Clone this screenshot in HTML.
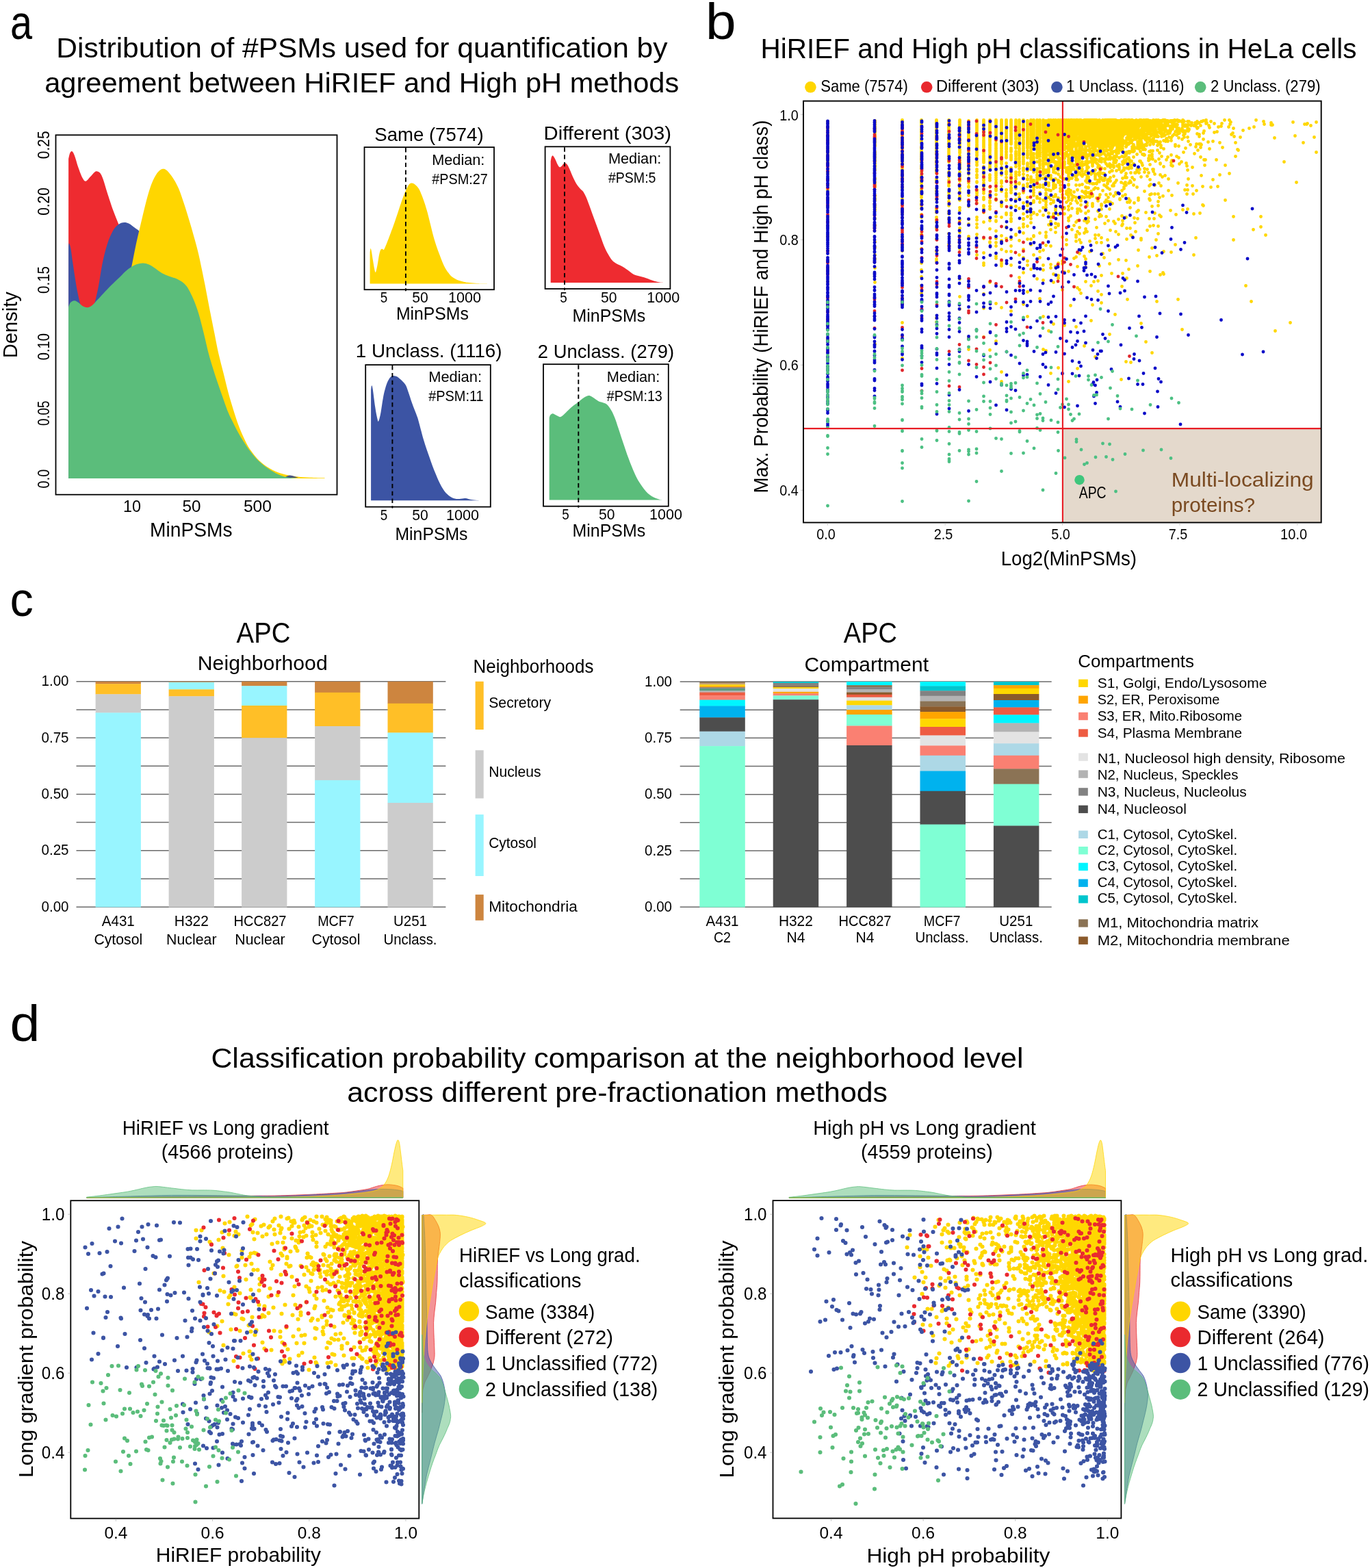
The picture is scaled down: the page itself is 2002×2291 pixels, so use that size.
<!DOCTYPE html>
<html lang="en"><head><meta charset="utf-8"><title>Figure</title>
<style>html,body{margin:0;padding:0;background:#fff}svg{display:block}text{font-family:"Liberation Sans",Arial,Helvetica,sans-serif}</style>
</head><body>
<svg width="2002" height="2291" viewBox="0 0 2002 2291">
<rect width="2002" height="2291" fill="#fff"/>
<g><text x="14.9" y="57.4" font-size="71" textLength="32.1" lengthAdjust="spacingAndGlyphs">a</text>
<text x="82.3" y="84.2" font-size="41" textLength="893.2" lengthAdjust="spacingAndGlyphs">Distribution of #PSMs used for quantification by</text>
<text x="65.2" y="135.2" font-size="41" textLength="927" lengthAdjust="spacingAndGlyphs">agreement between HiRIEF and High pH methods</text>
<path d="M100.1 232.2C100.5 230.8 101.3 225.9 102.1 224C103 222.2 103.9 220.6 105 221.1C106.2 221.6 107.2 222.9 108.8 226.9C110.4 230.9 112.7 239.7 114.6 245.2C116.6 250.7 118.6 256.5 120.4 259.7C122.2 263 123.4 264.9 125.4 264.7C127.3 264.4 130 260.4 132 258.3C134.1 256.1 136.1 253.2 137.8 251.9C139.5 250.6 140.7 250.2 142.2 250.4C143.6 250.6 145.1 251 146.5 253C148 255.1 149.2 257.9 150.9 262.6C152.6 267.4 154.3 274 156.7 281.5C159.1 289 162.5 299.6 165.4 307.6C168.3 315.6 170.7 321.1 174.1 329.4C177.5 337.6 180.9 346.1 185.7 356.9C190.6 367.8 195.4 381.6 203.1 394.7C210.9 407.7 227.3 428.5 232.2 435.3L232.2 698.9L100.1 698.9Z" fill="#ee2b30"/>
<path d="M100.1 359.8C100.3 359.1 100.5 355 101 355.5C101.5 356 102.4 358.1 103.3 362.7C104.2 367.3 105.1 375.8 106.2 383.1C107.3 390.3 108.4 398.5 109.7 406.3C110.9 414 112.2 422.2 113.8 429.5C115.3 436.7 117.1 444 119 449.8C120.8 455.6 123.3 461.3 124.8 464.3C126.2 467.3 126.6 467.8 127.7 467.8C128.7 467.8 129.7 467.3 131.2 464.3C132.6 461.3 134.3 457.2 136.4 449.8C138.5 442.4 141.5 430.5 143.6 419.9C145.8 409.3 147.3 396.4 149.4 386C151.6 375.5 154 365.2 156.7 356.9C159.4 348.7 162.5 341.6 165.4 336.6C168.3 331.7 171.5 329.3 174.1 327.3C176.8 325.4 179 325.1 181.4 325C183.8 324.9 186 325.4 188.6 326.8C191.3 328.1 194.7 331.1 197.3 333.1C200 335.2 200.7 335 204.6 338.9C208.5 342.9 213.5 345.7 220.5 356.9C227.6 368.2 242.3 398 246.7 406.3L246.7 698.9L100.1 698.9Z" fill="#3c54a4"/>
<path d="M179.9 435.3C181.1 431.4 185 420.3 187.2 412.1C189.3 403.8 191.1 394.7 193 386C194.8 377.2 196.5 367.8 198.2 359.8C199.9 351.9 201.3 345.8 203.1 338.1C204.9 330.3 207 321.4 208.9 313.4C210.9 305.4 212.8 297.2 214.7 290.2C216.7 283.2 218.6 276.6 220.5 271.3C222.5 266 224.4 261.8 226.3 258.3C228.3 254.7 230.2 252.1 232.2 250.1C234.1 248.2 236 246.9 238 246.7C239.9 246.5 241.3 246.8 243.8 249C246.2 251.2 249.6 255.3 252.5 259.7C255.4 264.2 258.5 269.6 261.2 275.7C263.8 281.7 266 288.7 268.4 296C270.8 303.3 273.3 311.2 275.7 319.2C278.1 327.2 280.5 335.2 282.9 343.9C285.4 352.6 287.5 359.9 290.2 371.4C292.9 383 296 398.5 298.9 412.9C301.8 427.4 305.2 445.7 307.6 458C310 470.4 311.5 477.4 313.4 487.1C315.3 496.7 317 506.4 319.2 516.1C321.4 525.7 324 535.4 326.5 545.1C328.9 554.8 331.3 565.2 333.7 574.1C336.1 583.1 338.6 591 341 598.8C343.4 606.5 345.8 614 348.2 620.5C350.6 627.1 353.1 632.6 355.5 638C357.9 643.3 360.1 648 362.7 652.5C365.4 656.9 368.5 661 371.4 664.7C374.3 668.3 376.8 671.2 380.2 674.2C383.5 677.3 387.4 680.3 391.8 682.9C396.1 685.6 401.4 688.3 406.3 690.2C411.1 692.1 415.9 693.2 420.8 694.3C425.6 695.3 430 696 435.3 696.6C440.6 697.2 446.2 697.4 452.7 697.7C459.2 698 470.8 698.2 474.5 698.3L474.5 698.9L179.9 698.9Z" fill="#ffd600"/>
<path d="M416 698 Q422 692 430 696 L436 698Z" fill="#4a5580"/>
<path d="M100.1 448.8C100.6 447.6 101.6 443.7 103 442.1C104.5 440.5 106.9 439.2 108.8 439.2C110.8 439.2 112.7 440.8 114.6 442.1C116.6 443.4 118.3 445.8 120.4 447C122.6 448.2 125.3 449.5 127.7 449.3C130.1 449.1 132.5 447.7 134.9 445.9C137.4 444 139.5 441.1 142.2 438.3C144.9 435.5 147.5 432.6 150.9 429C154.3 425.4 158.6 420.7 162.5 416.8C166.4 413 170.7 409.1 174.1 405.8C177.5 402.5 179.9 399.6 182.8 397C185.7 394.4 188.6 392.1 191.5 390.3C194.4 388.5 197.3 386.9 200.2 386C203.1 385 206 384.4 208.9 384.5C211.8 384.6 214.7 385.3 217.6 386.5C220.5 387.7 223.2 389.7 226.3 391.8C229.5 393.8 233.1 397.1 236.5 399C239.9 400.9 243.5 402.2 246.7 403.4C249.8 404.6 252.7 405.2 255.4 406.3C258 407.3 260.2 408.3 262.6 409.8C265 411.2 267.7 412.8 269.9 415C272.1 417.2 273.5 419.1 275.7 422.9C277.9 426.7 280.5 431.9 282.9 437.7C285.4 443.6 287.8 450.1 290.2 458C292.6 466 295 475.9 297.4 485.6C299.9 495.3 302.3 506.9 304.7 516.1C307.1 525.3 309.5 533 312 540.7C314.4 548.5 316.8 555.4 319.2 562.5C321.6 569.6 324 576.6 326.5 583.4C328.9 590.2 331.3 597.3 333.7 603.1C336.1 608.9 338.6 613.4 341 618.2C343.4 623.1 345.8 627.8 348.2 632.2C350.6 636.6 353.1 640.8 355.5 644.6C357.9 648.5 360.3 652 362.7 655.4C365.2 658.7 367.6 661.8 370 664.7C372.4 667.6 374.8 670.4 377.2 672.8C379.7 675.2 382.1 677.2 384.5 679.2C386.9 681.1 389.3 682.7 391.8 684.4C394.2 686 396.6 687.6 399 689C401.4 690.5 403.8 692 406.3 693.1C408.7 694.2 411.1 695 413.5 695.7C415.9 696.4 417.2 696.9 420.8 697.4C424.4 698 432.9 698.7 435.3 698.9L435.3 698.9L100.1 698.9Z" fill="#5bbd7b"/>
<rect x="81.5" y="197.3" width="411" height="525.4" fill="none" stroke="#000" stroke-width="1.8"/>
<text x="193" y="748.3" font-size="24.2" text-anchor="middle" textLength="26" lengthAdjust="spacingAndGlyphs">10</text>
<text x="280" y="748.3" font-size="24.2" text-anchor="middle" textLength="27" lengthAdjust="spacingAndGlyphs">50</text>
<text x="376.4" y="748.3" font-size="24.2" text-anchor="middle" textLength="41" lengthAdjust="spacingAndGlyphs">500</text>
<text x="219" y="783.6" font-size="29.9" textLength="120.5" lengthAdjust="spacingAndGlyphs">MinPSMs</text>
<text font-size="24.2" text-anchor="middle" textLength="27.6" lengthAdjust="spacingAndGlyphs" transform="translate(72 699.6) rotate(-90)">0.0</text>
<text font-size="24.2" text-anchor="middle" textLength="36.3" lengthAdjust="spacingAndGlyphs" transform="translate(72 603.9) rotate(-90)">0.05</text>
<text font-size="24.2" text-anchor="middle" textLength="39.2" lengthAdjust="spacingAndGlyphs" transform="translate(72 506.6) rotate(-90)">0.10</text>
<text font-size="24.2" text-anchor="middle" textLength="40" lengthAdjust="spacingAndGlyphs" transform="translate(72 409) rotate(-90)">0.15</text>
<text font-size="24.2" text-anchor="middle" textLength="40.7" lengthAdjust="spacingAndGlyphs" transform="translate(72 294.5) rotate(-90)">0.20</text>
<text font-size="24.2" text-anchor="middle" textLength="40.7" lengthAdjust="spacingAndGlyphs" transform="translate(72 211.8) rotate(-90)">0.25</text>
<text font-size="29.9" text-anchor="middle" textLength="97" lengthAdjust="spacingAndGlyphs" transform="translate(24.9 474.7) rotate(-90)">Density</text>
<path d="M540.6 368.9C540.8 368 541.1 363.4 541.5 363.1C541.9 362.9 542.4 364.6 542.9 367.5C543.5 370.4 544.3 376.4 545 380.5C545.7 384.7 546.4 389.3 547 392.2C547.6 395.1 548.2 398 548.8 398C549.3 398 549.9 394.6 550.5 392.2C551.1 389.7 551.6 386.9 552.2 383.4C552.9 380 553.5 374.4 554.3 371.3C555 368.1 555.8 365.8 556.6 364.6C557.4 363.3 558.2 363.7 558.9 363.7C559.6 363.8 560.1 365.7 560.9 364.9C561.8 364.1 562.9 361 563.8 358.8C564.8 356.6 565.5 354.7 566.7 351.5C568 348.4 569.6 343.8 571.1 339.9C572.5 336 573.8 333.1 575.4 328.3C577.1 323.5 579.3 316.7 581.3 310.9C583.2 305.1 585.4 298.3 587.1 293.5C588.8 288.7 590 285.4 591.4 281.9C592.9 278.4 594.6 274.8 595.8 272.6C597 270.4 597.7 269.4 598.7 268.5C599.6 267.7 600.5 267.4 601.6 267.4C602.6 267.4 603.8 267.8 605 268.5C606.3 269.3 607.6 270.4 608.8 271.7C610.1 273.1 611.4 274.5 612.6 276.7C613.8 278.8 614.8 281.5 616.1 284.8C617.4 288.1 619 292 620.4 296.4C621.9 300.7 623.3 305.6 624.8 310.9C626.2 316.2 627.7 322.5 629.1 328.3C630.6 334.1 632 340.5 633.5 345.7C634.9 350.9 636.4 355.3 637.8 359.7C639.3 364 640.7 368 642.2 371.8C643.6 375.7 645.1 379.5 646.5 382.9C648 386.3 649.4 389.5 650.9 392.2C652.4 394.8 653.8 396.6 655.3 398.5C656.7 400.5 657.9 402.3 659.6 403.8C661.3 405.3 663.5 406.5 665.4 407.5C667.3 408.6 669 409.4 671.2 410.1C673.4 410.9 676 411.4 678.5 411.9C680.9 412.4 682.6 412.7 685.7 413C688.9 413.4 693 413.7 697.3 413.9C701.7 414.1 709.4 414.2 711.8 414.2L711.8 414.5L540.6 414.5Z" fill="#ffd600"/>
<rect x="532.5" y="215.1" width="189.5" height="208.1" fill="none" stroke="#000" stroke-width="1.8"/>
<path d="M592.9 216.1V425.2" stroke="#000" stroke-width="1.9" stroke-dasharray="6.4 4.4" fill="none"/>
<text x="547.3" y="206.4" font-size="28.3" textLength="159.3" lengthAdjust="spacingAndGlyphs">Same (7574)</text>
<text x="631.2" y="241.3" font-size="21.6" textLength="77.2" lengthAdjust="spacingAndGlyphs">Median:</text>
<text x="631.2" y="268.8" font-size="21.6" textLength="81.5" lengthAdjust="spacingAndGlyphs">#PSM:27</text>
<text x="561" y="442" font-size="21.6" text-anchor="middle" textLength="10.5" lengthAdjust="spacingAndGlyphs">5</text>
<text x="614" y="442" font-size="21.6" text-anchor="middle" textLength="23.5" lengthAdjust="spacingAndGlyphs">50</text>
<text x="679" y="442" font-size="21.6" text-anchor="middle" textLength="48" lengthAdjust="spacingAndGlyphs">1000</text>
<text x="578.9" y="467" font-size="25.2" textLength="106" lengthAdjust="spacingAndGlyphs">MinPSMs</text>
<path d="M804.7 235.4C804.9 234.5 805.4 231 805.9 229.6C806.3 228.3 807 227.3 807.6 227.3C808.2 227.3 808.9 228.5 809.6 229.6C810.4 230.8 811.1 232.2 812 234C812.8 235.8 813.9 238.7 814.9 240.4C815.8 242.1 816.8 243.8 817.8 244.2C818.7 244.5 819.7 243.5 820.7 242.7C821.6 241.9 822.6 239.9 823.6 239.2C824.5 238.5 825.5 238 826.5 238.4C827.4 238.7 828.4 239.8 829.4 241.3C830.3 242.7 831.1 244.4 832.3 247.1C833.5 249.7 834.9 253.6 836.6 257.2C838.3 260.8 840.6 265.8 842.4 268.8C844.3 271.9 846 273.6 847.6 275.5C849.3 277.4 851.1 278.4 852.6 280.4C854 282.5 855.1 285 856.4 287.7C857.6 290.3 858.3 292.3 859.8 296.4C861.4 300.5 863.7 307 865.6 312.4C867.6 317.7 869.5 323 871.4 328.3C873.4 333.6 875.3 339 877.2 344.3C879.2 349.6 881.1 355.6 883.1 360.2C885 364.8 886.9 368.5 888.9 371.8C890.8 375.2 892.7 378.4 894.7 380.5C896.6 382.7 898.5 383.7 900.5 384.9C902.4 386.1 904.3 386.8 906.3 387.8C908.2 388.8 910.1 389.8 912.1 391C914 392.2 915.9 393.7 917.9 395.1C919.8 396.5 921.7 398.2 923.7 399.4C925.6 400.6 927.5 401.6 929.5 402.3C931.4 403 933.4 403.3 935.3 403.8C937.2 404.2 939.2 404.6 941.1 405.2C943 405.8 945 406.5 946.9 407.2C948.8 408 950.8 408.9 952.7 409.6C954.6 410.2 956.6 410.8 958.5 411.3C960.4 411.8 962.3 412.2 964.3 412.5C966.3 412.8 969.6 413 970.7 413L970.7 413L804.7 413Z" fill="#ee2b30"/>
<rect x="796.6" y="214.3" width="182.8" height="207.7" fill="none" stroke="#000" stroke-width="1.8"/>
<path d="M825 215.3V424" stroke="#000" stroke-width="1.9" stroke-dasharray="6.4 4.4" fill="none"/>
<text x="794.5" y="203.5" font-size="28.3" textLength="186.6" lengthAdjust="spacingAndGlyphs">Different (303)</text>
<text x="888.9" y="239.2" font-size="21.6" textLength="77.4" lengthAdjust="spacingAndGlyphs">Median:</text>
<text x="888.9" y="266.8" font-size="21.6" textLength="69.6" lengthAdjust="spacingAndGlyphs">#PSM:5</text>
<text x="823.6" y="441.5" font-size="21.6" text-anchor="middle" textLength="10.5" lengthAdjust="spacingAndGlyphs">5</text>
<text x="889.7" y="441.5" font-size="21.6" text-anchor="middle" textLength="23.5" lengthAdjust="spacingAndGlyphs">50</text>
<text x="969.2" y="441.5" font-size="21.6" text-anchor="middle" textLength="48" lengthAdjust="spacingAndGlyphs">1000</text>
<text x="836.6" y="470" font-size="25.2" textLength="106.5" lengthAdjust="spacingAndGlyphs">MinPSMs</text>
<path d="M542.1 570C542.2 569.1 542.4 565.8 542.7 564.7C542.9 563.7 543.2 562.9 543.5 563.6C543.9 564.2 544.2 565.5 544.7 568.5C545.2 571.5 545.9 577.2 546.4 581.6C547 585.9 547.6 590.8 548.2 594.6C548.8 598.5 549.3 601.7 549.9 604.8C550.5 607.8 551.2 611.1 551.7 612.9C552.1 614.7 552.3 616.1 552.8 615.8C553.3 615.5 553.9 613.5 554.6 611.2C555.2 608.8 555.9 605.6 556.6 601.9C557.3 598.2 557.9 593.2 558.6 588.8C559.3 584.5 560.1 579.8 560.9 575.8C561.8 571.7 562.9 567.9 563.8 564.7C564.8 561.6 565.7 559.1 566.7 556.9C567.8 554.7 569 552.7 570.2 551.4C571.4 550.1 572.7 549.4 574 549.1C575.3 548.8 576.6 549.3 577.8 549.6C579 550 579.7 550 581.3 551.1C582.8 552.2 585.1 554.1 587.1 556C589 558 591.2 559.7 592.9 562.7C594.6 565.8 595.8 570.2 597.2 574.3C598.7 578.4 600.1 583.3 601.6 587.4C603 591.5 604.5 595.1 605.9 599C607.4 602.8 608.8 606 610.3 610.6C611.7 615.2 613.2 621.2 614.6 626.5C616.1 631.9 617.5 637.6 619 642.5C620.4 647.4 621.9 651.8 623.3 656.1C624.8 660.5 626.2 664.5 627.7 668.6C629.1 672.7 630.6 676.9 632 680.8C633.5 684.7 634.9 688.3 636.4 691.8C637.8 695.4 639.3 698.9 640.7 702C642.2 705.1 643.6 708.1 645.1 710.7C646.5 713.3 648 715.4 649.4 717.4C650.9 719.3 652.4 720.9 653.8 722.3C655.3 723.7 656.7 724.8 658.2 725.8C659.6 726.8 661.1 727.6 662.5 728.1C664 728.6 665.4 728.8 666.9 729C668.3 729.1 669.8 729.1 671.2 729C672.7 728.9 674.1 728.5 675.6 728.4C677 728.3 678.5 728 679.9 728.1C681.4 728.2 682.8 728.6 684.3 729C685.7 729.3 686.4 729.8 688.6 730.1C690.8 730.5 693.9 730.8 697.3 731C700.7 731.2 707 731.3 708.9 731.3L708.9 731.3L542.1 731.3Z" fill="#3c54a4"/>
<rect x="534.2" y="533.1" width="182.6" height="207.5" fill="none" stroke="#000" stroke-width="1.8"/>
<path d="M573.4 534.1V742.6" stroke="#000" stroke-width="1.9" stroke-dasharray="6.4 4.4" fill="none"/>
<text x="519.7" y="522.1" font-size="28.3" textLength="213.9" lengthAdjust="spacingAndGlyphs">1 Unclass. (1116)</text>
<text x="626.2" y="558.4" font-size="21.6" textLength="77.8" lengthAdjust="spacingAndGlyphs">Median:</text>
<text x="626.2" y="585.9" font-size="21.6" textLength="80.4" lengthAdjust="spacingAndGlyphs">#PSM:11</text>
<text x="561" y="760" font-size="21.6" text-anchor="middle" textLength="10.5" lengthAdjust="spacingAndGlyphs">5</text>
<text x="614" y="760" font-size="21.6" text-anchor="middle" textLength="23.5" lengthAdjust="spacingAndGlyphs">50</text>
<text x="676" y="760" font-size="21.6" text-anchor="middle" textLength="48" lengthAdjust="spacingAndGlyphs">1000</text>
<text x="577.5" y="789" font-size="25.2" textLength="105.9" lengthAdjust="spacingAndGlyphs">MinPSMs</text>
<path d="M802.7 610.6C802.9 609.9 803.3 607.6 804.1 606.5C804.9 605.5 806.5 604.4 807.6 604.2C808.7 604 809.5 604.9 810.5 605.4C811.5 605.8 812.4 606.6 813.4 607.1C814.4 607.6 815.3 608.2 816.3 608.6C817.3 608.9 818 609.6 819.2 609.1C820.4 608.7 821.6 607.6 823.6 605.9C825.5 604.3 828.4 601.2 830.8 599C833.2 596.8 835.7 594.5 838.1 592.6C840.5 590.7 842.9 589.2 845.3 587.4C847.7 585.5 850.2 583.1 852.6 581.6C855 580 857.9 578.5 859.8 578.1C861.8 577.7 862.7 578.6 864.2 579.2C865.6 579.9 866.9 581 868.5 582.1C870.2 583.3 872.4 585 874.3 585.9C876.3 586.9 878.2 587.2 880.2 588C882.1 588.7 884.3 589.1 886 590.3C887.6 591.4 888.9 593 890.3 594.9C891.8 596.9 893.2 599 894.7 601.9C896.1 604.7 897.6 608.2 899 612C900.5 615.9 901.9 620.7 903.4 625.1C904.8 629.4 906.3 633.8 907.7 638.2C909.2 642.5 910.4 646.2 912.1 651.2C913.8 656.2 915.9 662.7 917.9 668C919.8 673.4 921.7 678.4 923.7 683.1C925.6 687.8 927.5 692.3 929.5 696.2C931.4 700.1 933.4 703.3 935.3 706.3C937.2 709.4 939.2 712.1 941.1 714.5C943 716.9 945 719.1 946.9 720.9C948.8 722.6 950.8 724 952.7 725.2C954.6 726.4 956.6 727.3 958.5 728.1C960.4 728.9 962.6 729.5 964.3 729.9C966 730.2 967.9 730.3 968.7 730.4L968.7 730.4L802.7 730.4Z" fill="#5bbd7b"/>
<rect x="794" y="532.2" width="182.8" height="207.5" fill="none" stroke="#000" stroke-width="1.8"/>
<path d="M845.3 533.2V741.7" stroke="#000" stroke-width="1.9" stroke-dasharray="6.4 4.4" fill="none"/>
<text x="785.8" y="523" font-size="28.3" textLength="199.4" lengthAdjust="spacingAndGlyphs">2 Unclass. (279)</text>
<text x="886.8" y="558.4" font-size="21.6" textLength="77.5" lengthAdjust="spacingAndGlyphs">Median:</text>
<text x="886.8" y="585.9" font-size="21.6" textLength="81" lengthAdjust="spacingAndGlyphs">#PSM:13</text>
<text x="826.5" y="759.2" font-size="21.6" text-anchor="middle" textLength="10.5" lengthAdjust="spacingAndGlyphs">5</text>
<text x="886.8" y="759.2" font-size="21.6" text-anchor="middle" textLength="23.5" lengthAdjust="spacingAndGlyphs">50</text>
<text x="973" y="759.2" font-size="21.6" text-anchor="middle" textLength="48" lengthAdjust="spacingAndGlyphs">1000</text>
<text x="836.6" y="784.1" font-size="25.2" textLength="106.5" lengthAdjust="spacingAndGlyphs">MinPSMs</text></g>
<g><text x="1031" y="56.9" font-size="74.7" textLength="44.6" lengthAdjust="spacingAndGlyphs">b</text>
<text x="1111.5" y="85" font-size="41" textLength="871" lengthAdjust="spacingAndGlyphs">HiRIEF and High pH classifications in HeLa cells</text>
<circle cx="1184.4" cy="127.3" r="8.3" fill="#ffd600"/>
<text x="1199.2" y="134.4" font-size="24.2" textLength="127.6" lengthAdjust="spacingAndGlyphs">Same (7574)</text>
<circle cx="1354.2" cy="127.3" r="8.3" fill="#e8282d"/>
<text x="1367.9" y="134.4" font-size="24.2" textLength="150.7" lengthAdjust="spacingAndGlyphs">Different (303)</text>
<circle cx="1544.4" cy="127.3" r="8.3" fill="#3c54a4"/>
<text x="1558" y="134.4" font-size="24.2" textLength="172.6" lengthAdjust="spacingAndGlyphs">1 Unclass. (1116)</text>
<circle cx="1754.2" cy="127.3" r="8.3" fill="#5bbd7b"/>
<text x="1769" y="134.4" font-size="24.2" textLength="160.5" lengthAdjust="spacingAndGlyphs">2 Unclass. (279)</text>
<rect x="1553" y="626" width="377.7" height="137" fill="#e4d9cc"/>
<path d="M1209.5 177.5h.01m0 1h-.01m0 2h.01m0 5h-.01m0 3h.01m0 8h-.01m0 1h.01m0 7h-.01m0 2h.01m0 8h-.01m0 1h.01m0 3h-.01m0 3h.01m0 1h-.01m0 3h.01m0 1h-.01m0 6h.01m0 1h-.01m0 3h.01m0 1h-.01m0 14h.01m0 2h-.01m0 9h.01m0 8h-.01m0 7h.01m0 5h-.01m0 7h.01m0 12h-.01m0 16h.01m0 12h-.01m0 15h.01m0 1h-.01m0 66h.01m0 31h-.01m0 33h.01m0 21h-.01m69 -320h.01m0 1h-.01m0 2h.01m0 2h-.01m0 3h.01m0 1h-.01m0 1h.01m0 3h-.01m0 1h.01m0 1h-.01m0 1h.01m0 1h-.01m0 1h.01m0 3h-.01m0 1h.01m0 1h-.01m0 1h.01m0 1h-.01m0 1h.01m0 1h-.01m0 1h.01m0 3h-.01m0 3h.01m0 2h-.01m0 1h.01m0 8h-.01m0 2h.01m0 2h-.01m0 1h.01m0 3h-.01m0 1h.01m0 3h-.01m0 1h.01m0 2h-.01m0 3h.01m0 1h-.01m0 1h.01m0 1h-.01m0 2h.01m0 4h-.01m0 12h.01m0 1h-.01m0 5h.01m0 1h-.01m0 3h.01m0 1h-.01m0 2h.01m0 12h-.01m0 2h.01m0 3h-.01m0 1h.01m0 1h-.01m0 8h.01m0 3h-.01m0 2h.01m0 2h-.01m0 12h.01m0 10h-.01m0 24h.01m0 8h-.01m0 11h.01m0 6h-.01m0 13h.01m0 21h-.01m0 90h.01m40 -327h-.01m0 1h.01m0 1h-.01m0 1h.01m0 2h-.01m0 1h.01m0 1h-.01m0 3h.01m0 1h-.01m0 1h.01m0 1h-.01m0 1h.01m0 1h-.01m0 1h.01m0 1h-.01m0 1h.01m0 1h-.01m0 2h.01m0 1h-.01m0 1h.01m0 1h-.01m0 2h.01m0 1h-.01m0 2h.01m0 1h-.01m0 1h.01m0 1h-.01m0 1h.01m0 2h-.01m0 1h.01m0 1h-.01m0 1h.01m0 2h-.01m0 1h.01m0 1h-.01m0 3h.01m0 3h-.01m0 3h.01m0 3h-.01m0 1h.01m0 1h-.01m0 1h.01m0 1h-.01m0 2h.01m0 2h-.01m0 1h.01m0 3h-.01m0 1h.01m0 1h-.01m0 1h.01m0 2h-.01m0 2h.01m0 1h-.01m0 2h.01m0 2h-.01m0 3h.01m0 2h-.01m0 2h.01m0 3h-.01m0 6h.01m0 6h-.01m0 15h.01m0 7h-.01m0 2h.01m0 7h-.01m0 6h.01m0 12h-.01m0 21h.01m0 13h-.01m0 8h.01m0 26h-.01m0 6h.01m0 73h-.01m0 52h.01m28 -348h-.01m0 1h.01m0 1h-.01m0 1h.01m0 1h-.01m0 1h.01m0 2h-.01m0 1h.01m0 5h-.01m0 1h.01m0 2h-.01m0 1h.01m0 1h-.01m0 3h.01m0 1h-.01m0 2h.01m0 1h-.01m0 1h.01m0 2h-.01m0 1h.01m0 1h-.01m0 1h.01m0 1h-.01m0 1h.01m0 6h-.01m0 1h.01m0 1h-.01m0 1h.01m0 1h-.01m0 2h.01m0 1h-.01m0 1h.01m0 3h-.01m0 2h.01m0 2h-.01m0 2h.01m0 1h-.01m0 1h.01m0 3h-.01m0 6h.01m0 1h-.01m0 2h.01m0 1h-.01m0 5h.01m0 5h-.01m0 2h.01m0 2h-.01m0 3h.01m0 1h-.01m0 1h.01m0 2h-.01m0 4h.01m0 5h-.01m0 1h.01m0 1h-.01m0 1h.01m0 3h-.01m0 3h.01m0 3h-.01m0 5h.01m0 4h-.01m0 1h.01m0 2h-.01m0 4h.01m0 9h-.01m0 4h.01m0 16h-.01m0 1h.01m0 8h-.01m0 21h.01m0 21h-.01m0 10h.01m0 10h-.01m0 13h.01m0 11h-.01m22 -253h.01m0 1h-.01m0 1h.01m0 1h-.01m0 1h.01m0 1h-.01m0 1h.01m0 1h-.01m0 2h.01m0 1h-.01m0 1h.01m0 1h-.01m0 2h.01m0 1h-.01m0 1h.01m0 1h-.01m0 1h.01m0 2h-.01m0 1h.01m0 1h-.01m0 1h.01m0 1h-.01m0 1h.01m0 2h-.01m0 1h.01m0 2h-.01m0 1h.01m0 1h-.01m0 2h.01m0 2h-.01m0 1h.01m0 2h-.01m0 1h.01m0 1h-.01m0 1h.01m0 1h-.01m0 1h.01m0 1h-.01m0 2h.01m0 1h-.01m0 1h.01m0 1h-.01m0 5h.01m0 1h-.01m0 3h.01m0 1h-.01m0 1h.01m0 1h-.01m0 1h.01m0 2h-.01m0 5h.01m0 2h-.01m0 1h.01m0 1h-.01m0 1h.01m0 2h-.01m0 9h.01m0 1h-.01m0 1h.01m0 2h-.01m0 1h.01m0 9h-.01m0 3h.01m0 1h-.01m0 3h.01m0 8h-.01m0 1h.01m0 13h-.01m0 2h.01m0 1h-.01m0 3h.01m0 7h-.01m0 3h.01m0 2h-.01m0 2h.01m0 9h-.01m0 16h.01m0 18h-.01m0 11h.01m0 3h-.01m0 83h.01m0 6h-.01m18 -295h.01m0 2h-.01m0 1h.01m0 2h-.01m0 1h.01m0 1h-.01m0 1h.01m0 1h-.01m0 1h.01m0 1h-.01m0 2h.01m0 1h-.01m0 1h.01m0 1h-.01m0 1h.01m0 1h-.01m0 1h.01m0 1h-.01m0 1h.01m0 1h-.01m0 1h.01m0 1h-.01m0 1h.01m0 1h-.01m0 1h.01m0 1h-.01m0 1h.01m0 1h-.01m0 1h.01m0 1h-.01m0 2h.01m0 1h-.01m0 1h.01m0 1h-.01m0 1h.01m0 4h-.01m0 3h.01m0 2h-.01m0 2h.01m0 2h-.01m0 1h.01m0 1h-.01m0 4h.01m0 2h-.01m0 1h.01m0 1h-.01m0 15h.01m0 1h-.01m0 6h.01m0 5h-.01m0 3h.01m0 2h-.01m0 3h.01m0 10h-.01m0 4h.01m0 4h-.01m0 5h.01m0 6h-.01m0 9h.01m0 3h-.01m0 7h.01m0 22h-.01m0 16h.01m16 -182h-.01m0 1h.01m0 1h-.01m0 1h.01m0 1h-.01m0 2h.01m0 1h-.01m0 1h.01m0 1h-.01m0 1h.01m0 1h-.01m0 1h.01m0 2h-.01m0 1h.01m0 1h-.01m0 2h.01m0 2h-.01m0 1h.01m0 1h-.01m0 1h.01m0 1h-.01m0 1h.01m0 1h-.01m0 2h.01m0 1h-.01m0 1h.01m0 2h-.01m0 1h.01m0 2h-.01m0 2h.01m0 1h-.01m0 1h.01m0 4h-.01m0 1h.01m0 2h-.01m0 1h.01m0 1h-.01m0 4h.01m0 2h-.01m0 1h.01m0 1h-.01m0 3h.01m0 2h-.01m0 1h.01m0 1h-.01m0 1h.01m0 1h-.01m0 1h.01m0 1h-.01m0 1h.01m0 2h-.01m0 1h.01m0 5h-.01m0 5h.01m0 1h-.01m0 2h.01m0 1h-.01m0 1h.01m0 1h-.01m0 1h.01m0 1h-.01m0 6h.01m0 4h-.01m0 1h.01m0 5h-.01m0 6h.01m0 2h-.01m0 1h.01m0 3h-.01m0 11h.01m0 4h-.01m0 14h.01m0 12h-.01m0 6h.01m0 24h-.01m0 44h.01m0 26h-.01m0 18h.01m13 -275h-.01m0 1h.01m0 1h-.01m0 1h.01m0 1h-.01m0 1h.01m0 1h-.01m0 1h.01m0 1h-.01m0 1h.01m0 1h-.01m0 1h.01m0 1h-.01m0 1h.01m0 1h-.01m0 1h.01m0 1h-.01m0 1h.01m0 1h-.01m0 1h.01m0 1h-.01m0 1h.01m0 1h-.01m0 1h.01m0 1h-.01m0 1h.01m0 1h-.01m0 1h.01m0 1h-.01m0 2h.01m0 1h-.01m0 2h.01m0 1h-.01m0 1h.01m0 1h-.01m0 3h.01m0 1h-.01m0 1h.01m0 2h-.01m0 1h.01m0 1h-.01m0 1h.01m0 2h-.01m0 2h.01m0 1h-.01m0 1h.01m0 1h-.01m0 4h.01m0 1h-.01m0 1h.01m0 2h-.01m0 1h.01m0 1h-.01m0 3h.01m0 2h-.01m0 1h.01m0 2h-.01m0 2h.01m0 5h-.01m0 6h.01m0 1h-.01m0 1h.01m0 2h-.01m0 3h.01m0 5h-.01m0 1h.01m0 6h-.01m0 6h.01m0 8h-.01m0 8h.01m0 19h-.01m0 7h.01m0 18h-.01m0 2h.01m0 146h-.01m0 17h.01m12 -335h-.01m0 1h.01m0 1h-.01m0 1h.01m0 1h-.01m0 1h.01m0 1h-.01m0 1h.01m0 1h-.01m0 1h.01m0 1h-.01m0 1h.01m0 1h-.01m0 1h.01m0 1h-.01m0 1h.01m0 1h-.01m0 2h.01m0 1h-.01m0 2h.01m0 1h-.01m0 1h.01m0 1h-.01m0 1h.01m0 1h-.01m0 1h.01m0 1h-.01m0 1h.01m0 1h-.01m0 1h.01m0 1h-.01m0 1h.01m0 2h-.01m0 1h.01m0 1h-.01m0 1h.01m0 1h-.01m0 1h.01m0 1h-.01m0 3h.01m0 2h-.01m0 1h.01m0 1h-.01m0 2h.01m0 1h-.01m0 1h.01m0 4h-.01m0 4h.01m0 1h-.01m0 1h.01m0 3h-.01m0 1h.01m0 6h-.01m0 3h.01m0 5h-.01m0 1h.01m0 3h-.01m0 6h.01m0 1h-.01m0 11h.01m0 1h-.01m0 1h.01m0 1h-.01m0 1h.01m0 1h-.01m0 3h.01m0 11h-.01m0 21h.01m0 4h-.01m0 6h.01m0 5h-.01m0 10h.01m0 5h-.01m0 25h.01m10 -197h-.01m0 1h.01m0 1h-.01m0 1h.01m0 1h-.01m0 1h.01m0 2h-.01m0 1h.01m0 1h-.01m0 1h.01m0 1h-.01m0 1h.01m0 1h-.01m0 1h.01m0 1h-.01m0 1h.01m0 2h-.01m0 1h.01m0 1h-.01m0 1h.01m0 1h-.01m0 1h.01m0 1h-.01m0 2h.01m0 3h-.01m0 1h.01m0 1h-.01m0 1h.01m0 1h-.01m0 1h.01m0 1h-.01m0 1h.01m0 1h-.01m0 1h.01m0 1h-.01m0 1h.01m0 3h-.01m0 2h.01m0 1h-.01m0 1h.01m0 1h-.01m0 1h.01m0 3h-.01m0 2h.01m0 2h-.01m0 1h.01m0 1h-.01m0 1h.01m0 1h-.01m0 1h.01m0 1h-.01m0 6h.01m0 1h-.01m0 3h.01m0 3h-.01m0 1h.01m0 2h-.01m0 1h.01m0 1h-.01m0 4h.01m0 1h-.01m0 2h.01m0 1h-.01m0 4h.01m0 2h-.01m0 1h.01m0 2h-.01m0 7h.01m0 3h-.01m0 6h.01m0 2h-.01m0 1h.01m0 9h-.01m0 1h.01m0 4h-.01m0 2h.01m0 3h-.01m0 14h.01m0 24h-.01m0 21h.01m0 15h-.01m0 3h.01m0 42h-.01m0 21h.01m0 42h-.01m9 -317h.01m0 1h-.01m0 1h.01m0 1h-.01m0 1h.01m0 1h-.01m0 1h.01m0 1h-.01m0 1h.01m0 1h-.01m0 1h.01m0 1h-.01m0 1h.01m0 1h-.01m0 1h.01m0 1h-.01m0 1h.01m0 1h-.01m0 1h.01m0 1h-.01m0 1h.01m0 1h-.01m0 1h.01m0 1h-.01m0 1h.01m0 1h-.01m0 1h.01m0 1h-.01m0 1h.01m0 1h-.01m0 1h.01m0 1h-.01m0 2h.01m0 2h-.01m0 1h.01m0 1h-.01m0 1h.01m0 2h-.01m0 1h.01m0 2h-.01m0 1h.01m0 1h-.01m0 2h.01m0 3h-.01m0 1h.01m0 1h-.01m0 1h.01m0 1h-.01m0 1h.01m0 1h-.01m0 4h.01m0 1h-.01m0 2h.01m0 1h-.01m0 1h.01m0 1h-.01m0 2h.01m0 2h-.01m0 1h.01m0 1h-.01m0 8h.01m0 1h-.01m0 3h.01m0 1h-.01m0 3h.01m0 10h-.01m0 10h.01m0 1h-.01m0 2h.01m0 2h-.01m0 5h.01m0 2h-.01m0 1h.01m0 5h-.01m0 4h.01m0 13h-.01m0 4h.01m0 12h-.01m0 19h.01m0 1h-.01m0 58h.01m0 99h-.01m9 -336h.01m0 1h-.01m0 1h.01m0 1h-.01m0 1h.01m0 1h-.01m0 1h.01m0 1h-.01m0 1h.01m0 1h-.01m0 1h.01m0 1h-.01m0 1h.01m0 1h-.01m0 1h.01m0 1h-.01m0 1h.01m0 1h-.01m0 1h.01m0 1h-.01m0 1h.01m0 1h-.01m0 1h.01m0 1h-.01m0 1h.01m0 1h-.01m0 1h.01m0 1h-.01m0 1h.01m0 2h-.01m0 4h.01m0 1h-.01m0 1h.01m0 1h-.01m0 2h.01m0 2h-.01m0 1h.01m0 2h-.01m0 1h.01m0 1h-.01m0 1h.01m0 1h-.01m0 1h.01m0 1h-.01m0 1h.01m0 1h-.01m0 1h.01m0 1h-.01m0 1h.01m0 1h-.01m0 1h.01m0 2h-.01m0 2h.01m0 3h-.01m0 3h.01m0 1h-.01m0 3h.01m0 1h-.01m0 2h.01m0 3h-.01m0 1h.01m0 2h-.01m0 1h.01m0 3h-.01m0 3h.01m0 4h-.01m0 2h.01m0 7h-.01m0 1h.01m0 2h-.01m0 6h.01m0 6h-.01m0 2h.01m0 24h-.01m0 6h.01m0 1h-.01m0 14h.01m0 11h-.01m0 6h.01m0 5h-.01m0 15h.01m0 3h-.01m0 66h.01m0 55h-.01m8 -323h.01m0 1h-.01m0 1h.01m0 1h-.01m0 1h.01m0 1h-.01m0 1h.01m0 1h-.01m0 1h.01m0 1h-.01m0 1h.01m0 1h-.01m0 1h.01m0 1h-.01m0 1h.01m0 1h-.01m0 1h.01m0 1h-.01m0 1h.01m0 1h-.01m0 1h.01m0 1h-.01m0 1h.01m0 2h-.01m0 1h.01m0 2h-.01m0 1h.01m0 1h-.01m0 1h.01m0 1h-.01m0 1h.01m0 2h-.01m0 2h.01m0 1h-.01m0 1h.01m0 2h-.01m0 1h.01m0 1h-.01m0 2h.01m0 1h-.01m0 1h.01m0 2h-.01m0 2h.01m0 1h-.01m0 1h.01m0 2h-.01m0 1h.01m0 3h-.01m0 2h.01m0 1h-.01m0 2h.01m0 1h-.01m0 5h.01m0 4h-.01m0 4h.01m0 3h-.01m0 9h.01m0 1h-.01m0 2h.01m0 5h-.01m0 5h.01m0 2h-.01m0 15h.01m0 4h-.01m0 1h.01m0 2h-.01m0 16h.01m0 27h-.01m0 7h.01m0 2h-.01m0 11h.01m0 18h-.01m0 3h.01m0 3h-.01m0 61h.01m0 94h-.01m0 14h.01m7 -382h-.01m0 1h.01m0 1h-.01m0 1h.01m0 1h-.01m0 1h.01m0 1h-.01m0 1h.01m0 1h-.01m0 1h.01m0 1h-.01m0 1h.01m0 1h-.01m0 2h.01m0 1h-.01m0 1h.01m0 1h-.01m0 1h.01m0 1h-.01m0 1h.01m0 2h-.01m0 1h.01m0 1h-.01m0 1h.01m0 1h-.01m0 1h.01m0 2h-.01m0 1h.01m0 1h-.01m0 1h.01m0 1h-.01m0 2h.01m0 1h-.01m0 2h.01m0 1h-.01m0 1h.01m0 1h-.01m0 1h.01m0 1h-.01m0 3h.01m0 1h-.01m0 3h.01m0 2h-.01m0 2h.01m0 1h-.01m0 8h.01m0 7h-.01m0 5h.01m0 1h-.01m0 1h.01m0 2h-.01m0 5h.01m0 5h-.01m0 13h.01m0 5h-.01m0 3h.01m0 2h-.01m0 5h.01m0 19h-.01m0 2h.01m0 18h-.01m0 1h.01m0 16h-.01m0 19h.01m7 -192h-.01m0 1h.01m0 1h-.01m0 1h.01m0 1h-.01m0 1h.01m0 1h-.01m0 1h.01m0 1h-.01m0 1h.01m0 1h-.01m0 1h.01m0 1h-.01m0 1h.01m0 1h-.01m0 1h.01m0 1h-.01m0 1h.01m0 2h-.01m0 1h.01m0 1h-.01m0 1h.01m0 1h-.01m0 1h.01m0 1h-.01m0 1h.01m0 1h-.01m0 1h.01m0 1h-.01m0 1h.01m0 1h-.01m0 1h.01m0 1h-.01m0 1h.01m0 1h-.01m0 6h.01m0 2h-.01m0 1h.01m0 2h-.01m0 5h.01m0 1h-.01m0 1h.01m0 1h-.01m0 1h.01m0 1h-.01m0 1h.01m0 1h-.01m0 12h.01m0 3h-.01m0 3h.01m0 4h-.01m0 2h.01m0 2h-.01m0 2h.01m0 3h-.01m0 6h.01m0 4h-.01m0 1h.01m0 2h-.01m0 1h.01m0 3h-.01m0 20h.01m0 10h-.01m0 3h.01m0 5h-.01m0 1h.01m0 3h-.01m0 26h.01m0 10h-.01m0 8h.01m0 20h-.01m0 67h.01m7 -279h-.01m0 1h.01m0 1h-.01m0 1h.01m0 1h-.01m0 1h.01m0 1h-.01m0 1h.01m0 1h-.01m0 1h.01m0 1h-.01m0 1h.01m0 1h-.01m0 1h.01m0 1h-.01m0 1h.01m0 1h-.01m0 1h.01m0 1h-.01m0 1h.01m0 1h-.01m0 1h.01m0 1h-.01m0 1h.01m0 1h-.01m0 2h.01m0 1h-.01m0 1h.01m0 4h-.01m0 1h.01m0 2h-.01m0 2h.01m0 2h-.01m0 1h.01m0 1h-.01m0 5h.01m0 2h-.01m0 1h.01m0 1h-.01m0 1h.01m0 2h-.01m0 3h.01m0 2h-.01m0 2h.01m0 4h-.01m0 4h.01m0 8h-.01m0 3h.01m0 3h-.01m0 4h.01m0 7h-.01m0 4h.01m0 3h-.01m0 8h.01m0 1h-.01m0 7h.01m0 10h-.01m0 41h.01m0 1h-.01m5 -168h.01m0 1h-.01m0 1h.01m0 1h-.01m0 1h.01m0 1h-.01m0 1h.01m0 1h-.01m0 1h.01m0 1h-.01m0 1h.01m0 1h-.01m0 1h.01m0 1h-.01m0 1h.01m0 1h-.01m0 1h.01m0 1h-.01m0 1h.01m0 1h-.01m0 1h.01m0 1h-.01m0 1h.01m0 1h-.01m0 1h.01m0 1h-.01m0 1h.01m0 1h-.01m0 1h.01m0 2h-.01m0 2h.01m0 1h-.01m0 1h.01m0 1h-.01m0 1h.01m0 1h-.01m0 4h.01m0 1h-.01m0 1h.01m0 1h-.01m0 2h.01m0 1h-.01m0 2h.01m0 2h-.01m0 1h.01m0 3h-.01m0 2h.01m0 3h-.01m0 1h.01m0 1h-.01m0 2h.01m0 2h-.01m0 1h.01m0 4h-.01m0 5h.01m0 4h-.01m0 12h.01m0 1h-.01m0 15h.01m0 5h-.01m0 16h.01m0 29h-.01m0 18h.01m0 21h-.01m0 33h.01m0 8h-.01m6 -238h.01m0 1h-.01m0 1h.01m0 1h-.01m0 1h.01m0 1h-.01m0 1h.01m0 1h-.01m0 1h.01m0 1h-.01m0 1h.01m0 1h-.01m0 1h.01m0 1h-.01m0 2h.01m0 1h-.01m0 1h.01m0 1h-.01m0 1h.01m0 1h-.01m0 1h.01m0 1h-.01m0 1h.01m0 1h-.01m0 1h.01m0 1h-.01m0 3h.01m0 1h-.01m0 1h.01m0 1h-.01m0 1h.01m0 1h-.01m0 1h.01m0 1h-.01m0 3h.01m0 2h-.01m0 1h.01m0 2h-.01m0 1h.01m0 2h-.01m0 2h.01m0 1h-.01m0 3h.01m0 2h-.01m0 3h.01m0 2h-.01m0 1h.01m0 2h-.01m0 1h.01m0 6h-.01m0 2h.01m0 2h-.01m0 5h.01m0 5h-.01m0 2h.01m0 9h-.01m0 2h.01m0 6h-.01m0 3h.01m0 15h-.01m0 7h.01m0 9h-.01m0 7h.01m0 1h-.01m0 7h.01m0 4h-.01m0 9h.01m0 24h-.01m0 12h.01m0 22h-.01m0 46h.01m6 -268h-.01m0 1h.01m0 1h-.01m0 1h.01m0 1h-.01m0 1h.01m0 1h-.01m0 1h.01m0 1h-.01m0 1h.01m0 2h-.01m0 1h.01m0 1h-.01m0 1h.01m0 1h-.01m0 1h.01m0 1h-.01m0 1h.01m0 1h-.01m0 1h.01m0 1h-.01m0 1h.01m0 1h-.01m0 1h.01m0 1h-.01m0 1h.01m0 1h-.01m0 1h.01m0 1h-.01m0 1h.01m0 1h-.01m0 1h.01m0 1h-.01m0 1h.01m0 1h-.01m0 1h.01m0 1h-.01m0 1h.01m0 1h-.01m0 1h.01m0 4h-.01m0 3h.01m0 2h-.01m0 1h.01m0 1h-.01m0 3h.01m0 8h-.01m0 1h.01m0 1h-.01m0 2h.01m0 2h-.01m0 5h.01m0 7h-.01m0 5h.01m0 1h-.01m0 6h.01m0 4h-.01m0 16h.01m0 9h-.01m0 3h.01m0 7h-.01m0 1h.01m0 8h-.01m0 14h.01m0 19h-.01m0 32h.01m0 6h-.01m0 39h.01m0 36h-.01m5 -287h.01m0 1h-.01m0 1h.01m0 1h-.01m0 1h.01m0 1h-.01m0 1h.01m0 1h-.01m0 1h.01m0 1h-.01m0 1h.01m0 1h-.01m0 1h.01m0 1h-.01m0 1h.01m0 1h-.01m0 1h.01m0 1h-.01m0 1h.01m0 2h-.01m0 1h.01m0 1h-.01m0 1h.01m0 2h-.01m0 1h.01m0 1h-.01m0 1h.01m0 1h-.01m0 1h.01m0 1h-.01m0 1h.01m0 1h-.01m0 1h.01m0 1h-.01m0 1h.01m0 2h-.01m0 1h.01m0 1h-.01m0 1h.01m0 1h-.01m0 2h.01m0 2h-.01m0 2h.01m0 1h-.01m0 1h.01m0 1h-.01m0 4h.01m0 1h-.01m0 1h.01m0 4h-.01m0 3h.01m0 4h-.01m0 2h.01m0 2h-.01m0 11h.01m0 2h-.01m0 3h.01m0 3h-.01m0 6h.01m0 25h-.01m0 8h.01m0 9h-.01m0 5h.01m0 6h-.01m0 24h.01m0 8h-.01m0 36h.01m4 -218h-.01m0 1h.01m0 1h-.01m0 1h.01m0 1h-.01m0 1h.01m0 1h-.01m0 1h.01m0 1h-.01m0 1h.01m0 1h-.01m0 1h.01m0 1h-.01m0 1h.01m0 1h-.01m0 1h.01m0 1h-.01m0 1h.01m0 1h-.01m0 1h.01m0 1h-.01m0 1h.01m0 1h-.01m0 1h.01m0 1h-.01m0 1h.01m0 1h-.01m0 1h.01m0 1h-.01m0 1h.01m0 1h-.01m0 1h.01m0 1h-.01m0 1h.01m0 2h-.01m0 1h.01m0 1h-.01m0 2h.01m0 1h-.01m0 1h.01m0 1h-.01m0 7h.01m0 1h-.01m0 4h.01m0 2h-.01m0 3h.01m0 1h-.01m0 1h.01m0 2h-.01m0 2h.01m0 3h-.01m0 2h.01m0 2h-.01m0 2h.01m0 2h-.01m0 12h.01m0 2h-.01m0 6h.01m0 1h-.01m0 1h.01m0 4h-.01m0 4h.01m0 4h-.01m0 8h.01m0 2h-.01m0 15h.01m0 1h-.01m0 33h.01m0 1h-.01m0 27h.01m0 17h-.01m5 -214h.01m0 1h-.01m0 1h.01m0 1h-.01m0 1h.01m0 1h-.01m0 1h.01m0 1h-.01m0 1h.01m0 1h-.01m0 1h.01m0 1h-.01m0 2h.01m0 1h-.01m0 1h.01m0 1h-.01m0 1h.01m0 1h-.01m0 1h.01m0 1h-.01m0 1h.01m0 1h-.01m0 1h.01m0 1h-.01m0 1h.01m0 1h-.01m0 1h.01m0 1h-.01m0 1h.01m0 1h-.01m0 1h.01m0 1h-.01m0 2h.01m0 1h-.01m0 1h.01m0 1h-.01m0 2h.01m0 1h-.01m0 1h.01m0 1h-.01m0 1h.01m0 1h-.01m0 4h.01m0 1h-.01m0 1h.01m0 2h-.01m0 3h.01m0 6h-.01m0 10h.01m0 1h-.01m0 4h.01m0 4h-.01m0 1h.01m0 3h-.01m0 3h.01m0 2h-.01m0 2h.01m0 1h-.01m0 6h.01m0 14h-.01m0 2h.01m0 24h-.01m0 94h.01m4 -232h-.01m0 1h.01m0 1h-.01m0 1h.01m0 1h-.01m0 1h.01m0 1h-.01m0 1h.01m0 1h-.01m0 1h.01m0 1h-.01m0 1h.01m0 1h-.01m0 1h.01m0 1h-.01m0 1h.01m0 1h-.01m0 1h.01m0 1h-.01m0 2h.01m0 1h-.01m0 1h.01m0 1h-.01m0 2h.01m0 1h-.01m0 1h.01m0 2h-.01m0 1h.01m0 1h-.01m0 1h.01m0 1h-.01m0 4h.01m0 1h-.01m0 2h.01m0 1h-.01m0 3h.01m0 3h-.01m0 1h.01m0 2h-.01m0 3h.01m0 5h-.01m0 1h.01m0 2h-.01m0 3h.01m0 2h-.01m0 4h.01m0 5h-.01m0 8h.01m0 2h-.01m0 1h.01m0 9h-.01m0 3h.01m0 8h-.01m0 9h.01m0 5h-.01m0 13h.01m0 32h-.01m0 27h.01m0 9h-.01m0 60h.01m5 -261h-.01m0 1h.01m0 1h-.01m0 1h.01m0 1h-.01m0 1h.01m0 1h-.01m0 1h.01m0 1h-.01m0 1h.01m0 1h-.01m0 1h.01m0 1h-.01m0 1h.01m0 1h-.01m0 1h.01m0 1h-.01m0 2h.01m0 1h-.01m0 1h.01m0 1h-.01m0 1h.01m0 1h-.01m0 1h.01m0 1h-.01m0 1h.01m0 1h-.01m0 3h.01m0 1h-.01m0 1h.01m0 2h-.01m0 2h.01m0 2h-.01m0 2h.01m0 1h-.01m0 1h.01m0 1h-.01m0 2h.01m0 1h-.01m0 1h.01m0 1h-.01m0 3h.01m0 3h-.01m0 1h.01m0 1h-.01m0 3h.01m0 1h-.01m0 1h.01m0 2h-.01m0 1h.01m0 1h-.01m0 2h.01m0 1h-.01m0 3h.01m0 2h-.01m0 1h.01m0 1h-.01m0 3h.01m0 1h-.01m0 6h.01m0 10h-.01m0 3h.01m0 19h-.01m0 11h.01m0 11h-.01m0 51h.01m0 22h-.01m0 7h.01m0 15h-.01m0 53h.01m0 48h-.01m4 -334h.01m0 1h-.01m0 1h.01m0 1h-.01m0 1h.01m0 1h-.01m0 1h.01m0 1h-.01m0 1h.01m0 1h-.01m0 1h.01m0 1h-.01m0 1h.01m0 2h-.01m0 1h.01m0 1h-.01m0 1h.01m0 1h-.01m0 1h.01m0 1h-.01m0 1h.01m0 1h-.01m0 2h.01m0 1h-.01m0 1h.01m0 1h-.01m0 1h.01m0 1h-.01m0 2h.01m0 1h-.01m0 1h.01m0 2h-.01m0 1h.01m0 2h-.01m0 1h.01m0 1h-.01m0 1h.01m0 3h-.01m0 1h.01m0 1h-.01m0 1h.01m0 1h-.01m0 2h.01m0 1h-.01m0 1h.01m0 2h-.01m0 2h.01m0 1h-.01m0 5h.01m0 1h-.01m0 9h.01m0 2h-.01m0 2h.01m0 6h-.01m0 3h.01m0 5h-.01m0 10h.01m0 1h-.01m0 5h.01m0 3h-.01m0 6h.01m0 2h-.01m0 2h.01m0 4h-.01m0 4h.01m0 4h-.01m0 32h.01m0 5h-.01m0 2h.01m0 12h-.01m0 154h.01m4 -337h-.01m0 1h.01m0 1h-.01m0 1h.01m0 1h-.01m0 1h.01m0 1h-.01m0 1h.01m0 1h-.01m0 1h.01m0 1h-.01m0 1h.01m0 1h-.01m0 1h.01m0 1h-.01m0 1h.01m0 1h-.01m0 1h.01m0 1h-.01m0 1h.01m0 1h-.01m0 3h.01m0 1h-.01m0 2h.01m0 1h-.01m0 2h.01m0 1h-.01m0 2h.01m0 2h-.01m0 1h.01m0 1h-.01m0 1h.01m0 1h-.01m0 1h.01m0 1h-.01m0 1h.01m0 1h-.01m0 1h.01m0 3h-.01m0 5h.01m0 6h-.01m0 7h.01m0 1h-.01m0 1h.01m0 2h-.01m0 3h.01m0 1h-.01m0 2h.01m0 2h-.01m0 7h.01m0 9h-.01m0 3h.01m0 1h-.01m0 6h.01m0 11h-.01m0 23h.01m0 17h-.01m0 155h.01m3 -308h-.01m0 1h.01m0 1h-.01m0 1h.01m0 1h-.01m0 2h.01m0 1h-.01m0 1h.01m0 1h-.01m0 1h.01m0 1h-.01m0 1h.01m0 1h-.01m0 1h.01m0 1h-.01m0 1h.01m0 1h-.01m0 1h.01m0 1h-.01m0 2h.01m0 1h-.01m0 2h.01m0 1h-.01m0 1h.01m0 1h-.01m0 4h.01m0 1h-.01m0 2h.01m0 1h-.01m0 1h.01m0 1h-.01m0 4h.01m0 1h-.01m0 1h.01m0 2h-.01m0 1h.01m0 1h-.01m0 1h.01m0 4h-.01m0 1h.01m0 1h-.01m0 4h.01m0 2h-.01m0 1h.01m0 7h-.01m0 13h.01m0 3h-.01m0 2h.01m0 17h-.01m0 7h.01m0 6h-.01m0 6h.01m0 20h-.01m0 6h.01m0 2h-.01m0 3h.01m0 7h-.01m0 24h.01m0 27h-.01m0 5h.01m0 154h-.01m4 -370h.01m0 1h-.01m0 1h.01m0 1h-.01m0 1h.01m0 1h-.01m0 1h.01m0 1h-.01m0 1h.01m0 1h-.01m0 1h.01m0 1h-.01m0 1h.01m0 1h-.01m0 1h.01m0 1h-.01m0 1h.01m0 1h-.01m0 1h.01m0 2h-.01m0 1h.01m0 1h-.01m0 1h.01m0 3h-.01m0 1h.01m0 2h-.01m0 2h.01m0 1h-.01m0 1h.01m0 2h-.01m0 1h.01m0 1h-.01m0 1h.01m0 1h-.01m0 1h.01m0 1h-.01m0 1h.01m0 1h-.01m0 1h.01m0 3h-.01m0 1h.01m0 2h-.01m0 1h.01m0 2h-.01m0 1h.01m0 2h-.01m0 1h.01m0 2h-.01m0 2h.01m0 9h-.01m0 1h.01m0 1h-.01m0 1h.01m0 3h-.01m0 11h.01m0 3h-.01m0 1h.01m0 4h-.01m0 3h.01m0 2h-.01m0 12h.01m0 6h-.01m0 2h.01m0 17h-.01m0 1h.01m0 2h-.01m0 85h.01m0 12h-.01m0 61h.01m3 -298h-.01m0 1h.01m0 1h-.01m0 1h.01m0 1h-.01m0 1h.01m0 1h-.01m0 1h.01m0 1h-.01m0 1h.01m0 1h-.01m0 1h.01m0 1h-.01m0 1h.01m0 1h-.01m0 1h.01m0 1h-.01m0 1h.01m0 2h-.01m0 1h.01m0 1h-.01m0 1h.01m0 1h-.01m0 1h.01m0 1h-.01m0 2h.01m0 4h-.01m0 1h.01m0 1h-.01m0 3h.01m0 2h-.01m0 1h.01m0 2h-.01m0 3h.01m0 1h-.01m0 1h.01m0 2h-.01m0 2h.01m0 1h-.01m0 2h.01m0 1h-.01m0 7h.01m0 1h-.01m0 1h.01m0 4h-.01m0 2h.01m0 2h-.01m0 6h.01m0 9h-.01m0 9h.01m0 3h-.01m0 11h.01m0 2h-.01m0 18h.01m0 3h-.01m0 19h.01m0 6h-.01m0 7h.01m0 50h-.01m4 -214h.01m0 1h-.01m0 2h.01m0 1h-.01m0 1h.01m0 1h-.01m0 1h.01m0 1h-.01m0 1h.01m0 1h-.01m0 1h.01m0 1h-.01m0 2h.01m0 1h-.01m0 2h.01m0 1h-.01m0 1h.01m0 1h-.01m0 2h.01m0 1h-.01m0 1h.01m0 2h-.01m0 1h.01m0 1h-.01m0 1h.01m0 2h-.01m0 1h.01m0 1h-.01m0 1h.01m0 1h-.01m0 1h.01m0 1h-.01m0 1h.01m0 3h-.01m0 1h.01m0 1h-.01m0 1h.01m0 3h-.01m0 1h.01m0 5h-.01m0 1h.01m0 1h-.01m0 1h.01m0 5h-.01m0 2h.01m0 1h-.01m0 2h.01m0 4h-.01m0 3h.01m0 6h-.01m0 9h.01m0 1h-.01m0 2h.01m0 23h-.01m0 3h.01m0 21h-.01m0 14h.01m0 2h-.01m0 55h.01m0 18h-.01m0 4h.01m0 131h-.01m3 -362h.01m0 1h-.01m0 1h.01m0 1h-.01m0 1h.01m0 1h-.01m0 2h.01m0 1h-.01m0 1h.01m0 1h-.01m0 1h.01m0 1h-.01m0 1h.01m0 1h-.01m0 1h.01m0 1h-.01m0 1h.01m0 1h-.01m0 1h.01m0 1h-.01m0 2h.01m0 1h-.01m0 1h.01m0 4h-.01m0 2h.01m0 1h-.01m0 3h.01m0 1h-.01m0 2h.01m0 2h-.01m0 5h.01m0 2h-.01m0 2h.01m0 1h-.01m0 7h.01m0 1h-.01m0 1h.01m0 2h-.01m0 2h.01m0 4h-.01m0 2h.01m0 1h-.01m0 14h.01m0 7h-.01m0 5h.01m0 5h-.01m0 4h.01m0 23h-.01m3 -127h.01m0 1h-.01m0 1h.01m0 1h-.01m0 1h.01m0 1h-.01m0 1h.01m0 1h-.01m0 1h.01m0 1h-.01m0 1h.01m0 1h-.01m0 1h.01m0 2h-.01m0 1h.01m0 1h-.01m0 1h.01m0 1h-.01m0 1h.01m0 2h-.01m0 1h.01m0 2h-.01m0 2h.01m0 1h-.01m0 3h.01m0 2h-.01m0 1h.01m0 1h-.01m0 1h.01m0 1h-.01m0 1h.01m0 2h-.01m0 3h.01m0 2h-.01m0 1h.01m0 4h-.01m0 1h.01m0 2h-.01m0 4h.01m0 8h-.01m0 2h.01m0 1h-.01m0 2h.01m0 1h-.01m0 4h.01m0 2h-.01m0 3h.01m0 6h-.01m0 18h.01m0 6h-.01m0 4h.01m0 16h-.01m0 1h.01m0 41h-.01m0 35h.01m0 4h-.01m0 38h.01m3 -248h-.01m0 1h.01m0 1h-.01m0 1h.01m0 1h-.01m0 1h.01m0 2h-.01m0 1h.01m0 1h-.01m0 1h.01m0 1h-.01m0 2h.01m0 1h-.01m0 1h.01m0 1h-.01m0 2h.01m0 1h-.01m0 1h.01m0 1h-.01m0 1h.01m0 1h-.01m0 1h.01m0 2h-.01m0 2h.01m0 1h-.01m0 1h.01m0 1h-.01m0 1h.01m0 2h-.01m0 2h.01m0 1h-.01m0 2h.01m0 1h-.01m0 2h.01m0 1h-.01m0 6h.01m0 1h-.01m0 5h.01m0 1h-.01m0 5h.01m0 2h-.01m0 2h.01m0 4h-.01m0 17h.01m0 28h-.01m0 14h.01m0 1h-.01m0 8h.01m0 85h-.01m0 78h.01m3 -300h-.01m0 1h.01m0 1h-.01m0 1h.01m0 1h-.01m0 1h.01m0 1h-.01m0 1h.01m0 1h-.01m0 2h.01m0 1h-.01m0 1h.01m0 1h-.01m0 1h.01m0 1h-.01m0 2h.01m0 1h-.01m0 1h.01m0 1h-.01m0 1h.01m0 2h-.01m0 1h.01m0 1h-.01m0 1h.01m0 1h-.01m0 3h.01m0 1h-.01m0 1h.01m0 1h-.01m0 6h.01m0 2h-.01m0 6h.01m0 1h-.01m0 1h.01m0 1h-.01m0 2h.01m0 18h-.01m0 1h.01m0 2h-.01m0 2h.01m0 1h-.01m0 28h.01m0 3h-.01m0 1h.01m0 12h-.01m0 55h.01m0 7h-.01m3 -182h.01m0 1h-.01m0 1h.01m0 1h-.01m0 1h.01m0 1h-.01m0 1h.01m0 1h-.01m0 1h.01m0 1h-.01m0 1h.01m0 1h-.01m0 1h.01m0 1h-.01m0 1h.01m0 1h-.01m0 1h.01m0 1h-.01m0 2h.01m0 1h-.01m0 1h.01m0 1h-.01m0 1h.01m0 1h-.01m0 1h.01m0 3h-.01m0 2h.01m0 5h-.01m0 1h.01m0 1h-.01m0 1h.01m0 2h-.01m0 1h.01m0 1h-.01m0 1h.01m0 1h-.01m0 7h.01m0 1h-.01m0 3h.01m0 3h-.01m0 2h.01m0 3h-.01m0 6h.01m0 2h-.01m0 2h.01m0 5h-.01m0 1h.01m0 3h-.01m0 4h.01m0 2h-.01m0 6h.01m0 1h-.01m0 6h.01m0 5h-.01m0 5h.01m0 2h-.01m0 4h.01m0 9h-.01m0 5h.01m0 12h-.01m0 4h.01m0 74h-.01m0 161h.01m3 -382h-.01m0 1h.01m0 1h-.01m0 1h.01m0 1h-.01m0 1h.01m0 1h-.01m0 1h.01m0 1h-.01m0 1h.01m0 1h-.01m0 1h.01m0 1h-.01m0 2h.01m0 1h-.01m0 2h.01m0 1h-.01m0 2h.01m0 2h-.01m0 1h.01m0 1h-.01m0 3h.01m0 1h-.01m0 1h.01m0 1h-.01m0 2h.01m0 1h-.01m0 1h.01m0 3h-.01m0 2h.01m0 2h-.01m0 3h.01m0 2h-.01m0 2h.01m0 10h-.01m0 2h.01m0 3h-.01m0 2h.01m0 2h-.01m0 2h.01m0 3h-.01m0 1h.01m0 2h-.01m0 2h.01m0 8h-.01m0 18h.01m0 4h-.01m0 15h.01m0 18h-.01m0 131h.01m2 -271h-.01m0 1h.01m0 1h-.01m0 1h.01m0 1h-.01m0 1h.01m0 1h-.01m0 1h.01m0 1h-.01m0 1h.01m0 1h-.01m0 1h.01m0 1h-.01m0 1h.01m0 1h-.01m0 1h.01m0 1h-.01m0 1h.01m0 1h-.01m0 1h.01m0 1h-.01m0 1h.01m0 1h-.01m0 1h.01m0 1h-.01m0 4h.01m0 1h-.01m0 2h.01m0 1h-.01m0 2h.01m0 3h-.01m0 1h.01m0 2h-.01m0 1h.01m0 3h-.01m0 3h.01m0 1h-.01m0 1h.01m0 1h-.01m0 1h.01m0 3h-.01m0 3h.01m0 1h-.01m0 2h.01m0 3h-.01m0 6h.01m0 3h-.01m0 13h.01m0 25h-.01m0 5h.01m0 2h-.01m0 12h.01m0 31h-.01m3 -160h.01m0 1h-.01m0 1h.01m0 1h-.01m0 1h.01m0 1h-.01m0 2h.01m0 2h-.01m0 1h.01m0 1h-.01m0 1h.01m0 1h-.01m0 1h.01m0 1h-.01m0 2h.01m0 1h-.01m0 1h.01m0 1h-.01m0 3h.01m0 1h-.01m0 1h.01m0 1h-.01m0 1h.01m0 4h-.01m0 1h.01m0 1h-.01m0 2h.01m0 1h-.01m0 2h.01m0 9h-.01m0 4h.01m0 2h-.01m0 13h.01m0 1h-.01m0 5h.01m0 9h-.01m0 24h.01m0 7h-.01m0 42h.01m0 48h-.01m3 -202h.01m0 1h-.01m0 1h.01m0 1h-.01m0 1h.01m0 1h-.01m0 2h.01m0 1h-.01m0 1h.01m0 1h-.01m0 2h.01m0 1h-.01m0 1h.01m0 1h-.01m0 2h.01m0 1h-.01m0 1h.01m0 1h-.01m0 2h.01m0 2h-.01m0 1h.01m0 2h-.01m0 1h.01m0 7h-.01m0 1h.01m0 3h-.01m0 1h.01m0 2h-.01m0 1h.01m0 3h-.01m0 1h.01m0 4h-.01m0 4h.01m0 2h-.01m0 2h.01m0 1h-.01m0 4h.01m0 1h-.01m0 2h.01m0 9h-.01m0 6h.01m0 1h-.01m0 1h.01m0 3h-.01m0 8h.01m0 18h-.01m0 5h.01m0 31h-.01m0 19h.01m0 3h-.01m0 6h.01m0 23h-.01m0 102h.01m2 -302h-.01m0 1h.01m0 1h-.01m0 1h.01m0 1h-.01m0 1h.01m0 2h-.01m0 1h.01m0 1h-.01m0 1h.01m0 1h-.01m0 1h.01m0 1h-.01m0 1h.01m0 1h-.01m0 1h.01m0 1h-.01m0 1h.01m0 1h-.01m0 1h.01m0 1h-.01m0 5h.01m0 1h-.01m0 1h.01m0 1h-.01m0 4h.01m0 1h-.01m0 3h.01m0 9h-.01m0 3h.01m0 5h-.01m0 1h.01m0 5h-.01m0 5h.01m0 4h-.01m0 4h.01m0 5h-.01m0 2h.01m0 7h-.01m0 15h.01m0 19h-.01m0 9h.01m0 4h-.01m0 2h.01m0 11h-.01m0 16h.01m0 51h-.01m0 31h.01m0 118h-.01m3 -363h.01m0 1h-.01m0 1h.01m0 1h-.01m0 1h.01m0 1h-.01m0 1h.01m0 1h-.01m0 1h.01m0 1h-.01m0 1h.01m0 1h-.01m0 1h.01m0 1h-.01m0 2h.01m0 1h-.01m0 1h.01m0 1h-.01m0 1h.01m0 2h-.01m0 4h.01m0 1h-.01m0 1h.01m0 3h-.01m0 2h.01m0 1h-.01m0 2h.01m0 1h-.01m0 1h.01m0 4h-.01m0 2h.01m0 1h-.01m0 1h.01m0 1h-.01m0 3h.01m0 1h-.01m0 1h.01m0 1h-.01m0 3h.01m0 2h-.01m0 1h.01m0 5h-.01m0 1h.01m0 1h-.01m0 2h.01m0 10h-.01m0 18h.01m0 20h-.01m0 15h.01m0 27h-.01m0 9h.01m0 9h-.01m0 20h.01m0 53h-.01m2 -248h.01m0 1h-.01m0 1h.01m0 1h-.01m0 1h.01m0 2h-.01m0 1h.01m0 1h-.01m0 1h.01m0 1h-.01m0 2h.01m0 2h-.01m0 1h.01m0 3h-.01m0 1h.01m0 1h-.01m0 1h.01m0 2h-.01m0 2h.01m0 2h-.01m0 1h.01m0 1h-.01m0 1h.01m0 1h-.01m0 1h.01m0 2h-.01m0 1h.01m0 1h-.01m0 1h.01m0 1h-.01m0 4h.01m0 2h-.01m0 3h.01m0 1h-.01m0 1h.01m0 1h-.01m0 1h.01m0 1h-.01m0 1h.01m0 10h-.01m0 9h.01m0 8h-.01m0 32h.01m0 3h-.01m0 3h.01m0 6h-.01m0 9h.01m0 46h-.01m0 74h.01m2 -252h-.01m0 1h.01m0 1h-.01m0 1h.01m0 1h-.01m0 1h.01m0 1h-.01m0 2h.01m0 1h-.01m0 1h.01m0 2h-.01m0 1h.01m0 1h-.01m0 1h.01m0 1h-.01m0 1h.01m0 1h-.01m0 1h.01m0 1h-.01m0 2h.01m0 3h-.01m0 1h.01m0 3h-.01m0 1h.01m0 1h-.01m0 1h.01m0 1h-.01m0 1h.01m0 2h-.01m0 4h.01m0 2h-.01m0 5h.01m0 3h-.01m0 4h.01m0 6h-.01m0 3h.01m0 1h-.01m0 2h.01m0 5h-.01m0 3h.01m0 5h-.01m0 2h.01m0 12h-.01m0 10h.01m0 8h-.01m3 -112h.01m0 1h-.01m0 1h.01m0 1h-.01m0 1h.01m0 1h-.01m0 1h.01m0 1h-.01m0 1h.01m0 1h-.01m0 1h.01m0 3h-.01m0 1h.01m0 1h-.01m0 3h.01m0 1h-.01m0 2h.01m0 1h-.01m0 3h.01m0 1h-.01m0 1h.01m0 1h-.01m0 4h.01m0 4h-.01m0 8h.01m0 5h-.01m0 1h.01m0 2h-.01m0 13h.01m0 14h-.01m0 27h.01m0 7h-.01m0 34h.01m0 18h-.01m0 34h.01m0 131h-.01m2 -330h.01m0 1h-.01m0 1h.01m0 1h-.01m0 1h.01m0 1h-.01m0 1h.01m0 1h-.01m0 1h.01m0 1h-.01m0 1h.01m0 1h-.01m0 1h.01m0 1h-.01m0 1h.01m0 1h-.01m0 1h.01m0 2h-.01m0 1h.01m0 2h-.01m0 1h.01m0 4h-.01m0 1h.01m0 1h-.01m0 3h.01m0 1h-.01m0 7h.01m0 1h-.01m0 1h.01m0 3h-.01m0 3h.01m0 3h-.01m0 2h.01m0 2h-.01m0 7h.01m0 3h-.01m0 11h.01m0 14h-.01m0 9h.01m0 6h-.01m0 4h.01m0 28h-.01m0 23h.01m0 4h-.01m0 40h.01m0 12h-.01m0 21h.01m2 -236h-.01m0 1h.01m0 1h-.01m0 2h.01m0 1h-.01m0 2h.01m0 1h-.01m0 1h.01m0 1h-.01m0 1h.01m0 1h-.01m0 1h.01m0 1h-.01m0 1h.01m0 1h-.01m0 1h.01m0 1h-.01m0 1h.01m0 1h-.01m0 1h.01m0 5h-.01m0 5h.01m0 20h-.01m0 5h.01m0 4h-.01m0 2h.01m0 4h-.01m0 3h.01m0 2h-.01m0 4h.01m0 6h-.01m0 4h.01m0 1h-.01m0 5h.01m0 8h-.01m0 13h.01m0 9h-.01m0 4h.01m0 23h-.01m0 2h.01m0 13h-.01m2 -163h.01m0 1h-.01m0 1h.01m0 1h-.01m0 2h.01m0 1h-.01m0 1h.01m0 1h-.01m0 1h.01m0 2h-.01m0 1h.01m0 1h-.01m0 1h.01m0 2h-.01m0 1h.01m0 1h-.01m0 1h.01m0 5h-.01m0 1h.01m0 1h-.01m0 2h.01m0 5h-.01m0 2h.01m0 3h-.01m0 6h.01m0 7h-.01m0 1h.01m0 10h-.01m0 7h.01m0 14h-.01m0 2h.01m0 14h-.01m0 7h.01m0 27h-.01m0 10h.01m0 5h-.01m2 -148h.01m0 1h-.01m0 2h.01m0 1h-.01m0 1h.01m0 1h-.01m0 2h.01m0 2h-.01m0 2h.01m0 2h-.01m0 1h.01m0 4h-.01m0 3h.01m0 1h-.01m0 1h.01m0 1h-.01m0 1h.01m0 2h-.01m0 3h.01m0 1h-.01m0 5h.01m0 5h-.01m0 4h.01m0 4h-.01m0 11h.01m0 31h-.01m0 15h.01m0 4h-.01m0 2h.01m0 64h-.01m0 15h.01m2 101h-.01m0 -293h.01m0 1h-.01m0 1h.01m0 1h-.01m0 1h.01m0 1h-.01m0 1h.01m0 1h-.01m0 1h.01m0 1h-.01m0 1h.01m0 1h-.01m0 2h.01m0 1h-.01m0 1h.01m0 1h-.01m0 3h.01m0 2h-.01m0 2h.01m0 1h-.01m0 2h.01m0 1h-.01m0 2h.01m0 1h-.01m0 2h.01m0 4h-.01m0 10h.01m0 4h-.01m0 5h.01m0 1h-.01m0 5h.01m0 15h-.01m0 3h.01m0 25h-.01m0 5h.01m0 82h-.01m0 51h.01m2 -242h-.01m0 1h.01m0 1h-.01m0 1h.01m0 1h-.01m0 1h.01m0 1h-.01m0 1h.01m0 1h-.01m0 1h.01m0 1h-.01m0 1h.01m0 1h-.01m0 1h.01m0 1h-.01m0 3h.01m0 1h-.01m0 1h.01m0 3h-.01m0 4h.01m0 1h-.01m0 1h.01m0 3h-.01m0 3h.01m0 2h-.01m0 4h.01m0 1h-.01m0 5h.01m0 8h-.01m0 3h.01m0 1h-.01m0 1h.01m0 5h-.01m0 1h.01m0 2h-.01m0 26h.01m0 16h-.01m0 2h.01m0 11h-.01m0 2h.01m0 2h-.01m0 144h.01m2 -270h-.01m0 1h.01m0 1h-.01m0 1h.01m0 1h-.01m0 1h.01m0 1h-.01m0 1h.01m0 1h-.01m0 1h.01m0 2h-.01m0 1h.01m0 1h-.01m0 1h.01m0 2h-.01m0 1h.01m0 1h-.01m0 1h.01m0 2h-.01m0 2h.01m0 1h-.01m0 3h.01m0 1h-.01m0 2h.01m0 6h-.01m0 8h.01m0 5h-.01m0 4h.01m0 3h-.01m0 5h.01m0 16h-.01m0 16h.01m0 8h-.01m0 135h.01m2 -236h-.01m0 1h.01m0 1h-.01m0 3h.01m0 1h-.01m0 3h.01m0 1h-.01m0 2h.01m0 1h-.01m0 1h.01m0 2h-.01m0 2h.01m0 3h-.01m0 1h.01m0 2h-.01m0 1h.01m0 2h-.01m0 1h.01m0 3h-.01m0 3h.01m0 2h-.01m0 2h.01m0 4h-.01m0 3h.01m0 6h-.01m0 6h.01m0 3h-.01m0 1h.01m0 12h-.01m0 6h.01m0 2h-.01m0 2h.01m0 3h-.01m0 13h.01m0 46h-.01m0 23h.01m0 5h-.01m0 173h.01m2 -346h-.01m0 3h.01m0 1h-.01m0 1h.01m0 1h-.01m0 1h.01m0 1h-.01m0 1h.01m0 1h-.01m0 1h.01m0 1h-.01m0 1h.01m0 1h-.01m0 4h.01m0 1h-.01m0 2h.01m0 1h-.01m0 1h.01m0 2h-.01m0 1h.01m0 2h-.01m0 4h.01m0 2h-.01m0 1h.01m0 2h-.01m0 1h.01m0 13h-.01m0 7h.01m0 5h-.01m0 29h.01m0 1h-.01m0 21h.01m0 43h-.01m0 22h.01m2 -178h-.01m0 1h.01m0 1h-.01m0 3h.01m0 2h-.01m0 1h.01m0 1h-.01m0 1h.01m0 1h-.01m0 1h.01m0 1h-.01m0 1h.01m0 1h-.01m0 2h.01m0 3h-.01m0 1h.01m0 1h-.01m0 4h.01m0 2h-.01m0 1h.01m0 1h-.01m0 4h.01m0 1h-.01m0 9h.01m0 2h-.01m0 18h.01m0 4h-.01m0 9h.01m0 1h-.01m0 9h.01m0 12h-.01m0 18h.01m0 15h-.01m0 102h.01m0 15h-.01m1 -82h.01m1 -168h-.01m0 1h.01m0 1h-.01m0 1h.01m0 2h-.01m0 1h.01m0 3h-.01m0 2h.01m0 2h-.01m0 1h.01m0 1h-.01m0 2h.01m0 1h-.01m0 2h.01m0 1h-.01m0 1h.01m0 1h-.01m0 2h.01m0 1h-.01m0 1h.01m0 3h-.01m0 1h.01m0 3h-.01m0 1h.01m0 1h-.01m0 4h.01m0 6h-.01m0 2h.01m0 2h-.01m0 2h.01m0 8h-.01m0 7h.01m0 14h-.01m0 1h.01m0 8h-.01m0 23h.01m0 28h-.01m0 72h.01m1 -212h-.01m0 1h.01m0 1h-.01m0 1h.01m0 1h-.01m0 1h.01m0 1h-.01m0 2h.01m0 1h-.01m0 1h.01m0 1h-.01m0 3h.01m0 1h-.01m0 1h.01m0 3h-.01m0 2h.01m0 2h-.01m0 2h.01m0 5h-.01m0 1h.01m0 6h-.01m0 4h.01m0 2h-.01m0 4h.01m0 1h-.01m0 1h.01m0 7h-.01m0 15h.01m0 3h-.01m0 3h.01m0 8h-.01m0 23h.01m0 29h-.01m2 -136h.01m0 1h-.01m0 1h.01m0 1h-.01m0 2h.01m0 1h-.01m0 1h.01m0 1h-.01m0 2h.01m0 1h-.01m0 1h.01m0 1h-.01m0 3h.01m0 1h-.01m0 3h.01m0 1h-.01m0 5h.01m0 8h-.01m0 4h.01m0 2h-.01m0 8h.01m0 6h-.01m0 2h.01m0 3h-.01m0 9h.01m0 1h-.01m0 13h.01m0 39h-.01m0 2h.01m0 5h-.01m0 10h.01m0 32h-.01m0 7h.01m0 48h-.01m0 28h.01m0 12h-.01m2 -267h.01m0 1h-.01m0 2h.01m0 1h-.01m0 1h.01m0 1h-.01m0 1h.01m0 1h-.01m0 1h.01m0 1h-.01m0 2h.01m0 2h-.01m0 1h.01m0 1h-.01m0 1h.01m0 5h-.01m0 2h.01m0 1h-.01m0 3h.01m0 1h-.01m0 3h.01m0 10h-.01m0 6h.01m0 30h-.01m0 10h.01m0 15h-.01m0 92h.01m2 -194h-.01m0 1h.01m0 1h-.01m0 1h.01m0 1h-.01m0 1h.01m0 1h-.01m0 1h.01m0 1h-.01m0 3h.01m0 1h-.01m0 2h.01m0 2h-.01m0 3h.01m0 3h-.01m0 2h.01m0 5h-.01m0 6h.01m0 2h-.01m0 1h.01m0 5h-.01m0 13h.01m0 21h-.01m0 10h.01m0 7h-.01m0 106h.01m1 -130h-.01m0 -71h.01m0 2h-.01m0 1h.01m0 1h-.01m0 1h.01m0 1h-.01m0 1h.01m0 1h-.01m0 2h.01m0 1h-.01m0 1h.01m0 1h-.01m0 2h.01m0 1h-.01m0 1h.01m0 1h-.01m0 1h.01m0 1h-.01m0 1h.01m0 3h-.01m0 1h.01m0 1h-.01m0 3h.01m0 2h-.01m0 1h.01m0 13h-.01m0 5h.01m0 8h-.01m0 3h.01m0 23h-.01m0 1h.01m0 35h-.01m0 31h.01m2 -151h-.01m0 1h.01m0 1h-.01m0 2h.01m0 1h-.01m0 1h.01m0 1h-.01m0 1h.01m0 1h-.01m0 3h.01m0 2h-.01m0 1h.01m0 1h-.01m0 1h.01m0 2h-.01m0 3h.01m0 2h-.01m0 1h.01m0 1h-.01m0 1h.01m0 1h-.01m0 1h.01m0 2h-.01m0 2h.01m0 1h-.01m0 3h.01m0 3h-.01m0 5h.01m0 8h-.01m0 4h.01m0 7h-.01m0 33h.01m0 12h-.01m0 8h.01m0 2h-.01m0 22h.01m2 -141h-.01m0 1h.01m0 1h-.01m0 1h.01m0 1h-.01m0 1h.01m0 1h-.01m0 2h.01m0 1h-.01m0 1h.01m0 1h-.01m0 1h.01m0 1h-.01m0 4h.01m0 2h-.01m0 3h.01m0 2h-.01m0 4h.01m0 3h-.01m0 3h.01m0 2h-.01m0 8h.01m0 23h-.01m0 21h.01m0 4h-.01m0 1h.01m0 6h-.01m0 76h.01m1 -118h-.01m0 -57h.01m0 1h-.01m0 1h.01m0 1h-.01m0 2h.01m0 1h-.01m0 1h.01m0 1h-.01m0 2h.01m0 1h-.01m0 1h.01m0 2h-.01m0 3h.01m0 1h-.01m0 2h.01m0 1h-.01m0 3h.01m0 8h-.01m0 2h.01m0 3h-.01m0 1h.01m0 11h-.01m0 1h.01m0 37h-.01m0 26h.01m0 6h-.01m0 28h.01m2 -147h-.01m0 2h.01m0 1h-.01m0 1h.01m0 1h-.01m0 1h.01m0 1h-.01m0 1h.01m0 3h-.01m0 2h.01m0 1h-.01m0 1h.01m0 4h-.01m0 3h.01m0 1h-.01m0 1h.01m0 1h-.01m0 2h.01m0 5h-.01m0 3h.01m0 19h-.01m0 10h.01m0 12h-.01m0 25h.01m0 29h-.01m0 60h.01m0 20h-.01m0 103h.01m1 -313h-.01m0 1h.01m0 1h-.01m0 1h.01m0 1h-.01m0 1h.01m0 1h-.01m0 1h.01m0 1h-.01m0 3h.01m0 2h-.01m0 2h.01m0 1h-.01m0 1h.01m0 3h-.01m0 5h.01m0 1h-.01m0 1h.01m0 4h-.01m0 9h.01m0 2h-.01m0 2h.01m0 5h-.01m0 1h.01m0 7h-.01m0 10h.01m0 2h-.01m0 15h.01m0 5h-.01m0 19h.01m0 12h-.01m0 41h.01m2 -161h-.01m0 1h.01m0 1h-.01m0 1h.01m0 4h-.01m0 1h.01m0 3h-.01m0 3h.01m0 1h-.01m0 2h.01m0 1h-.01m0 1h.01m0 2h-.01m0 4h.01m0 3h-.01m0 3h.01m0 1h-.01m0 6h.01m0 3h-.01m0 1h.01m0 5h-.01m0 8h.01m0 11h-.01m0 8h.01m0 150h-.01m1 -224h.01m0 2h-.01m0 1h.01m0 3h-.01m0 2h.01m0 1h-.01m0 4h.01m0 1h-.01m0 2h.01m0 1h-.01m0 5h.01m0 1h-.01m0 3h.01m0 2h-.01m0 1h.01m0 2h-.01m0 5h.01m0 3h-.01m0 1h.01m0 7h-.01m0 2h.01m0 25h-.01m0 22h.01m0 26h-.01m2 -122h.01m0 1h-.01m0 1h.01m0 1h-.01m0 2h.01m0 2h-.01m0 1h.01m0 5h-.01m0 1h.01m0 3h-.01m0 11h.01m0 9h-.01m0 9h.01m0 12h-.01m0 4h.01m0 7h-.01m0 13h.01m0 11h-.01m0 3h.01m0 15h-.01m0 37h.01m0 -81h-.01m1 -67h.01m0 1h-.01m0 1h.01m0 1h-.01m0 1h.01m0 1h-.01m0 2h.01m0 1h-.01m0 2h.01m0 1h-.01m0 2h.01m0 2h-.01m0 2h.01m0 2h-.01m0 3h.01m0 2h-.01m0 2h.01m0 4h-.01m0 3h.01m0 3h-.01m0 17h.01m0 1h-.01m0 4h.01m0 4h-.01m1 222h.01m0 -193h-.01m0 60h.01m1 -151h-.01m0 1h.01m0 3h-.01m0 4h.01m0 1h-.01m0 1h.01m0 1h-.01m0 2h.01m0 2h-.01m0 3h.01m0 3h-.01m0 1h.01m0 3h-.01m0 7h.01m0 13h-.01m0 9h.01m0 8h-.01m0 44h.01m0 1h-.01m0 56h.01m1 -161h-.01m0 1h.01m0 1h-.01m0 2h.01m0 1h-.01m0 1h.01m0 3h-.01m0 1h.01m0 4h-.01m0 1h.01m0 1h-.01m0 1h.01m0 1h-.01m0 1h.01m0 2h-.01m0 2h.01m0 2h-.01m0 6h.01m0 1h-.01m0 1h.01m0 1h-.01m0 8h.01m0 4h-.01m0 4h.01m0 1h-.01m0 6h.01m0 15h-.01m0 34h.01m0 -20h-.01m1 -87h.01m0 1h-.01m0 1h.01m0 1h-.01m0 1h.01m0 3h-.01m0 1h.01m0 1h-.01m0 1h.01m0 1h-.01m0 1h.01m0 4h-.01m0 1h.01m0 1h-.01m0 2h.01m0 1h-.01m0 4h.01m0 3h-.01m0 1h.01m0 3h-.01m0 2h.01m0 4h-.01m0 3h.01m0 3h-.01m0 22h.01m2 -66h-.01m0 1h.01m0 1h-.01m0 1h.01m0 2h-.01m0 1h.01m0 2h-.01m0 1h.01m0 1h-.01m0 4h.01m0 1h-.01m0 2h.01m0 2h-.01m0 2h.01m0 5h-.01m0 8h.01m0 2h-.01m0 2h.01m0 7h-.01m0 2h.01m0 97h-.01m0 22h.01m0 37h-.01m1 -202h.01m0 1h-.01m0 1h.01m0 1h-.01m0 2h.01m0 1h-.01m0 1h.01m0 5h-.01m0 2h.01m0 9h-.01m0 1h.01m0 3h-.01m0 4h.01m0 2h-.01m0 5h.01m0 15h-.01m0 10h.01m0 3h-.01m0 2h.01m0 2h-.01m1 -71h.01m0 1h-.01m0 1h.01m0 2h-.01m0 1h.01m0 2h-.01m0 3h.01m0 3h-.01m0 2h.01m0 2h-.01m0 5h.01m0 1h-.01m0 4h.01m0 9h-.01m0 5h.01m0 1h-.01m0 72h.01m0 1h-.01m2 -116h.01m0 2h-.01m0 1h.01m0 1h-.01m0 1h.01m0 2h-.01m0 2h.01m0 1h-.01m0 2h.01m0 1h-.01m0 1h.01m0 2h-.01m0 2h.01m0 1h-.01m0 4h.01m0 6h-.01m0 3h.01m0 1h-.01m0 3h.01m0 40h-.01m0 15h.01m0 288h-.01m1 -377h.01m0 1h-.01m0 1h.01m0 3h-.01m0 2h.01m0 1h-.01m0 1h.01m0 1h-.01m0 1h.01m0 1h-.01m0 2h.01m0 1h-.01m0 2h.01m0 1h-.01m0 1h.01m0 6h-.01m0 3h.01m0 1h-.01m0 3h.01m0 5h-.01m0 4h.01m0 2h-.01m0 8h.01m0 50h-.01m0 37h.01m0 14h-.01m0 89h.01m1 -242h-.01m0 2h.01m0 2h-.01m0 4h.01m0 1h-.01m0 1h.01m0 1h-.01m0 1h.01m0 2h-.01m0 4h.01m0 5h-.01m0 5h.01m0 1h-.01m0 8h.01m0 4h-.01m0 19h.01m0 4h-.01m0 9h.01m0 11h-.01m0 26h.01m0 36h-.01m0 5h.01m0 72h-.01m2 -224h.01m0 1h-.01m0 2h.01m0 1h-.01m0 1h.01m0 1h-.01m0 2h.01m0 1h-.01m0 1h.01m0 3h-.01m0 5h.01m0 3h-.01m0 10h.01m0 3h-.01m0 13h.01m0 7h-.01m0 5h.01m0 4h-.01m0 7h.01m0 3h-.01m0 20h.01m0 5h-.01m0 2h.01m1 -99h-.01m0 1h.01m0 1h-.01m0 3h.01m0 1h-.01m0 9h.01m0 1h-.01m0 2h.01m0 1h-.01m0 29h.01m0 13h-.01m1 29h.01m0 -91h-.01m0 1h.01m0 2h-.01m0 3h.01m0 1h-.01m0 1h.01m0 2h-.01m0 8h.01m0 2h-.01m0 13h.01m0 49h-.01m0 2h.01m0 25h-.01m1 -109h.01m0 1h-.01m0 1h.01m0 1h-.01m0 1h.01m0 1h-.01m0 2h.01m0 1h-.01m0 2h.01m0 1h-.01m0 3h.01m0 16h-.01m0 9h.01m0 13h-.01m0 9h.01m0 17h-.01m0 17h.01m0 47h-.01m0 63h.01m0 148h-.01m1 -269h.01m0 -82h-.01m0 2h.01m0 1h-.01m0 1h.01m0 2h-.01m0 1h.01m0 9h-.01m0 8h.01m0 7h-.01m0 1h.01m0 1h-.01m0 2h.01m0 10h-.01m0 2h.01m0 8h-.01m0 13h.01m0 88h-.01m0 16h.01m0 57h-.01m1 -111h.01m0 142h-.01m1 -262h.01m0 1h-.01m0 1h.01m0 1h-.01m0 2h.01m0 4h-.01m0 5h.01m0 1h-.01m0 3h.01m0 1h-.01m0 3h.01m0 1h-.01m0 3h.01m0 2h-.01m1 -26h.01m0 1h-.01m0 6h.01m0 1h-.01m0 5h.01m0 4h-.01m0 1h.01m0 8h-.01m0 7h.01m0 11h-.01m0 1h.01m0 8h-.01m0 16h.01m0 21h-.01m0 23h.01m0 103h-.01m1 -218h.01m0 2h-.01m0 1h.01m0 2h-.01m0 2h.01m0 1h-.01m0 1h.01m0 1h-.01m0 4h.01m0 9h-.01m0 5h.01m0 5h-.01m0 15h.01m0 10h-.01m0 4h.01m0 5h-.01m0 53h.01m1 -119h-.01m0 1h.01m0 3h-.01m0 1h.01m0 1h-.01m0 1h.01m0 1h-.01m0 2h.01m0 7h-.01m0 6h.01m0 7h-.01m0 15h.01m0 43h-.01m0 29h.01m0 10h-.01m0 30h.01m1 -154h-.01m0 1h.01m0 2h-.01m0 4h.01m0 3h-.01m0 3h.01m0 1h-.01m0 3h.01m0 5h-.01m0 3h.01m0 1h-.01m0 3h.01m0 34h-.01m0 10h.01m0 14h-.01m0 77h.01m0 186h-.01m1 -354h.01m0 1h-.01m0 2h.01m0 4h-.01m0 4h.01m0 1h-.01m0 8h.01m0 4h-.01m0 7h.01m0 2h-.01m0 27h.01m0 6h-.01m0 4h.01m1 -70h-.01m0 2h.01m0 3h-.01m0 1h.01m0 3h-.01m0 1h.01m0 1h-.01m0 2h.01m0 1h-.01m0 2h.01m0 6h-.01m0 8h.01m0 9h-.01m0 3h.01m0 4h-.01m0 38h.01m0 86h-.01m2 -168h.01m0 1h-.01m0 3h.01m0 1h-.01m0 1h.01m0 6h-.01m0 1h.01m0 6h-.01m0 2h.01m0 1h-.01m0 12h.01m0 10h-.01m0 8h.01m0 10h-.01m0 31h.01m1 -94h-.01m0 1h.01m0 1h-.01m0 3h.01m0 6h-.01m0 3h.01m0 3h-.01m0 5h.01m0 1h-.01m0 4h.01m0 11h-.01m0 6h.01m0 42h-.01m0 34h.01m0 22h-.01m1 -141h.01m0 1h-.01m0 1h.01m0 3h-.01m0 3h.01m0 2h-.01m0 1h.01m0 1h-.01m0 2h.01m0 25h-.01m0 36h.01m0 73h-.01m1 -146h.01m0 1h-.01m0 3h.01m0 11h-.01m0 7h.01m0 2h-.01m0 49h.01m0 86h-.01m1 -163h.01m0 2h-.01m0 1h.01m0 1h-.01m0 3h.01m0 2h-.01m0 4h.01m0 1h-.01m0 3h.01m0 2h-.01m0 4h.01m1 -22h-.01m0 1h.01m0 2h-.01m0 1h.01m0 2h-.01m0 7h.01m0 27h-.01m0 9h.01m0 23h-.01m0 2h.01m0 23h-.01m0 36h.01m1 -64h-.01m0 -69h.01m0 1h-.01m0 1h.01m0 1h-.01m0 4h.01m0 2h-.01m0 4h.01m0 2h-.01m0 5h.01m0 5h-.01m0 6h.01m0 3h-.01m0 3h.01m0 175h-.01m0 -69h.01m1 -143h-.01m0 2h.01m0 1h-.01m0 1h.01m0 1h-.01m0 1h.01m0 1h-.01m0 2h.01m0 1h-.01m0 3h.01m0 5h-.01m0 1h.01m0 3h-.01m0 2h.01m0 6h-.01m0 83h.01m0 3h-.01m0 15h.01m0 58h-.01m1 -189h.01m0 1h-.01m0 2h.01m0 2h-.01m0 1h.01m0 1h-.01m0 1h.01m0 6h-.01m0 3h.01m0 2h-.01m0 3h.01m0 3h-.01m0 9h.01m0 3h-.01m0 4h.01m0 35h-.01m1 -77h.01m0 3h-.01m0 1h.01m0 1h-.01m0 13h.01m0 2h-.01m0 8h.01m0 32h-.01m0 12h.01m1 -70h-.01m0 1h.01m0 2h-.01m0 2h.01m0 12h-.01m0 3h.01m0 16h-.01m0 8h.01m0 14h-.01m1 -60h.01m0 2h-.01m0 1h.01m0 1h-.01m0 2h.01m0 1h-.01m0 1h.01m0 19h-.01m0 3h.01m0 1h-.01m0 52h.01m0 90h-.01m0 2h.01m0 122h-.01m1 -294h.01m0 4h-.01m0 6h.01m0 4h-.01m0 1h.01m0 16h-.01m0 5h.01m0 2h-.01m0 22h.01m1 -54h-.01m0 1h.01m0 1h-.01m0 2h.01m0 5h-.01m0 3h.01m0 3h-.01m0 2h.01m0 11h-.01m0 13h.01m0 16h-.01m1 -64h.01m0 2h-.01m0 2h.01m0 3h-.01m0 4h.01m0 6h-.01m0 2h.01m0 1h-.01m0 15h.01m0 6h-.01m1 -43h.01m0 4h-.01m0 5h.01m0 2h-.01m0 5h.01m0 2h-.01m0 21h.01m0 11h-.01m0 1h.01m1 -50h-.01m0 5h.01m0 1h-.01m0 2h.01m0 1h-.01m0 15h.01m0 26h-.01m0 25h.01m0 28h-.01m0 -81h.01m0 3h-.01m0 11h.01m0 34h-.01m1 -70h.01m0 2h-.01m0 3h.01m0 3h-.01m0 1h.01m0 3h-.01m0 14h.01m0 1h-.01m0 8h.01m0 7h-.01m1 -43h.01m0 2h-.01m0 1h.01m0 18h-.01m0 8h.01m0 106h-.01m0 189h.01m1 -324h-.01m0 5h.01m0 4h-.01m0 1h.01m0 3h-.01m0 2h.01m0 1h-.01m0 8h.01m0 13h-.01m1 124h.01m0 -155h-.01m0 1h.01m0 10h-.01m0 16h.01m0 39h-.01m0 10h.01m1 -82h-.01m0 1h.01m0 2h-.01m0 2h.01m0 11h-.01m0 4h.01m0 6h-.01m0 1h.01m0 1h-.01m1 -27h.01m0 3h-.01m0 1h.01m0 2h-.01m0 1h.01m0 2h-.01m0 4h.01m0 2h-.01m0 4h.01m0 36h-.01m0 3h.01m0 18h-.01m1 -67h.01m0 2h-.01m0 8h.01m0 6h-.01m0 20h.01m0 6h-.01m0 44h.01m0 19h-.01m0 29h.01m0 56h-.01m1 -199h.01m0 1h-.01m0 1h.01m0 28h-.01m0 5h.01m0 10h-.01m0 41h.01m0 22h-.01m0 8h.01m0 38h-.01m0 -151h.01m0 1h-.01m0 4h.01m0 11h-.01m0 37h.01m0 8h-.01m0 156h.01m1 -220h-.01m0 5h.01m0 7h-.01m0 3h.01m0 13h-.01m0 16h.01m0 49h-.01m1 14h.01m0 -102h-.01m0 2h.01m0 1h-.01m0 1h.01m0 1h-.01m0 3h.01m0 9h-.01m1 -16h.01m0 5h-.01m0 20h.01m0 18h-.01m0 3h.01m0 73h-.01m0 61h.01m0 153h-.01m1 -339h.01m0 1h-.01m0 1h.01m0 1h-.01m0 4h.01m0 12h-.01m0 8h.01m0 17h-.01m0 12h.01m0 15h-.01m1 -70h.01m0 1h-.01m0 1h.01m0 1h-.01m0 6h.01m0 2h-.01m0 6h.01m0 8h-.01m0 -27h.01m0 6h-.01m0 3h.01m0 6h-.01m0 5h.01m0 9h-.01m0 4h.01m0 2h-.01m0 37h.01m0 3h-.01m0 79h.01m1 -10h-.01m0 -143h.01m0 6h-.01m0 8h.01m0 2h-.01m0 1h.01m0 4h-.01m1 73h.01m0 -92h-.01m0 9h.01m0 2h-.01m0 1h.01m0 6h-.01m0 3h.01m0 55h-.01m0 29h.01m0 28h-.01m1 -135h.01m0 6h-.01m0 4h.01m0 2h-.01m0 7h.01m0 11h-.01m0 29h.01m1 -60h-.01m0 16h.01m0 -9h-.01m0 10h.01m0 1h-.01m0 4h.01m0 153h-.01m1 -174h.01m0 23h-.01m0 7h.01m0 234h-.01m0 -67h.01m1 -196h-.01m0 1h.01m0 6h-.01m0 9h.01m0 5h-.01m0 1h.01m0 8h-.01m0 5h.01m0 7h-.01m1 -41h.01m0 6h-.01m0 146h.01m0 11h-.01m0 -166h.01m0 1h-.01m0 1h.01m0 3h-.01m0 19h.01m0 84h-.01m0 11h.01m0 6h-.01m1 -120h.01m0 1h-.01m0 7h.01m0 44h-.01m0 35h.01m1 -91h-.01m0 9h.01m0 3h-.01m0 4h.01m0 17h-.01m0 14h.01m0 65h-.01m0 26h.01m1 -138h-.01m0 6h.01m0 1h-.01m0 5h.01m0 50h-.01m0 17h.01m0 146h-.01m0 -224h.01m0 2h-.01m0 13h.01m0 2h-.01m0 13h.01m0 32h-.01m1 -63h.01m0 1h-.01m0 12h.01m0 2h-.01m0 21h.01m0 3h-.01m0 56h.01m0 45h-.01m1 -138h.01m0 11h-.01m0 3h.01m0 5h-.01m0 -16h.01m0 1h-.01m0 5h.01m0 7h-.01m0 1h.01m0 4h-.01m0 29h.01m1 -43h-.01m0 1h.01m0 11h-.01m0 61h.01m1 -83h-.01m0 1h.01m0 12h-.01m0 210h.01m0 -112h-.01m1 -111h.01m0 1h-.01m0 10h.01m0 3h-.01m0 16h.01m0 38h-.01m0 124h.01m0 -180h-.01m0 8h.01m0 3h-.01m0 19h.01m0 183h-.01m1 -217h.01m1 -8h-.01m0 4h.01m0 1h-.01m0 1h.01m0 2h-.01m0 3h.01m0 11h-.01m0 -6h.01m0 1h-.01m0 64h.01m1 -67h-.01m0 17h.01m1 27h-.01m0 -57h.01m0 2h-.01m0 1h.01m0 23h-.01m1 -19h.01m1 -3h-.01m0 15h.01m0 10h-.01m0 1h.01m0 -30h-.01m0 6h.01m0 11h-.01m0 36h.01m1 -38h-.01m0 70h.01m0 17h-.01m1 -84h.01m0 6h-.01m0 -23h.01m1 7h-.01m0 6h.01m0 4h-.01m1 -17h.01m0 9h-.01m0 5h.01m0 -15h-.01m0 8h.01m0 1h-.01m0 2h.01m0 120h-.01m1 -131h.01m0 2h-.01m0 23h.01m0 25h-.01m0 11h.01m0 4h-.01m0 -36h.01m0 163h-.01m1 -83h.01m0 -109h-.01m0 7h.01m0 51h-.01m1 -58h.01m0 1h-.01m0 1h.01m0 5h-.01m0 3h.01m0 2h-.01m0 10h.01m0 44h-.01m1 -66h.01m0 4h-.01m1 16h.01m1 -20h-.01m0 -1h.01m0 2h-.01m0 7h.01m1 -2h-.01m0 10h.01m0 19h-.01m0 -35h.01m0 37h-.01m0 144h.01m1 -44h-.01m1 -127h.01m0 6h-.01m0 -11h.01m0 2h-.01m0 7h.01m0 7h-.01m0 31h.01m1 -52h-.01m0 -1h.01m0 7h-.01m0 9h.01m1 1h-.01m0 75h.01m0 170h-.01m0 -242h.01m1 -18h-.01m0 53h.01m0 -43h-.01m0 14h.01m0 12h-.01m1 -37h.01m0 15h-.01m0 3h.01m0 45h-.01m1 -49h.01m2 46h-.01m0 -59h.01m0 13h-.01m1 -3h.01m0 16h-.01m0 278h.01m1 -306h-.01m0 6h.01m0 2h-.01m0 9h.01m0 114h-.01m0 -130h.01m0 14h-.01m1 -14h.01m0 21h-.01m0 25h.01m1 -22h-.01m0 -23h.01m0 15h-.01m1 -8h.01m0 7h-.01m0 4h.01m0 82h-.01m1 -94h.01m0 -1h-.01m0 34h.01m1 -25h-.01m0 47h.01m1 4h-.01m0 41h.01m0 -13h-.01m1 -87h.01m0 122h-.01m0 -57h.01m0 -71h-.01m0 5h.01m0 5h-.01m0 13h.01m0 77h-.01m1 -86h.01m0 15h-.01m0 55h.01m1 -73h-.01m0 -11h.01m0 5h-.01m0 7h.01m2 22h-.01m1 -28h.01m1 -4h-.01m1 92h.01m0 -27h-.01m1 39h.01m1 29h-.01m0 -129h.01m0 189h-.01m1 -189h.01m0 41h-.01m1 -45h.01m1 0h-.01m0 5h.01m0 30h-.01m0 133h.01m1 -137h-.01m0 68h.01m1 -101h-.01m0 10h.01m0 -7h-.01m0 15h.01m1 -9h-.01m0 33h.01m2 -20h-.01m0 -3h.01m0 -17h-.01m0 31h.01m1 101h-.01m1 -128h.01m0 27h-.01m0 5h.01m0 14h-.01m1 -52h.01m0 79h-.01m0 -45h.01m1 -34h-.01m1 95h.01m0 27h-.01m1 -123h.01m0 27h-.01m0 97h.01m0 -106h-.01m1 -3h.01m0 42h-.01m1 8h.01m0 -8h-.01m1 0h.01m1 -58h-.01m0 5h.01m0 -2h-.01m1 1h.01m2 28h-.01m1 -24h.01m1 3h-.01m0 31h.01m2 -40h-.01m0 96h.01m3 -67h-.01m0 56h.01m2 -82h-.01m0 13h.01m3 40h-.01m1 -41h.01m1 80h-.01m1 -87h.01m2 70h-.01m0 -47h.01m2 -24h-.01m1 -4h.01m1 35h-.01m3 -40h.01m1 117h-.01m0 -51h.01m5 -56h-.01m1 68h.01m0 -78h-.01m1 6h.01m1 -3h-.01m1 18h.01m2 -2h-.01m1 122h.01m0 -129h-.01m0 163h.01m1 -151h-.01m2 29h.01m0 -20h-.01m3 10h.01m1 1h-.01m3 -19h.01m4 -10h-.01m4 227h.01m5 -230h-.01m3 253h.01m3 -105h-.01m1 -150h.01m3 -10h-.01m7 156h.01m0 -15h-.01m4 -139h.01m1 4h-.01m2 162h.01m8 -164h-.01m0 3h.01m2 0h-.01m3 19h.01m1 282h-.01m13 -247h.01m9 235h-.01m4 -293h.01m3 20h-.01m2 68h.01m10 -58h-.01m2 -27h.01m3 0h-.01m1 -1h.01m5 3h-.01m5 17h.01m3 -22h-.01m0 44h.01" stroke="#ffd700" stroke-width="4.9" stroke-linecap="round" fill="none"/>
<path d="M1209.5 185.5h.01m0 1h-.01m0 6h.01m0 5.5h-.01m0 1.5h.01m0 6h-.01m0 2.5h.01m0 1h-.01m0 0.5h.01m0 12h-.01m0 7.5h.01m0 10.5h-.01m0 1h.01m0 3h-.01m0 6h.01m0 14h-.01m0 6h.01m0 5.5h-.01m0 9h.01m0 9h-.01m0 6h.01m0 14.5h-.01m0 10.5h.01m0 1h-.01m0 41.5h.01m0 1.5h-.01m0 13.5h.01m0 1.5h-.01m0 1h.01m0 7h-.01m0 4.5h.01m0 1.5h-.01m0 4h.01m0 34.5h-.01m0 6.5h.01m0 3h-.01m0 10h.01m0 1.5h-.01m0 10h.01m0 47.5h-.01m68.5 -326h.01m0 9h-.01m0 2.5h.01m0 0.5h-.01m0 1.5h.01m0 34.5h-.01m0 17h.01m0 12h-.01m0 4.5h.01m0 1.5h-.01m0 1.5h.01m0 0.5h-.01m0 4h.01m0 8.5h-.01m0 12.5h.01m0 17h-.01m0 13.5h.01m0 4h-.01m0 1.5h.01m0 3h-.01m0 40h.01m0 6h-.01m0 52.5h.01m0 2h-.01m0 17h.01m0 8h-.01m0 17h.01m40.5 -295.5h-.01m0 2h.01m0 2h-.01m0 4h.01m0 4.5h-.01m0 5h.01m0 5.5h-.01m0 4.5h.01m0 2.5h-.01m0 0.5h.01m0 6h-.01m0 5h.01m0 1.5h-.01m0 2.5h.01m0 1.5h-.01m0 9.5h.01m0 3h-.01m0 11h.01m0 1.5h-.01m0 4.5h.01m0 2.5h-.01m0 2h.01m0 8h-.01m0 27.5h.01m0 3.5h-.01m0 1h.01m0 4.5h-.01m0 8.5h.01m0 16.5h-.01m0 2.5h.01m0 2.5h-.01m0 10.5h.01m0 2.5h-.01m0 3.5h.01m0 0.5h-.01m0 57.5h.01m0 6h-.01m0 6.5h.01m0 9h-.01m0 4.5h.01m0 4.5h-.01m0 34h.01m0 12.5h-.01m0 50h.01m28.5 -355h-.01m0 9h.01m0 20h-.01m0 19.5h.01m0 12.5h-.01m0 0.5h.01m0 2h-.01m0 4.5h.01m0 5.5h-.01m0 2h.01m0 1.5h-.01m0 11.5h.01m0 24.5h-.01m0 15.5h.01m0 24h-.01m0 5.5h.01m0 1h-.01m0 8h.01m0 11h-.01m0 12.5h.01m0 5h-.01m0 38h.01m0 4h-.01m0 28h.01m0 1h-.01m0 11.5h.01m0 74.5h-.01m0 32.5h.01m22 -370h-.01m0 23.5h.01m0 4.5h-.01m0 8h.01m0 16.5h-.01m0 13.5h.01m0 19.5h-.01m0 1h.01m0 3h-.01m0 13h.01m0 18h-.01m0 10h.01m0 4.5h-.01m0 14.5h.01m0 11h-.01m0 4.5h.01m0 7.5h-.01m0 11h.01m0 27h-.01m0 4h.01m0 30h-.01m18 -264h.01m0 10.5h-.01m0 9h.01m0 1h-.01m0 33h.01m0 31h-.01m0 31.5h.01m0 24h-.01m0 5h.01m0 4h-.01m0 29h.01m0 2h-.01m0 152h.01m0 50.5h-.01m15 -367.5h.01m0 2.5h-.01m0 6.5h.01m0 28.5h-.01m0 4h.01m0 24h-.01m0 8h.01m0 12.5h-.01m0 43h.01m0 21h-.01m0 6.5h.01m0 1.5h-.01m0 14h.01m0 135h-.01m0 62h.01m13.5 -387.5h-.01m0 6h.01m0 20.5h-.01m0 15h.01m0 11h-.01m0 8.5h.01m0 25.5h-.01m0 28h.01m0 115h-.01m0 12.5h.01m0 34.5h-.01m0 2.5h.01m0 70h-.01m11.5 -350h.01m0 18.5h-.01m0 82h.01m0 11h-.01m0 4h.01m0 5h-.01m0 63h.01m0 0.5h-.01m0 6.5h.01m0 10h-.01m0 132.5h.01m0 22.5h-.01m10.5 -339.5h.01m0 4.5h-.01m0 22.5h.01m0 38.5h-.01m0 18h.01m0 33h-.01m0 37.5h.01m0 72.5h-.01m0 73.5h.01m0 43.5h-.01m0 10.5h.01m9.5 -370h-.01m0 17h.01m0 78.5h-.01m0 7.5h.01m0 8h-.01m0 59.5h.01m0 0.5h-.01m0 63h.01m0 119h-.01m8.5 -326h.01m0 32.5h-.01m0 35.5h.01m0 19.5h-.01m0 18h.01m0 105h-.01m0 60h.01m8 -267.5h-.01m0 23.5h.01m0 1.5h-.01m0 99h.01m0 49h-.01m0 39h.01m7.5 -154h-.01m0 37h.01m0 49.5h-.01m0 90.5h.01m6.5 -182h-.01m0 6.5h.01m0 25h-.01m0 111.5h.01m6.5 -217h-.01m0 4.5h.01m0 75h-.01m0 103.5h.01m0 68h-.01m6 -26h.01m0 7.5h-.01m5.5 -229h.01m0 89h-.01m0 75.5h.01m0 13h-.01m5.5 111h.01m5 -296.5h-.01m0 106.5h.01m9.5 -20h-.01m0 114.5h.01m4.5 -131h-.01m4 103.5h.01m0 116.5h-.01m4 -278.5h.01m11.5 124.5h-.01m6.5 -120.5h.01m0 189.5h-.01m0 24.5h.01m9.5 -34h-.01m0 6h.01m3 -50.5h-.01m3 -133h.01m3 187h-.01m5 32.5h.01m5 -178.5h-.01m0 128h.01m2.5 -46.5h-.01m5 -92h.01m2 -22.5h-.01m2.5 95h.01m8.5 -19.5h-.01m9.5 7h.01m3.5 -43h-.01m26 157h.01m16.5 116.5h-.01m64.5 -285.5h.01" stroke="#e0262c" stroke-width="4.9" stroke-linecap="round" fill="none"/>
<path d="M1209.5 177h.01m0 0.5h-.01m0 1.5h.01m0 1h-.01m0 1h.01m0 0.5h-.01m0 2.5h.01m0 1.5h-.01m0 1.5h.01m0 3.5h-.01m0 3h.01m0 1h-.01m0 3h.01m0 0.5h-.01m0 0.5h.01m0 1h-.01m0 1.5h.01m0 1h-.01m0 0.5h.01m0 1.5h-.01m0 1h.01m0 0.5h-.01m0 2h.01m0 0.5h-.01m0 0.5h.01m0 1h-.01m0 0.5h.01m0 1h-.01m0 1h.01m0 2h-.01m0 0.5h.01m0 1.5h-.01m0 0.5h.01m0 1h-.01m0 2h.01m0 0.5h-.01m0 0.5h.01m0 1h-.01m0 1h.01m0 0.5h-.01m0 3.5h.01m0 1.5h-.01m0 1.5h.01m0 0.5h-.01m0 1.5h.01m0 0.5h-.01m0 0.5h.01m0 0.5h-.01m0 1.5h.01m0 3.5h-.01m0 1.5h.01m0 2h-.01m0 0.5h.01m0 4.5h-.01m0 0.5h.01m0 4.5h-.01m0 3h.01m0 3h-.01m0 1.5h.01m0 1h-.01m0 1h.01m0 0.5h-.01m0 0.5h.01m0 2.5h-.01m0 3h.01m0 1h-.01m0 3h.01m0 1.5h-.01m0 7h.01m0 1.5h-.01m0 1.5h.01m0 1h-.01m0 0.5h.01m0 0.5h-.01m0 3h.01m0 0.5h-.01m0 1h.01m0 0.5h-.01m0 1h.01m0 1h-.01m0 2h.01m0 1.5h-.01m0 0.5h.01m0 1h-.01m0 3.5h.01m0 1.5h-.01m0 0.5h.01m0 1.5h-.01m0 3.5h.01m0 1.5h-.01m0 1h.01m0 6h-.01m0 1.5h.01m0 2.5h-.01m0 1h.01m0 2h-.01m0 0.5h.01m0 2h-.01m0 0.5h.01m0 2.5h-.01m0 0.5h.01m0 1h-.01m0 0.5h.01m0 1h-.01m0 1h.01m0 0.5h-.01m0 0.5h.01m0 1h-.01m0 2h.01m0 2.5h-.01m0 0.5h.01m0 1h-.01m0 0.5h.01m0 1h-.01m0 0.5h.01m0 1.5h-.01m0 1.5h.01m0 0.5h-.01m0 1h.01m0 1.5h-.01m0 1.5h.01m0 0.5h-.01m0 1h.01m0 2.5h-.01m0 1h.01m0 2h-.01m0 0.5h.01m0 2.5h-.01m0 3h.01m0 3.5h-.01m0 4h.01m0 6h-.01m0 2.5h.01m0 1.5h-.01m0 2h.01m0 5.5h-.01m0 1.5h.01m0 0.5h-.01m0 2h.01m0 1.5h-.01m0 1.5h.01m0 1h-.01m0 1h.01m0 2h-.01m0 0.5h.01m0 1h-.01m0 3.5h.01m0 2h-.01m0 0.5h.01m0 2h-.01m0 2.5h.01m0 0.5h-.01m0 2.5h.01m0 1.5h-.01m0 0.5h.01m0 3.5h-.01m0 0.5h.01m0 0.5h-.01m0 1h.01m0 2h-.01m0 3.5h.01m0 0.5h-.01m0 0.5h.01m0 0.5h-.01m0 3h.01m0 0.5h-.01m0 1h.01m0 0.5h-.01m0 0.5h.01m0 4.5h-.01m0 1h.01m0 1.5h-.01m0 1h.01m0 0.5h-.01m0 2h.01m0 1.5h-.01m0 0.5h.01m0 3.5h-.01m0 1h.01m0 2.5h-.01m0 1.5h.01m0 1h-.01m0 4h.01m0 2h-.01m0 0.5h.01m0 0.5h-.01m0 0.5h.01m0 1.5h-.01m0 2h.01m0 2h-.01m0 0.5h.01m0 0.5h-.01m0 1.5h.01m0 0.5h-.01m0 3h.01m0 1h-.01m0 1h.01m0 2.5h-.01m0 0.5h.01m0 1.5h-.01m0 7h.01m0 0.5h-.01m0 4h.01m0 1.5h-.01m0 3h.01m0 1h-.01m0 1.5h.01m0 3.5h-.01m0 5h.01m0 0.5h-.01m0 0.5h.01m0 2h-.01m0 3.5h.01m0 1h-.01m0 5.5h.01m0 3h-.01m0 2h.01m0 0.5h-.01m0 4h.01m0 4.5h-.01m0 0.5h.01m0 3h-.01m0 2h.01m0 0.5h-.01m0 5h.01m0 4.5h-.01m0 1h.01m0 5h-.01m0 4h.01m0 2h-.01m0 2.5h.01m0 3.5h-.01m0 1h.01m0 2h-.01m0 0.5h.01m0 5h-.01m0 3h.01m0 0.5h-.01m0 5.5h.01m0 2.5h-.01m0 1h.01m0 8h-.01m0 1h.01m0 1h-.01m0 3.5h.01m0 12h-.01m0 4h.01m0 2.5h-.01m68.5 -445.5h.01m0 2h-.01m0 1h.01m0 2.5h-.01m0 0.5h.01m0 2.5h-.01m0 2h.01m0 0.5h-.01m0 1.5h.01m0 1.5h-.01m0 1h.01m0 1h-.01m0 10.5h.01m0 1h-.01m0 1.5h.01m0 1h-.01m0 0.5h.01m0 1h-.01m0 1h.01m0 3h-.01m0 3h.01m0 2h-.01m0 0.5h.01m0 2h-.01m0 2.5h.01m0 1h-.01m0 1.5h.01m0 1h-.01m0 1h.01m0 1h-.01m0 1h.01m0 0.5h-.01m0 0.5h.01m0 0.5h-.01m0 1.5h.01m0 0.5h-.01m0 2h.01m0 1h-.01m0 3.5h.01m0 4h-.01m0 0.5h.01m0 3h-.01m0 1h.01m0 1.5h-.01m0 1.5h.01m0 2h-.01m0 1.5h.01m0 1.5h-.01m0 1.5h.01m0 2h-.01m0 2.5h.01m0 0.5h-.01m0 1h.01m0 1.5h-.01m0 3h.01m0 10h-.01m0 0.5h.01m0 2.5h-.01m0 3h.01m0 3h-.01m0 3.5h.01m0 0.5h-.01m0 2h.01m0 2h-.01m0 0.5h.01m0 3h-.01m0 0.5h.01m0 1h-.01m0 0.5h.01m0 1h-.01m0 0.5h.01m0 1.5h-.01m0 0.5h.01m0 3h-.01m0 3h.01m0 0.5h-.01m0 1.5h.01m0 1.5h-.01m0 0.5h.01m0 1h-.01m0 4.5h.01m0 0.5h-.01m0 1.5h.01m0 4.5h-.01m0 1h.01m0 2.5h-.01m0 1.5h.01m0 1h-.01m0 2.5h.01m0 4h-.01m0 8h.01m0 1h-.01m0 4h.01m0 4h-.01m0 4.5h.01m0 1h-.01m0 0.5h.01m0 0.5h-.01m0 2.5h.01m0 4h-.01m0 0.5h.01m0 0.5h-.01m0 5h.01m0 4h-.01m0 2h.01m0 0.5h-.01m0 0.5h.01m0 1.5h-.01m0 1h.01m0 0.5h-.01m0 6h.01m0 8.5h-.01m0 1.5h.01m0 0.5h-.01m0 0.5h.01m0 0.5h-.01m0 2.5h.01m0 0.5h-.01m0 4h.01m0 11.5h-.01m0 4.5h.01m0 0.5h-.01m0 5.5h.01m0 2.5h-.01m0 2.5h.01m0 0.5h-.01m0 5.5h.01m0 0.5h-.01m0 3h.01m0 0.5h-.01m0 0.5h.01m0 2h-.01m0 10h.01m0 4h-.01m0 1h.01m0 3.5h-.01m0 2h.01m0 12.5h-.01m0 10.5h.01m0 0.5h-.01m0 1.5h.01m0 6h-.01m0 4.5h.01m0 0.5h-.01m0 1h.01m0 2h-.01m0 6h.01m0 0.5h-.01m0 6h.01m0 6.5h-.01m0 2.5h.01m0 1.5h-.01m0 10.5h.01m0 13h-.01m0 1h.01m0 1.5h-.01m0 11.5h.01m0 3h-.01m0 8.5h.01m40.5 -400.5h-.01m0 3.5h.01m0 1h-.01m0 0.5h.01m0 2.5h-.01m0 1h.01m0 0.5h-.01m0 6.5h.01m0 0.5h-.01m0 0.5h.01m0 6.5h-.01m0 3h.01m0 3.5h-.01m0 0.5h.01m0 1.5h-.01m0 1.5h.01m0 4.5h-.01m0 5.5h.01m0 4.5h-.01m0 1h.01m0 1h-.01m0 2h.01m0 1h-.01m0 2.5h.01m0 2h-.01m0 4.5h.01m0 9.5h-.01m0 2h.01m0 3h-.01m0 2h.01m0 0.5h-.01m0 4.5h.01m0 3.5h-.01m0 0.5h.01m0 0.5h-.01m0 4h.01m0 3.5h-.01m0 3.5h.01m0 1.5h-.01m0 3.5h.01m0 2h-.01m0 1.5h.01m0 0.5h-.01m0 1h.01m0 6h-.01m0 2h.01m0 1h-.01m0 1.5h.01m0 8h-.01m0 1.5h.01m0 1h-.01m0 1h.01m0 2h-.01m0 2.5h.01m0 0.5h-.01m0 4h.01m0 0.5h-.01m0 4h.01m0 3h-.01m0 1h.01m0 0.5h-.01m0 1h.01m0 4.5h-.01m0 10.5h.01m0 3h-.01m0 0.5h.01m0 4h-.01m0 2.5h.01m0 5h-.01m0 2.5h.01m0 1h-.01m0 0.5h.01m0 2h-.01m0 2h.01m0 8.5h-.01m0 0.5h.01m0 0.5h-.01m0 6h.01m0 2h-.01m0 0.5h.01m0 1.5h-.01m0 1.5h.01m0 3h-.01m0 0.5h.01m0 4h-.01m0 1h.01m0 1h-.01m0 3h.01m0 2h-.01m0 4.5h.01m0 3.5h-.01m0 2h.01m0 2h-.01m0 0.5h.01m0 2.5h-.01m0 0.5h.01m0 8h-.01m0 1h.01m0 1h-.01m0 5h.01m0 4.5h-.01m0 0.5h.01m0 3h-.01m0 2h.01m0 0.5h-.01m0 2.5h.01m0 0.5h-.01m0 1.5h.01m0 2h-.01m0 32.5h.01m0 8h-.01m0 5h.01m0 1h-.01m0 0.5h.01m0 0.5h-.01m0 9.5h.01m0 11h-.01m0 1h.01m0 7.5h-.01m28.5 -348.5h.01m0 1.5h-.01m0 6h.01m0 1.5h-.01m0 3h.01m0 3h-.01m0 6.5h.01m0 4.5h-.01m0 6.5h.01m0 1h-.01m0 0.5h.01m0 1.5h-.01m0 2.5h.01m0 1.5h-.01m0 7h.01m0 0.5h-.01m0 1.5h.01m0 1.5h-.01m0 1h.01m0 1h-.01m0 1h.01m0 1.5h-.01m0 0.5h.01m0 1h-.01m0 4.5h.01m0 2.5h-.01m0 0.5h.01m0 0.5h-.01m0 1.5h.01m0 1.5h-.01m0 1.5h.01m0 13.5h-.01m0 0.5h.01m0 5h-.01m0 7.5h.01m0 8h-.01m0 1h.01m0 1h-.01m0 0.5h.01m0 0.5h-.01m0 10.5h.01m0 1h-.01m0 4h.01m0 6h-.01m0 1h.01m0 11h-.01m0 7h.01m0 0.5h-.01m0 6h.01m0 2h-.01m0 2h.01m0 1h-.01m0 11h.01m0 2h-.01m0 7.5h.01m0 9.5h-.01m0 4h.01m0 8.5h-.01m0 3.5h.01m0 1.5h-.01m0 14.5h.01m0 10h-.01m0 10h.01m0 8h-.01m0 6.5h.01m0 0.5h-.01m0 5.5h.01m0 0.5h-.01m0 1h.01m0 1h-.01m0 8h.01m0 5.5h-.01m0 8h.01m0 4.5h-.01m0 2.5h.01m0 12.5h-.01m0 4h.01m0 20.5h-.01m0 2.5h.01m0 1h-.01m0 11h.01m0 9.5h-.01m0 31.5h.01m0 2h-.01m22 -382.5h.01m0 0.5h-.01m0 1h.01m0 1.5h-.01m0 2h.01m0 5.5h-.01m0 2.5h.01m0 1h-.01m0 4.5h.01m0 3h-.01m0 1.5h.01m0 7h-.01m0 2h.01m0 0.5h-.01m0 3.5h.01m0 5h-.01m0 4h.01m0 1.5h-.01m0 4h.01m0 4.5h-.01m0 1.5h.01m0 4.5h-.01m0 2.5h.01m0 4.5h-.01m0 1h.01m0 9.5h-.01m0 6h.01m0 1h-.01m0 6h.01m0 1h-.01m0 2h.01m0 4.5h-.01m0 3h.01m0 1h-.01m0 1h.01m0 0.5h-.01m0 6h.01m0 4.5h-.01m0 6h.01m0 7.5h-.01m0 1h.01m0 15h-.01m0 4.5h.01m0 1h-.01m0 1h.01m0 12h-.01m0 1.5h.01m0 3.5h-.01m0 13h.01m0 4.5h-.01m0 5h.01m0 13h-.01m0 10.5h.01m0 11h-.01m0 8.5h.01m0 5.5h-.01m0 9h.01m0 2h-.01m0 3.5h.01m0 13.5h-.01m0 13.5h.01m0 4h-.01m0 9.5h.01m0 5.5h-.01m0 7.5h.01m0 22.5h-.01m0 6h.01m0 2.5h-.01m0 19.5h.01m0 22.5h-.01m0 44.5h.01m18 -428.5h-.01m0 6h.01m0 14.5h-.01m0 3.5h.01m0 1.5h-.01m0 8.5h.01m0 3.5h-.01m0 15h.01m0 3h-.01m0 10h.01m0 4.5h-.01m0 6h.01m0 0.5h-.01m0 1.5h.01m0 2h-.01m0 20.5h.01m0 1h-.01m0 1h.01m0 7.5h-.01m0 2.5h.01m0 9h-.01m0 10.5h.01m0 3h-.01m0 0.5h.01m0 6.5h-.01m0 2.5h.01m0 3.5h-.01m0 17h.01m0 4.5h-.01m0 3h.01m0 3.5h-.01m0 2.5h.01m0 4.5h-.01m0 4h.01m0 2.5h-.01m0 19h.01m0 0.5h-.01m0 0.5h.01m0 5.5h-.01m0 1.5h.01m0 15h-.01m0 9h.01m0 1.5h-.01m0 1h.01m0 10.5h-.01m0 1.5h.01m0 9h-.01m0 0.5h.01m0 3h-.01m0 1.5h.01m0 1h-.01m0 11h.01m0 5h-.01m0 4.5h.01m0 14.5h-.01m0 11h.01m0 25.5h-.01m0 14.5h.01m0 44.5h-.01m0 20h.01m15 -410h-.01m0 1h.01m0 2.5h-.01m0 0.5h.01m0 0.5h-.01m0 5.5h.01m0 6h-.01m0 0.5h.01m0 1h-.01m0 4.5h.01m0 6h-.01m0 15.5h.01m0 10h-.01m0 0.5h.01m0 3h-.01m0 1.5h.01m0 1h-.01m0 8h.01m0 1.5h-.01m0 1h.01m0 14.5h-.01m0 10.5h.01m0 8.5h-.01m0 21h.01m0 7.5h-.01m0 8h.01m0 10h-.01m0 8h.01m0 5.5h-.01m0 4h.01m0 5h-.01m0 2h.01m0 11.5h-.01m0 8h.01m0 3h-.01m0 20h.01m0 2.5h-.01m0 7.5h.01m0 31.5h-.01m0 6h.01m0 13.5h-.01m0 6.5h.01m0 13h-.01m0 26h.01m0 3h-.01m0 56h.01m13.5 -390.5h-.01m0 3h.01m0 5h-.01m0 2h.01m0 4h-.01m0 12.5h.01m0 11.5h-.01m0 8h.01m0 4.5h-.01m0 3.5h.01m0 1h-.01m0 2h.01m0 6.5h-.01m0 5h.01m0 5.5h-.01m0 8h.01m0 18h-.01m0 2.5h.01m0 13.5h-.01m0 4h.01m0 1.5h-.01m0 19.5h.01m0 9h-.01m0 20h.01m0 6h-.01m0 3.5h.01m0 5.5h-.01m0 5h.01m0 2h-.01m0 40h.01m0 5h-.01m0 2h.01m0 14h-.01m0 2h.01m0 4h-.01m0 0.5h.01m0 10h-.01m0 43h.01m0 4h-.01m0 37h.01m0 68h-.01m11.5 -402.5h.01m0 20h-.01m0 14.5h.01m0 40.5h-.01m0 16h.01m0 17h-.01m0 42h.01m0 5.5h-.01m0 5h.01m0 66h-.01m0 31.5h.01m0 26h-.01m0 68.5h.01m10.5 -367.5h-.01m0 5.5h.01m0 56.5h-.01m0 0.5h.01m0 7h-.01m0 18.5h.01m0 36.5h-.01m0 69h.01m0 42h-.01m0 0.5h.01m0 11.5h-.01m0 12.5h.01m0 5.5h-.01m0 71h.01m9.5 -342h-.01m0 21.5h.01m0 30.5h-.01m0 8.5h.01m0 10.5h-.01m0 37h.01m0 32.5h-.01m0 41.5h.01m0 1h-.01m0 12.5h.01m0 55h-.01m0 13.5h.01m0 2.5h-.01m0 6.5h.01m0 34.5h-.01m0 1h.01m0 72h-.01m8.5 -373h.01m0 16.5h-.01m0 0.5h.01m0 45.5h-.01m0 63.5h.01m0 34.5h-.01m0 24.5h.01m0 17.5h-.01m0 30.5h.01m0 84h-.01m0 90h.01m8 -397h-.01m0 11h.01m0 40h-.01m0 7h.01m0 24h-.01m0 18.5h.01m0 58h-.01m0 2h.01m0 207h-.01m7.5 -376h.01m0 19h-.01m0 38h.01m0 80.5h-.01m0 8.5h.01m0 48.5h-.01m0 4h.01m0 41.5h-.01m0 44h.01m0 9.5h-.01m0 4.5h.01m0 29.5h-.01m0 34h.01m0 51h-.01m6.5 -351h.01m0 2h-.01m0 42h.01m0 11.5h-.01m0 32h.01m0 11h-.01m0 31h.01m0 71h-.01m0 11.5h.01m0 17.5h-.01m0 41.5h.01m0 49.5h-.01m6.5 -331h.01m0 35.5h-.01m0 10.5h.01m0 10.5h-.01m0 13.5h.01m0 117h-.01m0 16.5h.01m0 40h-.01m0 89.5h.01m6 -373h-.01m0 12h.01m0 82h-.01m0 27.5h.01m0 19.5h-.01m0 0.5h.01m0 44.5h-.01m0 7h.01m0 23.5h-.01m0 10.5h.01m0 106.5h-.01m5.5 -353.5h.01m0 47.5h-.01m0 36h.01m0 14.5h-.01m0 26.5h.01m0 2.5h-.01m0 74h.01m0 14h-.01m0 25.5h.01m0 6.5h-.01m0 4h.01m0 13h-.01m0 25.5h.01m0 30.5h-.01m0 51h.01m5.5 -301.5h-.01m0 48h.01m0 14.5h-.01m0 137h.01m0 52.5h-.01m0 3.5h.01m0 2.5h-.01m0 42.5h.01m5 -275h-.01m0 6.5h.01m0 18.5h-.01m0 8h.01m0 1h-.01m0 3h.01m0 46.5h-.01m0 68h.01m0 16.5h-.01m0 38h.01m5 -269.5h-.01m0 3.5h.01m0 5.5h-.01m0 19.5h.01m0 10.5h-.01m0 22h.01m0 62.5h-.01m0 22h.01m0 32.5h-.01m0 2h.01m0 2.5h-.01m0 11.5h.01m0 110.5h-.01m4.5 -311.5h.01m0 5.5h-.01m0 155.5h.01m0 15.5h-.01m0 14h.01m0 76.5h-.01m4.5 -212.5h.01m0 27h-.01m0 74.5h.01m0 3.5h-.01m0 31.5h.01m0 32h-.01m0 15.5h.01m0 50.5h-.01m0 59.5h.01m4 -136.5h-.01m0 103.5h.01m0 15h-.01m4 -271h.01m0 6.5h-.01m0 1.5h.01m0 20h-.01m0 17.5h.01m0 208h-.01m0 21.5h.01m4 -353.5h-.01m0 22.5h.01m0 29h-.01m0 22h.01m0 60.5h-.01m0 36.5h.01m0 24.5h-.01m0 66.5h.01m0 19h-.01m0 99h.01m4 -320h-.01m0 42.5h.01m0 42.5h-.01m0 82.5h.01m0 31.5h-.01m0 29h.01m3.5 -245h-.01m0 38h.01m0 169.5h-.01m3.5 -131.5h.01m0 10h-.01m0 8h.01m0 72h-.01m0 10.5h.01m0 60.5h-.01m0 52h.01m0 60h-.01m3 -350h.01m0 22h-.01m0 46h.01m0 97.5h-.01m3.5 -95h.01m0 6.5h-.01m0 10.5h.01m0 61h-.01m0 121.5h.01m3 -191.5h-.01m0 61h.01m0 33.5h-.01m0 22h.01m0 126h-.01m0 0.5h.01m3 -349.5h-.01m0 75h.01m0 2h-.01m0 125.5h.01m0 68.5h-.01m0 4.5h.01m0 45h-.01m0 78h.01m3 -333.5h-.01m0 79.5h.01m0 37.5h-.01m0 120h.01m3 -167.5h-.01m0 81h.01m3 73h-.01m2.5 -254h.01m0 3.5h-.01m0 21h.01m0 252h-.01m0 20h.01m0 18.5h-.01m2.5 -144.5h.01m0 36h-.01m0 30.5h.01m2.5 -216.5h-.01m0 0.5h.01m0 252h-.01m2.5 -18h.01m0 12.5h-.01m0 94.5h.01m2.5 -347.5h-.01m0 43h.01m0 76.5h-.01m0 164.5h.01m0 19.5h-.01m2.5 -183.5h.01m0 106.5h-.01m0 63h.01m2.5 -304h-.01m0 130.5h.01m2 -152h-.01m0 182h.01m0 4h-.01m0 88.5h.01m2.5 -189h-.01m0 24.5h.01m0 64h-.01m0 2h.01m0 5.5h-.01m0 71h.01m0 39h-.01m2 -99h.01m0 33h-.01m2 -182h.01m2 11.5h-.01m1.5 94h.01m1 7.5h-.01m0 35h.01m0 36.5h-.01m1.5 124h.01m0.5 -335h-.01m0 23h.01m0 262h-.01m1 47h.01m0.5 20.5h-.01m2 -174.5h.01m0 158.5h-.01m0 26.5h.01m2 -66h-.01m0 50h.01m0.5 -18.5h-.01m1 -37.5h.01m0.5 -79h-.01m0.5 -52.5h.01m1 -79h-.01m2 -86h.01m0 292h-.01m1.5 -141.5h.01m0 141.5h-.01m2 -24.5h.01m3.5 -232.5h-.01m0 238.5h.01m1.5 -193.5h-.01m3 58h.01m0 59h-.01m0 36.5h.01m1.5 -25.5h-.01m1.5 -130.5h.01m1.5 241h-.01m6 -178.5h.01m3 -2.5h-.01m0 228.5h.01m1 -305h-.01m1.5 1h.01m1.5 311.5h-.01m0 -166.5h.01m1 76h-.01m3 -281.5h.01m0 184h-.01m2 -88h.01m0.5 90.5h-.01m0 16h.01m2 -135h-.01m2.5 -50h.01m1.5 313h-.01m1 -73.5h.01m1 -165h-.01m4 32.5h.01m1.5 177.5h-.01m0.5 -7h.01m0.5 -276h-.01m4.5 169.5h.01m0 150.5h-.01m1 -317.5h.01m1 218h-.01m0.5 65h.01m3.5 -48.5h-.01m1.5 83h.01m1 -16h-.01m1.5 58.5h.01m0 -170h-.01m11.5 -124h.01m2.5 -40h-.01m1.5 91.5h.01m0 176.5h-.01m1 -105h.01m1.5 59.5h-.01m1 79.5h.01m0.5 22.5h-.01m1 -41h.01m2 -95.5h-.01m1.5 100h.01m1.5 -188.5h-.01m13 -20h.01m1.5 -17h-.01m12.5 287.5h.01m0.5 -255.5h-.01m0 94.5h.01m3 -159h-.01m2.5 54.5h.01m3 -44h-.01m2.5 179h.01m48 -22h-.01m31 50.5h.01m7.5 -140h-.01m7 -73h.01m16 209h-.01" stroke="#0a0ac8" stroke-width="4.9" stroke-linecap="round" fill="none"/>
<path d="M1209.5 441.5h.01m0 0.5h-.01m0 6.5h.01m0 24.5h-.01m0 9.5h.01m0 5.5h-.01m0 0.5h.01m0 10h-.01m0 9h.01m0 0.5h-.01m0 11.5h.01m0 5h-.01m0 2.5h.01m0 0.5h-.01m0 7h.01m0 1.5h-.01m0 3.5h.01m0 2h-.01m0 3.5h.01m0 9.5h-.01m0 15.5h.01m0 2h-.01m0 1h.01m0 4.5h-.01m0 4.5h.01m0 2h-.01m0 1h.01m0 3h-.01m0 3h.01m0 6.5h-.01m0 15h.01m0 1h-.01m0 2.5h.01m0 9h-.01m0 11.5h.01m0 0.5h-.01m0 0.5h.01m0 17h-.01m0 9h.01m0 75.5h-.01m68.5 -249.5h.01m0 28h-.01m0 5h.01m0 0.5h-.01m0 19h.01m0 39h-.01m0 1.5h.01m0 5h-.01m0 1.5h.01m0 7.5h-.01m0 26h.01m40.5 -181h-.01m0 55.5h.01m0 12h-.01m0 4.5h.01m0 20.5h-.01m0 29h.01m0 4.5h-.01m0 3.5h.01m0 1.5h-.01m0 7h.01m0 1h-.01m0 3h.01m0 0.5h-.01m0 6h.01m0 23.5h-.01m0 0.5h.01m0 15.5h-.01m0 0.5h.01m0 28.5h-.01m0 0.5h.01m0 17.5h-.01m0 7.5h.01m0 48.5h-.01m28.5 -291h.01m0 13h-.01m0 58h.01m0 3.5h-.01m0 4h.01m0 3h-.01m0 10.5h.01m0 14h-.01m0 2h.01m0 22h-.01m0 3.5h.01m0 6.5h-.01m0 13h.01m0 1.5h-.01m0 45.5h.01m0 12h-.01m22 -212h.01m0 29h-.01m0 5.5h.01m0 17h-.01m0 16.5h.01m0 16h-.01m0 29h.01m0 18h-.01m0 19h.01m0 10h-.01m0 27.5h.01m0 0.5h-.01m0 14h.01m18 -202h-.01m0 34.5h.01m0 48.5h-.01m0 19h.01m0 13h-.01m0 18h.01m0 11h-.01m0 6h.01m0 10h-.01m0 23h.01m0 6h-.01m0 18h.01m0 15.5h-.01m0 6.5h.01m0 2h-.01m0 2h.01m15 -231h-.01m0 22.5h.01m0 13.5h-.01m0 0.5h.01m0 31h-.01m0 10h.01m0 8.5h-.01m0 1h.01m0 16.5h-.01m0 56.5h.01m0 9.5h-.01m0 18.5h.01m0 2h-.01m0 25h.01m13.5 -162.5h-.01m0 11h.01m0 79h-.01m0 26h.01m0 7.5h-.01m0 9h.01m0 28.5h-.01m0 2.5h.01m0 4.5h-.01m0 68h.01m11.5 -288h-.01m0 37.5h.01m0 2h-.01m0 9h.01m0 20.5h-.01m0 24h.01m0 61.5h-.01m0 32h.01m0 25.5h-.01m0 6h.01m0 41.5h-.01m10.5 -202h.01m0 16.5h-.01m0 8h.01m0 33h-.01m0 20h.01m0 7.5h-.01m9.5 -145h.01m0 31.5h-.01m0 48h.01m0 18h-.01m0 47.5h.01m0 9.5h-.01m0 9.5h.01m0 20.5h-.01m8.5 -135.5h.01m0 27h-.01m0 16.5h.01m0 19.5h-.01m0 87h.01m8 -80h-.01m0 2h.01m0 79h-.01m0 47h.01m7.5 -174.5h-.01m0 49h.01m0 15h-.01m0 7h.01m0 1.5h-.01m6.5 -116h.01m0 90h-.01m0 3.5h.01m0 2.5h-.01m0 15.5h.01m0 20h-.01m0 16h.01m0 44.5h-.01m6.5 -140.5h.01m0 37.5h-.01m0 56.5h.01m6 -126.5h-.01m0 15.5h.01m0 75.5h-.01m0 49h.01m0 1.5h-.01m5.5 -167h.01m0 23h-.01m0 58.5h.01m0 6.5h-.01m0 48h.01m0 62h-.01m5.5 -121h.01m0 10h-.01m0 38.5h.01m0 55h-.01m5 -61h.01m5 8.5h-.01m0 63h.01m4.5 -147.5h-.01m0 52.5h.01m0 46h-.01m0 5.5h.01m0 14h-.01m4.5 -161h.01m0 111h-.01m0 29h.01m0 24h-.01m4 -149h.01m0 131.5h-.01m0 3.5h.01m0 101.5h-.01m4 -128.5h.01m8 -102.5h-.01m0 52h.01m0 77h-.01m10 -107.5h.01m0 47.5h-.01m0 15h.01m0 48h-.01m0 14.5h.01m3.5 -36h-.01m3 -4.5h.01m6 -8h-.01m3 8h.01m0 7h-.01m3 7.5h.01m2.5 9h-.01m2.5 -2.5h.01m2.5 -62.5h-.01m5 55.5h.01m13.5 -55.5h-.01m0 5.5h.01m4.5 7.5h-.01m3.5 15h.01m2 -29.5h-.01m2 29h.01m2 -76.5h-.01m3.5 -49h.01m1.5 100h-.01m10 -52.5h.01m0 113h-.01m3 -45h.01m3 -92.5h-.01m0 68h.01m7.5 36h-.01m4 18.5h.01m17 1h-.01m6.5 -107h.01m2 65h-.01m18.5 35.5h.01m31 -9.5h-.01m10.5 6.5h.01" stroke="#4cc083" stroke-width="4.9" stroke-linecap="round" fill="none"/>
<path d="M1573 642h.01m0 3.5h-.01m7 11.5h.01m31.5 -9h-.01m10 1h.01m-20.5 19h-.01m15.5 -0.5h.01m9.5 4h-.01m18 -8h.01m26.5 -5.5h-.01m26.5 -1h.01m14 12.5h-.01m-126.5 9h.01m4 -2h-.01m42 41.5h.01m-74.5 -49h-.01m-9.5 -10.5h.01m-3.5 33h-.01" stroke="#4cc083" stroke-width="4.9" stroke-linecap="round" fill="none"/>
<circle cx="1577.5" cy="701.2" r="7.2" fill="#3fc67c"/>
<text x="1576.8" y="728.4" font-size="23.2" textLength="39.8" lengthAdjust="spacingAndGlyphs">APC</text>
<path d="M1174 626.1H1930.7M1552.9 147V763" stroke="#e81c24" stroke-width="2.1" fill="none"/>
<rect x="1174" y="147.6" width="756.7" height="615.9" fill="none" stroke="#000" stroke-width="1.9"/>
<path d="M1209.6 764.5v3M1381.1 764.5v3M1552.6 764.5v3M1724.1 764.5v3M1895.6 764.5v3M1173 716.2h-3M1173 533.2h-3M1173 350.2h-3M1173 167.2h-3" stroke="#c4c4c4" stroke-width="1" fill="none"/>
<text x="1207.1" y="787.6" font-size="21.6" text-anchor="middle" textLength="27.5" lengthAdjust="spacingAndGlyphs">0.0</text>
<text x="1378.6" y="787.6" font-size="21.6" text-anchor="middle" textLength="27.5" lengthAdjust="spacingAndGlyphs">2.5</text>
<text x="1550.1" y="787.6" font-size="21.6" text-anchor="middle" textLength="27.5" lengthAdjust="spacingAndGlyphs">5.0</text>
<text x="1721.6" y="787.6" font-size="21.6" text-anchor="middle" textLength="27.5" lengthAdjust="spacingAndGlyphs">7.5</text>
<text x="1890.6" y="787.6" font-size="21.6" text-anchor="middle" textLength="39" lengthAdjust="spacingAndGlyphs">10.0</text>
<text x="1166.8" y="176.3" font-size="21.6" text-anchor="end" textLength="27.5" lengthAdjust="spacingAndGlyphs">1.0</text>
<text x="1166.8" y="358.2" font-size="21.6" text-anchor="end" textLength="27.5" lengthAdjust="spacingAndGlyphs">0.8</text>
<text x="1166.8" y="540.7" font-size="21.6" text-anchor="end" textLength="27.5" lengthAdjust="spacingAndGlyphs">0.6</text>
<text x="1166.8" y="723.7" font-size="21.6" text-anchor="end" textLength="27.5" lengthAdjust="spacingAndGlyphs">0.4</text>
<text x="1462.7" y="826.3" font-size="29.4" textLength="198.4" lengthAdjust="spacingAndGlyphs">Log2(MinPSMs)</text>
<text font-size="29.4" text-anchor="middle" textLength="545" lengthAdjust="spacingAndGlyphs" transform="translate(1121.5 448) rotate(-90)">Max. Probability (HiRIEF and High pH class)</text>
<text x="1711.8" y="711.3" font-size="30.4" fill="#7a4a21" textLength="207.9" lengthAdjust="spacingAndGlyphs">Multi-localizing</text>
<text x="1711.8" y="747.6" font-size="30.4" fill="#7a4a21" textLength="122.3" lengthAdjust="spacingAndGlyphs">proteins?</text></g>
<g><text x="14.6" y="899.9" font-size="71" textLength="34.3" lengthAdjust="spacingAndGlyphs">c</text>
<text x="345.6" y="939" font-size="42.7" textLength="78.8" lengthAdjust="spacingAndGlyphs">APC</text>
<text x="288.8" y="979.1" font-size="29.9" textLength="189.9" lengthAdjust="spacingAndGlyphs">Neighborhood</text>
<path d="M111.5 995.7H651.4M111.5 1036.9H651.4M111.5 1078.1H651.4M111.5 1119.3H651.4M111.5 1160.5H651.4M111.5 1201.6H651.4M111.5 1242.8H651.4M111.5 1284H651.4M111.5 1325.2H651.4" stroke="#6b6b6b" stroke-width="1.5" fill="none"/>
<text x="100.5" y="1002.2" font-size="22.1" text-anchor="end" textLength="40" lengthAdjust="spacingAndGlyphs">1.00</text>
<text x="100.5" y="1084.6" font-size="22.1" text-anchor="end" textLength="40" lengthAdjust="spacingAndGlyphs">0.75</text>
<text x="100.5" y="1167" font-size="22.1" text-anchor="end" textLength="40" lengthAdjust="spacingAndGlyphs">0.50</text>
<text x="100.5" y="1249.3" font-size="22.1" text-anchor="end" textLength="40" lengthAdjust="spacingAndGlyphs">0.25</text>
<text x="100.5" y="1331.7" font-size="22.1" text-anchor="end" textLength="40" lengthAdjust="spacingAndGlyphs">0.00</text>
<rect x="139.6" y="995.7" width="66.3" height="3.8" fill="#cd853f"/>
<rect x="139.6" y="999.2" width="66.3" height="15.4" fill="#ffbf27"/>
<rect x="139.6" y="1014.3" width="66.3" height="27.4" fill="#cccccc"/>
<rect x="139.6" y="1041.4" width="66.3" height="284.1" fill="#98f5ff"/>
<rect x="246.6" y="995.7" width="66.3" height="1.3" fill="#cd853f"/>
<rect x="246.6" y="996.7" width="66.3" height="10.8" fill="#98f5ff"/>
<rect x="246.6" y="1007.3" width="66.3" height="10.3" fill="#ffbf27"/>
<rect x="246.6" y="1017.3" width="66.3" height="308.2" fill="#cccccc"/>
<rect x="353.1" y="995.7" width="66.3" height="6.8" fill="#cd853f"/>
<rect x="353.1" y="1002.2" width="66.3" height="28.9" fill="#98f5ff"/>
<rect x="353.1" y="1030.9" width="66.3" height="47.5" fill="#ffbf27"/>
<rect x="353.1" y="1078.1" width="66.3" height="247.4" fill="#cccccc"/>
<rect x="460.1" y="995.7" width="66.3" height="16.4" fill="#cd853f"/>
<rect x="460.1" y="1011.8" width="66.3" height="49.5" fill="#ffbf27"/>
<rect x="460.1" y="1061" width="66.3" height="79.2" fill="#cccccc"/>
<rect x="460.1" y="1139.9" width="66.3" height="185.6" fill="#98f5ff"/>
<rect x="566.5" y="995.7" width="66.3" height="32.4" fill="#cd853f"/>
<rect x="566.5" y="1027.8" width="66.3" height="43" fill="#ffbf27"/>
<rect x="566.5" y="1070.5" width="66.3" height="102.8" fill="#98f5ff"/>
<rect x="566.5" y="1173" width="66.3" height="152.5" fill="#cccccc"/>
<text x="172.8" y="1353.3" font-size="22.7" text-anchor="middle" textLength="48" lengthAdjust="spacingAndGlyphs">A431</text>
<text x="172.8" y="1380" font-size="22.7" text-anchor="middle" textLength="70.8" lengthAdjust="spacingAndGlyphs">Cytosol</text>
<text x="279.8" y="1353.3" font-size="22.7" text-anchor="middle" textLength="50" lengthAdjust="spacingAndGlyphs">H322</text>
<text x="279.8" y="1380" font-size="22.7" text-anchor="middle" textLength="73.4" lengthAdjust="spacingAndGlyphs">Nuclear</text>
<text x="380" y="1353.3" font-size="22.7" text-anchor="middle" textLength="77" lengthAdjust="spacingAndGlyphs">HCC827</text>
<text x="380" y="1380" font-size="22.7" text-anchor="middle" textLength="73.4" lengthAdjust="spacingAndGlyphs">Nuclear</text>
<text x="491" y="1353.3" font-size="22.7" text-anchor="middle" textLength="53.7" lengthAdjust="spacingAndGlyphs">MCF7</text>
<text x="491" y="1380" font-size="22.7" text-anchor="middle" textLength="70.8" lengthAdjust="spacingAndGlyphs">Cytosol</text>
<text x="599.5" y="1353.3" font-size="22.7" text-anchor="middle" textLength="49" lengthAdjust="spacingAndGlyphs">U251</text>
<text x="599.5" y="1380" font-size="22.7" text-anchor="middle" textLength="78" lengthAdjust="spacingAndGlyphs">Unclass.</text>
<text x="691.6" y="983.1" font-size="27.8" textLength="175.8" lengthAdjust="spacingAndGlyphs">Neighborhoods</text>
<rect x="694.6" y="995.7" width="12.1" height="70.3" fill="#ffbf27"/>
<text x="714.2" y="1034.4" font-size="22.7" textLength="90.9" lengthAdjust="spacingAndGlyphs">Secretory</text>
<rect x="694.6" y="1096.2" width="12.1" height="70.3" fill="#cccccc"/>
<text x="714.2" y="1134.8" font-size="22.7" textLength="76.4" lengthAdjust="spacingAndGlyphs">Nucleus</text>
<rect x="694.6" y="1190.1" width="12.1" height="89.9" fill="#98f5ff"/>
<text x="714.2" y="1239.3" font-size="22.7" textLength="69.8" lengthAdjust="spacingAndGlyphs">Cytosol</text>
<rect x="694.6" y="1307.1" width="12.1" height="37.7" fill="#cd853f"/>
<text x="714.2" y="1332.2" font-size="22.7" textLength="129.6" lengthAdjust="spacingAndGlyphs">Mitochondria</text>
<text x="1232.8" y="939.4" font-size="42.7" textLength="78.1" lengthAdjust="spacingAndGlyphs">APC</text>
<text x="1175.4" y="980.8" font-size="29.9" textLength="181.6" lengthAdjust="spacingAndGlyphs">Compartment</text>
<path d="M993.7 996H1536.7M993.7 1037.2H1536.7M993.7 1078.3H1536.7M993.7 1119.5H1536.7M993.7 1160.7H1536.7M993.7 1201.8H1536.7M993.7 1243H1536.7M993.7 1284.1H1536.7M993.7 1325.3H1536.7" stroke="#6b6b6b" stroke-width="1.5" fill="none"/>
<text x="982" y="1002.5" font-size="22.1" text-anchor="end" textLength="40" lengthAdjust="spacingAndGlyphs">1.00</text>
<text x="982" y="1084.8" font-size="22.1" text-anchor="end" textLength="40" lengthAdjust="spacingAndGlyphs">0.75</text>
<text x="982" y="1167.2" font-size="22.1" text-anchor="end" textLength="40" lengthAdjust="spacingAndGlyphs">0.50</text>
<text x="982" y="1249.5" font-size="22.1" text-anchor="end" textLength="40" lengthAdjust="spacingAndGlyphs">0.25</text>
<text x="982" y="1331.8" font-size="22.1" text-anchor="end" textLength="40" lengthAdjust="spacingAndGlyphs">0.00</text>
<rect x="1022.3" y="996" width="66.5" height="2.6" fill="#8b7355"/>
<rect x="1022.3" y="998.3" width="66.5" height="2.3" fill="#c9a06c"/>
<rect x="1022.3" y="1000.3" width="66.5" height="2.3" fill="#ffd700"/>
<rect x="1022.3" y="1002.3" width="66.5" height="2.3" fill="#ffa500"/>
<rect x="1022.3" y="1004.2" width="66.5" height="2.6" fill="#828282"/>
<rect x="1022.3" y="1006.5" width="66.5" height="2.6" fill="#4f9a7a"/>
<rect x="1022.3" y="1008.9" width="66.5" height="3" fill="#b3b3b3"/>
<rect x="1022.3" y="1011.6" width="66.5" height="5" fill="#ee5c42"/>
<rect x="1022.3" y="1016.3" width="66.5" height="6.6" fill="#fa8072"/>
<rect x="1022.3" y="1022.6" width="66.5" height="9.3" fill="#00f5ff"/>
<rect x="1022.3" y="1031.5" width="66.5" height="17.1" fill="#00b2ee"/>
<rect x="1022.3" y="1048.3" width="66.5" height="20.6" fill="#4d4d4d"/>
<rect x="1022.3" y="1068.7" width="66.5" height="21.8" fill="#add8e6"/>
<rect x="1022.3" y="1090.1" width="66.5" height="235.5" fill="#7fffd4"/>
<rect x="1129.7" y="996" width="66.5" height="2.3" fill="#00c5cd"/>
<rect x="1129.7" y="998" width="66.5" height="3.8" fill="#828282"/>
<rect x="1129.7" y="1001.5" width="66.5" height="3" fill="#8b7355"/>
<rect x="1129.7" y="1004.2" width="66.5" height="2.3" fill="#ffd700"/>
<rect x="1129.7" y="1006.2" width="66.5" height="5" fill="#e3e3e3"/>
<rect x="1129.7" y="1010.8" width="66.5" height="2.6" fill="#ffa500"/>
<rect x="1129.7" y="1013.2" width="66.5" height="3.4" fill="#fa8072"/>
<rect x="1129.7" y="1016.3" width="66.5" height="6.2" fill="#7fffd4"/>
<rect x="1129.7" y="1022.2" width="66.5" height="303.4" fill="#4d4d4d"/>
<rect x="1237.1" y="996" width="66.5" height="5.4" fill="#00f5ff"/>
<rect x="1237.1" y="1001.1" width="66.5" height="3.4" fill="#8b7355"/>
<rect x="1237.1" y="1004.2" width="66.5" height="3.4" fill="#828282"/>
<rect x="1237.1" y="1007.3" width="66.5" height="4.6" fill="#b3b3b3"/>
<rect x="1237.1" y="1011.6" width="66.5" height="3.4" fill="#8b5a2b"/>
<rect x="1237.1" y="1014.8" width="66.5" height="4.2" fill="#ee5c42"/>
<rect x="1237.1" y="1018.7" width="66.5" height="5.4" fill="#e3e3e3"/>
<rect x="1237.1" y="1023.7" width="66.5" height="6.9" fill="#ffd700"/>
<rect x="1237.1" y="1030.4" width="66.5" height="6.9" fill="#add8e6"/>
<rect x="1237.1" y="1037" width="66.5" height="7.3" fill="#ffa500"/>
<rect x="1237.1" y="1044" width="66.5" height="16.7" fill="#7fffd4"/>
<rect x="1237.1" y="1060.5" width="66.5" height="28.8" fill="#fa8072"/>
<rect x="1237.1" y="1089" width="66.5" height="236.6" fill="#4d4d4d"/>
<rect x="1344.5" y="996" width="66.5" height="6.6" fill="#00f5ff"/>
<rect x="1344.5" y="1002.3" width="66.5" height="7.3" fill="#00c5cd"/>
<rect x="1344.5" y="1009.3" width="66.5" height="7.7" fill="#828282"/>
<rect x="1344.5" y="1016.7" width="66.5" height="8.1" fill="#b3b3b3"/>
<rect x="1344.5" y="1024.5" width="66.5" height="8.1" fill="#8b7355"/>
<rect x="1344.5" y="1032.3" width="66.5" height="8.1" fill="#8b5a2b"/>
<rect x="1344.5" y="1040.1" width="66.5" height="10.5" fill="#ffa500"/>
<rect x="1344.5" y="1050.3" width="66.5" height="12" fill="#ffd700"/>
<rect x="1344.5" y="1062" width="66.5" height="12.8" fill="#ee5c42"/>
<rect x="1344.5" y="1074.5" width="66.5" height="15.1" fill="#e3e3e3"/>
<rect x="1344.5" y="1089.4" width="66.5" height="14.8" fill="#fa8072"/>
<rect x="1344.5" y="1103.8" width="66.5" height="23" fill="#add8e6"/>
<rect x="1344.5" y="1126.5" width="66.5" height="29.6" fill="#00b2ee"/>
<rect x="1344.5" y="1155.8" width="66.5" height="49.1" fill="#4d4d4d"/>
<rect x="1344.5" y="1204.6" width="66.5" height="121" fill="#7fffd4"/>
<rect x="1451.9" y="996" width="66.5" height="5.4" fill="#00c5cd"/>
<rect x="1451.9" y="1001.1" width="66.5" height="5" fill="#ffa500"/>
<rect x="1451.9" y="1005.8" width="66.5" height="8.5" fill="#ffd700"/>
<rect x="1451.9" y="1014" width="66.5" height="9.3" fill="#8b5a2b"/>
<rect x="1451.9" y="1023" width="66.5" height="10.8" fill="#00b2ee"/>
<rect x="1451.9" y="1033.5" width="66.5" height="11.2" fill="#ee5c42"/>
<rect x="1451.9" y="1044.4" width="66.5" height="12.4" fill="#00f5ff"/>
<rect x="1451.9" y="1056.5" width="66.5" height="13.2" fill="#b3b3b3"/>
<rect x="1451.9" y="1069.4" width="66.5" height="17.1" fill="#e3e3e3"/>
<rect x="1451.9" y="1086.2" width="66.5" height="17.9" fill="#add8e6"/>
<rect x="1451.9" y="1103.8" width="66.5" height="19.8" fill="#fa8072"/>
<rect x="1451.9" y="1123.3" width="66.5" height="22.6" fill="#8b7355"/>
<rect x="1451.9" y="1145.6" width="66.5" height="61.2" fill="#7fffd4"/>
<rect x="1451.9" y="1206.5" width="66.5" height="119.1" fill="#4d4d4d"/>
<text x="1055.5" y="1352.7" font-size="22.7" text-anchor="middle" textLength="48" lengthAdjust="spacingAndGlyphs">A431</text>
<text x="1055.5" y="1376.9" font-size="22.7" text-anchor="middle" textLength="25" lengthAdjust="spacingAndGlyphs">C2</text>
<text x="1162.9" y="1352.7" font-size="22.7" text-anchor="middle" textLength="50" lengthAdjust="spacingAndGlyphs">H322</text>
<text x="1162.9" y="1376.9" font-size="22.7" text-anchor="middle" textLength="27" lengthAdjust="spacingAndGlyphs">N4</text>
<text x="1264" y="1352.7" font-size="22.7" text-anchor="middle" textLength="77" lengthAdjust="spacingAndGlyphs">HCC827</text>
<text x="1264" y="1376.9" font-size="22.7" text-anchor="middle" textLength="27" lengthAdjust="spacingAndGlyphs">N4</text>
<text x="1376.6" y="1352.7" font-size="22.7" text-anchor="middle" textLength="53.7" lengthAdjust="spacingAndGlyphs">MCF7</text>
<text x="1376.6" y="1376.9" font-size="22.7" text-anchor="middle" textLength="78" lengthAdjust="spacingAndGlyphs">Unclass.</text>
<text x="1484.8" y="1352.7" font-size="22.7" text-anchor="middle" textLength="49" lengthAdjust="spacingAndGlyphs">U251</text>
<text x="1484.8" y="1376.9" font-size="22.7" text-anchor="middle" textLength="78" lengthAdjust="spacingAndGlyphs">Unclass.</text>
<text x="1575.3" y="975.1" font-size="25.4" textLength="169.7" lengthAdjust="spacingAndGlyphs">Compartments</text>
<rect x="1576.1" y="992.6" width="13.7" height="11.4" fill="#ffd700"/>
<text x="1603.7" y="1004.8" font-size="21.1" textLength="247.7" lengthAdjust="spacingAndGlyphs">S1, Golgi, Endo/Lysosome</text>
<rect x="1576.1" y="1016.6" width="13.7" height="11.4" fill="#ffa500"/>
<text x="1603.7" y="1028.5" font-size="21.1" textLength="178.6" lengthAdjust="spacingAndGlyphs">S2, ER, Peroxisome</text>
<rect x="1576.1" y="1040.8" width="13.7" height="11.4" fill="#fa8072"/>
<text x="1603.7" y="1053" font-size="21.1" textLength="211.4" lengthAdjust="spacingAndGlyphs">S3, ER, Mito.Ribosome</text>
<rect x="1576.1" y="1065.3" width="13.7" height="11.4" fill="#ee5c42"/>
<text x="1603.7" y="1077.5" font-size="21.1" textLength="211.4" lengthAdjust="spacingAndGlyphs">S4, Plasma Membrane</text>
<rect x="1576.1" y="1100.4" width="13.7" height="11.4" fill="#e3e3e3"/>
<text x="1603.7" y="1115.1" font-size="21.1" textLength="362.2" lengthAdjust="spacingAndGlyphs">N1, Nucleosol high density, Ribosome</text>
<rect x="1576.1" y="1125.4" width="13.7" height="11.4" fill="#b3b3b3"/>
<text x="1603.7" y="1139.3" font-size="21.1" textLength="205.7" lengthAdjust="spacingAndGlyphs">N2, Nucleus, Speckles</text>
<rect x="1576.1" y="1151.2" width="13.7" height="11.4" fill="#828282"/>
<text x="1603.7" y="1163.8" font-size="21.1" textLength="218.1" lengthAdjust="spacingAndGlyphs">N3, Nucleus, Nucleolus</text>
<rect x="1576.1" y="1176.7" width="13.7" height="11.4" fill="#4d4d4d"/>
<text x="1603.7" y="1188.6" font-size="21.1" textLength="130.2" lengthAdjust="spacingAndGlyphs">N4, Nucleosol</text>
<rect x="1576.1" y="1213.6" width="13.7" height="11.4" fill="#add8e6"/>
<text x="1603.7" y="1225.7" font-size="21.1" textLength="204.4" lengthAdjust="spacingAndGlyphs">C1, Cytosol, CytoSkel.</text>
<rect x="1576.1" y="1237" width="13.7" height="11.4" fill="#7fffd4"/>
<text x="1603.7" y="1248.9" font-size="21.1" textLength="204.4" lengthAdjust="spacingAndGlyphs">C2, Cytosol, CytoSkel.</text>
<rect x="1576.1" y="1260.7" width="13.7" height="11.4" fill="#00f5ff"/>
<text x="1603.7" y="1272.4" font-size="21.1" textLength="204.4" lengthAdjust="spacingAndGlyphs">C3, Cytosol, CytoSkel.</text>
<rect x="1576.1" y="1284.5" width="13.7" height="11.4" fill="#00b2ee"/>
<text x="1603.7" y="1296.1" font-size="21.1" textLength="204.4" lengthAdjust="spacingAndGlyphs">C4, Cytosol, CytoSkel.</text>
<rect x="1576.1" y="1308.2" width="13.7" height="11.4" fill="#00c5cd"/>
<text x="1603.7" y="1319.3" font-size="21.1" textLength="204.4" lengthAdjust="spacingAndGlyphs">C5, Cytosol, CytoSkel.</text>
<rect x="1576.1" y="1343.2" width="13.7" height="11.4" fill="#8b7355"/>
<text x="1603.7" y="1354.6" font-size="21.1" textLength="235.3" lengthAdjust="spacingAndGlyphs">M1, Mitochondria matrix</text>
<rect x="1576.1" y="1368.5" width="13.7" height="11.4" fill="#8b5a2b"/>
<text x="1603.7" y="1381.2" font-size="21.1" textLength="281" lengthAdjust="spacingAndGlyphs">M2, Mitochondria membrane</text></g>
<g><text x="14.5" y="1520.7" font-size="74.7" textLength="43.9" lengthAdjust="spacingAndGlyphs">d</text>
<text x="308.4" y="1560.1" font-size="41" textLength="1187.1" lengthAdjust="spacingAndGlyphs">Classification probability comparison at the neighborhood level</text>
<text x="507.3" y="1610.4" font-size="41" textLength="789.7" lengthAdjust="spacingAndGlyphs">across different pre-fractionation methods</text>
<text x="178.8" y="1657.9" font-size="29.9" textLength="301.6" lengthAdjust="spacingAndGlyphs">HiRIEF vs Long gradient</text>
<text x="235.8" y="1692.5" font-size="29.9" textLength="193.2" lengthAdjust="spacingAndGlyphs">(4566 proteins)</text>
<path d="M126.5 1749.7C147.2 1749.5 211.4 1748.9 250.7 1748.5C289.9 1748.1 337.1 1747.6 362.2 1747.3C387.3 1747.1 389.8 1747.2 401.3 1747C412.9 1746.8 421.4 1746.5 431.5 1746.1C441.5 1745.8 451.6 1745.4 461.6 1744.9C471.7 1744.4 484.2 1743.6 491.7 1743.1C499.3 1742.6 501.8 1742.5 506.8 1741.9C511.8 1741.4 516.9 1740.6 521.9 1739.8C526.9 1739 532.9 1738.2 536.9 1737.4C541 1736.5 543.5 1735.4 546 1734.7C548.5 1733.9 549.8 1733.4 552 1732.9C554.3 1732.3 557 1731.7 559.5 1731.4C562.1 1731 564.6 1730.8 567.1 1730.8C569.6 1730.8 572.1 1731 574.6 1731.4C577.1 1731.7 579.8 1732.1 582.1 1732.9C584.5 1733.6 587.7 1735.4 588.8 1735.9L588.8 1750L126.5 1750Z" fill="#ea2a2f" fill-opacity="0.5" stroke="#ea2a2f" stroke-opacity="0.75" stroke-width="1"/>
<path d="M126.5 1749.7C137.2 1749.4 169.7 1748.5 190.4 1747.9C211.1 1747.4 230.6 1746.6 250.7 1746.4C270.8 1746.2 290.8 1746.5 310.9 1746.7C331 1746.9 356.1 1747.4 371.2 1747.6C386.3 1747.8 391.3 1748 401.3 1747.9C411.4 1747.8 421.4 1747.4 431.5 1747C441.5 1746.6 451.6 1746 461.6 1745.5C471.7 1745 482.7 1744.7 491.7 1744C500.8 1743.4 508.3 1742.5 515.9 1741.6C523.4 1740.8 531.4 1739.5 536.9 1738.9C542.5 1738.2 545.5 1737.9 549 1737.7C552.5 1737.4 554.5 1737.4 558 1737.4C561.6 1737.4 566.1 1737.4 570.1 1737.7C574.1 1737.9 579 1738.4 582.1 1738.9C585.3 1739.3 587.7 1740.2 588.8 1740.4L588.8 1750L126.5 1750Z" fill="#3c54a4" fill-opacity="0.5" stroke="#3c54a4" stroke-opacity="0.75" stroke-width="1"/>
<path d="M126.5 1749.7C167.3 1749.7 320.4 1749.6 371.2 1749.4C422 1749.3 416.4 1749.1 431.5 1748.8C446.5 1748.6 451.6 1748.3 461.6 1747.9C471.7 1747.5 482.7 1747 491.7 1746.4C500.8 1745.8 508.3 1745.1 515.9 1744.3C523.4 1743.6 531.4 1742.8 536.9 1741.9C542.5 1741.1 545.5 1740.5 549 1739.2C552.5 1737.9 555.5 1736.4 558 1734.4C560.5 1732.3 562.3 1729.9 564.1 1726.8C565.8 1723.8 567.2 1720.6 568.6 1716.3C570 1712 571.2 1706.8 572.5 1701.2C573.8 1695.7 575 1688.3 576.1 1683.1C577.2 1678 578.2 1673.4 579.1 1670.5C580 1667.6 580.8 1665.7 581.5 1665.7C582.3 1665.7 582.9 1667.1 583.7 1670.5C584.4 1673.9 585.1 1681 585.8 1686.2C586.4 1691.3 587.1 1697.2 587.6 1701.2C588.1 1705.2 588.6 1708.8 588.8 1710.3L588.8 1750L126.5 1750Z" fill="#ffd600" fill-opacity="0.5" stroke="#ffd600" stroke-opacity="0.75" stroke-width="1"/>
<path d="M126.5 1749.1C129.6 1748.8 139.6 1747.7 145.2 1747C150.8 1746.3 155.2 1745.6 160.3 1744.9C165.3 1744.2 170.3 1743.6 175.3 1742.8C180.4 1742.1 185.9 1741.3 190.4 1740.4C194.9 1739.5 198.4 1738.6 202.5 1737.7C206.5 1736.8 211 1735.6 214.5 1735C218 1734.3 221 1734 223.5 1733.8C226.1 1733.5 227.1 1733.4 229.6 1733.5C232.1 1733.6 235.1 1734 238.6 1734.4C242.1 1734.8 246.2 1735.3 250.7 1735.9C255.2 1736.4 260.7 1737.2 265.7 1737.7C270.8 1738.2 275.8 1738.7 280.8 1738.9C285.8 1739.1 290.8 1738.8 295.9 1738.9C300.9 1738.9 306.4 1738.9 310.9 1739.2C315.5 1739.4 319 1740 323 1740.4C327 1740.9 331.5 1741.4 335 1741.9C338.6 1742.5 341.6 1743.2 344.1 1743.7C346.6 1744.2 347.1 1744.4 350.1 1744.9C353.1 1745.5 357.1 1746.4 362.2 1747C367.2 1747.6 373.7 1748.2 380.2 1748.5C386.8 1748.9 366.6 1748.9 401.3 1749.1C436.1 1749.3 557.5 1749.6 588.8 1749.7L588.8 1750L126.5 1750Z" fill="#5bbd7b" fill-opacity="0.5" stroke="#5bbd7b" stroke-opacity="0.75" stroke-width="1"/>
<path d="M616.7 1775.5C617.8 1775.4 621.1 1775.2 623.4 1775.2C625.7 1775.2 628.5 1774.1 630.7 1775.5C632.9 1776.8 634.9 1780.6 636.6 1783.4C638.3 1786.1 639.9 1789.5 641 1792.1C642 1794.8 642.6 1797 643 1799.4C643.4 1801.9 643.5 1803.1 643.3 1806.8C643.1 1810.4 642.5 1816 641.8 1821.4C641.2 1826.8 639.9 1833.1 639.5 1838.9C639.1 1844.8 639.3 1850.6 639.2 1856.5C639.1 1862.4 639.2 1868.7 638.9 1874.1C638.7 1879.4 638.1 1883.8 637.7 1888.7C637.4 1893.6 637.1 1898.4 636.6 1903.3C636.1 1908.2 635.3 1913.1 634.8 1917.9C634.3 1922.8 633.8 1927.7 633.6 1932.6C633.5 1937.4 633.8 1942.3 633.9 1947.2C634.1 1952.1 634.3 1956.5 634.5 1961.8C634.7 1967.2 635.2 1975 635.1 1979.4C635 1983.8 634.4 1985.7 633.9 1988.2C633.5 1990.6 633 1991.7 632.2 1994C631.4 1996.3 630.2 1999.5 629.3 2001.9C628.3 2004.3 627.4 2006.4 626.3 2008.6C625.3 2010.8 624.1 2013.1 623.1 2015.1C622.1 2017 621.2 2018.2 620.5 2020.3C619.7 2022.4 619.2 2025.2 618.7 2027.7C618.2 2030.1 617.9 2028.9 617.6 2035C617.2 2041.1 616.8 2059.3 616.7 2064.2L616.7 2064.2L616.7 1775.5Z" fill="#ea2a2f" fill-opacity="0.5" stroke="#ea2a2f" stroke-opacity="0.75" stroke-width="1"/>
<path d="M616.7 1775.5C616.9 1775.4 617.7 1775.1 618.1 1775.2C618.5 1775.2 618.7 1772.4 619 1775.8C619.4 1779.1 619.8 1788.4 620.2 1795.1C620.5 1801.7 620.8 1806.3 621.1 1815.5C621.4 1824.8 621.7 1838.5 621.9 1850.6C622.2 1862.8 622.6 1878.4 622.8 1888.7C623.1 1898.9 623.2 1904.8 623.4 1912.1C623.6 1919.4 623.8 1925.3 624 1932.6C624.1 1939.9 624.1 1948.7 624.3 1956C624.5 1963.3 624.5 1971.3 625.2 1976.5C625.8 1981.6 626.9 1983.8 628.1 1986.7C629.3 1989.6 630.5 1991.4 632.2 1994C633.8 1996.6 636.1 1999.5 638 2002.2C640 2004.9 642.3 2007.3 643.9 2010.1C645.4 2012.9 646.4 2015.7 647.4 2018.9C648.4 2022 649.2 2026.2 649.7 2029.1C650.3 2032 650.5 2034 650.6 2036.4C650.7 2038.9 650.6 2040.8 650.3 2043.7C650 2046.7 649.4 2050.6 648.9 2054C648.3 2057.4 647.6 2060.6 646.8 2064.2C646 2067.9 644.9 2072 643.9 2075.9C642.9 2079.8 641.9 2084 641 2087.6C640 2091.3 639 2094.5 638 2097.9C637.1 2101.3 636.1 2104.5 635.1 2108.1C634.1 2111.8 633.2 2115.9 632.2 2119.8C631.2 2123.7 630.2 2127.6 629.3 2131.5C628.3 2135.4 627.3 2139.3 626.3 2143.2C625.4 2147.1 624.3 2150.8 623.4 2154.9C622.5 2159.1 621.8 2163.7 621.1 2168.1C620.3 2172.5 619.7 2176.4 619 2181.3C618.3 2186.1 617.1 2194.7 616.7 2197.3L616.7 2197.3L616.7 1775.5Z" fill="#3c54a4" fill-opacity="0.5" stroke="#3c54a4" stroke-opacity="0.75" stroke-width="1"/>
<path d="M616.7 1775.5C619.7 1775.4 629.1 1775.2 635.1 1775.2C641.1 1775.1 647.3 1775.1 652.7 1775.2C658 1775.2 661.9 1774.9 667.3 1775.5C672.7 1776 679.5 1777.2 684.8 1778.4C690.2 1779.6 695.3 1781.3 699.5 1782.8C703.6 1784.2 709 1785.7 709.7 1787.2C710.4 1788.6 707.5 1789.7 703.9 1791.6C700.2 1793.4 692.9 1795.8 687.8 1798C682.7 1800.2 678 1802.3 673.1 1804.7C668.3 1807.2 662.2 1810.2 658.5 1812.6C654.9 1815 653.1 1817.1 651.2 1819.1C649.2 1821 648.3 1822.2 646.8 1824.3C645.3 1826.4 643.6 1829.2 642.4 1831.6C641.2 1834.1 640.5 1835.3 639.5 1838.9C638.5 1842.6 637.5 1848.7 636.6 1853.6C635.6 1858.5 634.6 1862.8 633.6 1868.2C632.7 1873.6 631.7 1879.9 630.7 1885.8C629.7 1891.6 628.7 1897.9 627.8 1903.3C626.9 1908.7 626.2 1913.1 625.5 1917.9C624.7 1922.8 624 1927.2 623.4 1932.6C622.8 1937.9 622.1 1945.2 621.7 1950.1C621.2 1955 620.9 1956.5 620.5 1961.8C620.1 1967.2 619.7 1975 619.3 1982.3C618.9 1989.6 618.5 1998.4 618.1 2005.7C617.8 2013 617.5 2018.9 617.3 2026.2C617 2033.5 616.8 2045.7 616.7 2049.6L616.7 2049.6L616.7 1775.5Z" fill="#ffd600" fill-opacity="0.5" stroke="#ffd600" stroke-opacity="0.75" stroke-width="1"/>
<path d="M616.7 1950.1C616.8 1953 617.1 1962.3 617.6 1967.7C618 1973 618.3 1978.2 619.3 1982.3C620.3 1986.5 621.7 1989.6 623.4 1992.5C625.1 1995.5 627.1 1997.6 629.3 1999.9C631.5 2002.2 634.1 2003.9 636.6 2006.3C639 2008.7 641.8 2010.9 643.9 2014.5C645.9 2018 647.4 2023.3 648.9 2027.7C650.3 2032 651.4 2036.4 652.7 2040.8C653.9 2045.2 655.2 2049.6 656.2 2054C657.1 2058.4 658.2 2063.9 658.5 2067.2C658.9 2070.4 658.5 2071.6 658.2 2073.6C658 2075.5 657.8 2076.5 657.1 2078.9C656.3 2081.2 654.8 2084.7 653.5 2087.6C652.3 2090.6 651.1 2093.5 649.7 2096.4C648.4 2099.3 646.8 2102.3 645.3 2105.2C643.9 2108.1 642.4 2110.5 641 2114C639.5 2117.4 638 2121.8 636.6 2125.7C635.1 2129.6 633.5 2133.5 632.2 2137.4C630.8 2141.3 629.6 2145.2 628.4 2149.1C627.2 2153 626 2156.9 624.9 2160.8C623.7 2164.7 622.6 2168.6 621.7 2172.5C620.7 2176.4 619.8 2180 619 2184.2C618.2 2188.3 617.1 2195.1 616.7 2197.3L616.7 2197.3L616.7 1950.1Z" fill="#5bbd7b" fill-opacity="0.5" stroke="#5bbd7b" stroke-opacity="0.75" stroke-width="1"/>
<path d="M286.5 1797.5h.01m0 12h-.01m4 64h.01m4 -76h-.01m11 149h.01m1 -132h-.01m2 3h.01m4 43h-.01m5 77h.01m2 -126h-.01m2 74h.01m3 45h-.01m0 -130h.01m1 23h-.01m1 41h.01m0 101h-.01m1 -78h.01m1 -100h-.01m5 118h.01m1 -72h-.01m0 62h.01m0 -92h-.01m1 -18h.01m1 107h-.01m1 50h.01m4 -23h-.01m0 69h.01m1 -108h-.01m0 -75h.01m2 -6h-.01m0 121h.01m1 -70h-.01m1 -1h.01m2 -46h-.01m2 141h.01m0 -55h-.01m3 -62h.01m0 99h-.01m0 -89h.01m2 90h-.01m0 50h.01m3 -129h-.01m1 21h.01m2 -92h-.01m2 159h.01m1 -100h-.01m0 138h.01m1 -79h-.01m0 86h.01m1 -85h-.01m0 -12h.01m0 -94h-.01m0 41h.01m0 114h-.01m1 41h.01m0 -140h-.01m1 78h.01m0 -136h-.01m1 12h.01m1 55h-.01m1 -45h.01m0 20h-.01m1 120h.01m0 -169h-.01m2 162h.01m0 -112h-.01m2 24h.01m0 -54h-.01m2 84h.01m0 21h-.01m1 -30h.01m0 -8h-.01m2 2h.01m0 54h-.01m0 -133h.01m2 15h-.01m0 115h.01m0 40h-.01m2 -172h.01m1 119h-.01m0 62h.01m0 -47h-.01m0 -14h.01m3 -106h-.01m3 -10h.01m0 101h-.01m0 24h.01m2 -75h-.01m0 -52h.01m0 91h-.01m2 90h.01m0 -119h-.01m1 -36h.01m1 31h-.01m0 -64h.01m1 126h-.01m1 34h.01m0 -148h-.01m1 7h.01m0 -23h-.01m4 112h.01m0 -77h-.01m2 -25h.01m2 11h-.01m0 152h.01m0 -8h-.01m1 -149h.01m0 35h-.01m0 31h.01m0 -85h-.01m1 17h.01m0 125h-.01m1 73h.01m0 -158h-.01m0 127h.01m1 -146h-.01m2 10h.01m0 -17h-.01m0 179h.01m0 -164h-.01m1 142h.01m0 24h-.01m0 -83h.01m1 -47h-.01m1 -13h.01m0 93h-.01m1 -103h.01m0 2h-.01m0 -58h.01m1 191h-.01m1 -192h.01m1 16h-.01m0 55h.01m1 135h-.01m1 -136h.01m0 -21h-.01m1 -44h.01m1 25h-.01m0 56h.01m0 -74h-.01m1 130h.01m1 -137h-.01m0 2h.01m0 106h-.01m0 60h.01m1 -169h-.01m1 3h.01m0 93h-.01m1 -58h.01m0 85h-.01m1 -94h.01m0 11h-.01m1 139h.01m1 -135h-.01m1 100h.01m1 53h-.01m0 -38h.01m0 -150h-.01m0 23h.01m1 95h-.01m0 -98h.01m0 -6h-.01m1 -6h.01m1 49h-.01m0 72h.01m0 -4h-.01m1 34h.01m1 -169h-.01m0 194h.01m1 -196h-.01m1 19h.01m0 8h-.01m1 155h.01m0 -100h-.01m0 -72h.01m1 -12h-.01m0 172h.01m1 -156h-.01m1 57h.01m0 28h-.01m0 -74h.01m0 97h-.01m1 -117h.01m0 52h-.01m1 -6h.01m1 25h-.01m1 -67h.01m0 3h-.01m0 90h.01m0 1h-.01m0 118h.01m1 -165h-.01m0 51h.01m1 -105h-.01m1 89h.01m0 58h-.01m0 -92h.01m0 23h-.01m1 -13h.01m0 -56h-.01m1 135h.01m0 -120h-.01m0 -6h.01m0 61h-.01m1 -17h.01m0 -33h-.01m1 -27h.01m0 65h-.01m0 6h.01m1 128h-.01m0 -72h.01m0 -19h-.01m1 48h.01m0 15h-.01m0 -47h.01m1 -62h-.01m0 144h.01m0 -186h-.01m1 188h.01m0 -95h-.01m0 -76h.01m0 -35h-.01m0 155h.01m0 -164h-.01m0 38h.01m1 38h-.01m0 -6h.01m1 81h-.01m0 -47h.01m2 -86h-.01m1 60h.01m0 5h-.01m1 -59h.01m0 64h-.01m2 59h.01m0 -147h-.01m0 145h.01m0 -42h-.01m1 -91h.01m0 96h-.01m0 60h.01m1 -113h-.01m0 107h.01m0 -91h-.01m0 101h.01m1 -49h-.01m0 -67h.01m1 25h-.01m1 -60h.01m0 -17h-.01m0 58h.01m0 -18h-.01m1 -34h.01m0 1h-.01m0 -7h.01m0 78h-.01m0 25h.01m1 46h-.01m0 39h.01m0 -127h-.01m0 20h.01m0 -84h-.01m0 7h.01m0 73h-.01m0 77h.01m0 -151h-.01m1 126h.01m0 -37h-.01m0 -16h.01m0 134h-.01m0 -174h.01m1 -14h-.01m0 46h.01m0 112h-.01m0 -44h.01m2 -82h-.01m0 -53h.01m0 4h-.01m1 176h.01m0 -86h-.01m1 -63h.01m0 -22h-.01m0 71h.01m0 128h-.01m0 -137h.01m0 60h-.01m0 -126h.01m0 89h-.01m0 -58h.01m0 105h-.01m0 -140h.01m1 63h-.01m0 -35h.01m0 46h-.01m0 98h.01m0 -145h-.01m0 -4h.01m0 9h-.01m0 -19h.01m1 69h-.01m0 113h.01m0 -179h-.01m0 8h.01m1 6h-.01m0 101h.01m1 -54h-.01m0 -42h.01m0 56h-.01m0 -73h.01m1 -10h-.01m0 188h.01m0 -122h-.01m0 -16h.01m0 -7h-.01m0 -12h.01m0 135h-.01m0 -19h.01m1 -99h-.01m0 -33h.01m0 26h-.01m1 117h.01m0 -72h-.01m0 -85h.01m0 42h-.01m0 -18h.01m0 19h-.01m0 159h.01m0 -100h-.01m1 -62h.01m0 -28h-.01m0 1h.01m0 38h-.01m1 16h.01m0 -75h-.01m0 23h.01m0 49h-.01m1 29h.01m0 -89h-.01m1 16h.01m0 60h-.01m0 85h.01m1 -151h-.01m0 16h.01m0 15h-.01m0 -56h.01m0 16h-.01m0 89h.01m0 19h-.01m0 -123h.01m1 3h-.01m0 118h.01m0 10h-.01m0 -87h.01m0 -30h-.01m0 12h.01m0 37h-.01m0 20h.01m0 -85h-.01m0 112h.01m0 -69h-.01m1 20h.01m0 4h-.01m0 101h.01m0 -152h-.01m0 98h.01m0 -3h-.01m1 10h.01m0 -122h-.01m0 28h.01m1 103h-.01m0 -30h.01m0 86h-.01m0 -182h.01m0 36h-.01m0 -24h.01m0 112h-.01m0 62h.01m0 -130h-.01m0 4h.01m0 53h-.01m0 -23h.01m0 -21h-.01m0 -18h.01m0 78h-.01m1 -32h.01m1 -63h-.01m0 28h.01m0 86h-.01m1 -31h.01m0 79h-.01m0 -177h.01m0 -26h-.01m0 178h.01m0 -151h-.01m0 6h.01m1 22h-.01m0 -54h.01m0 130h-.01m0 -33h.01m0 47h-.01m0 -94h.01m0 -12h-.01m0 105h.01m0 -24h-.01m0 -103h.01m1 7h-.01m0 3h.01m0 60h-.01m0 -64h.01m0 12h-.01m1 6h.01m0 63h-.01m0 -100h.01m0 105h-.01m0 -39h.01m0 -65h-.01m1 72h.01m0 -35h-.01m0 -31h.01m0 134h-.01m0 -43h.01m0 -56h-.01m0 47h.01m1 -8h-.01m0 -62h.01m0 128h-.01m0 -57h.01m0 -79h-.01m0 170h.01m0 -173h-.01m0 117h.01m0 -69h-.01m0 41h.01m1 -67h-.01m0 46h.01m0 5h-.01m0 -55h.01m0 -7h-.01m0 1h.01m0 99h-.01m0 -25h.01m1 -92h-.01m0 84h.01m0 -66h-.01m0 115h.01m1 -83h-.01m0 -14h.01m0 99h-.01m0 -103h.01m0 46h-.01m0 -25h.01m1 42h-.01m0 -68h.01m0 -13h-.01m0 56h.01m0 24h-.01m0 -89h.01m0 107h-.01m0 -92h.01m0 12h-.01m1 28h.01m0 81h-.01m0 -131h.01m0 36h-.01m0 59h.01m0 -14h-.01m0 -23h.01m0 45h-.01m0 -59h.01m1 96h-.01m0 -97h.01m0 -24h-.01m0 7h.01m0 -14h-.01m0 102h.01m0 -115h-.01m0 -7h.01m0 50h-.01m0 6h.01m0 -52h-.01m1 47h.01m0 148h-.01m0 -110h.01m0 38h-.01m0 -70h.01m1 -30h-.01m0 -11h.01m0 -21h-.01m0 40h.01m0 108h-.01m0 -110h.01m0 -18h-.01m0 32h.01m0 -2h-.01m0 -38h.01m0 -9h-.01m0 12h.01m0 12h-.01m1 11h.01m0 83h-.01m0 -102h.01m0 68h-.01m0 -51h.01m0 31h-.01m0 93h.01m0 -100h-.01m0 -60h.01m1 -2h-.01m0 52h.01m0 99h-.01m0 -117h.01m0 105h-.01m0 67h.01m0 -144h-.01m0 128h.01m0 -189h-.01m0 49h.01m0 -9h-.01m0 116h.01m0 -17h-.01m1 -39h.01m0 13h-.01m0 -76h.01m0 40h-.01m0 -35h.01m0 64h-.01m0 4h.01m0 -47h-.01m0 7h.01m0 98h-.01m0 -151h.01m1 144h-.01m0 -40h.01m0 -39h-.01m0 -68h.01m0 11h-.01m0 3h.01m0 40h-.01m0 -51h.01m1 5h-.01m0 21h.01m0 67h-.01m0 -58h.01m0 -16h-.01m0 -22h.01m0 -9h-.01m0 55h.01m0 63h-.01m0 -106h.01m1 25h-.01m0 13h.01m0 50h-.01m0 -7h.01m0 -37h-.01m0 22h.01m0 -83h-.01m0 36h.01m0 2h-.01m0 63h.01m1 7h-.01m0 -46h.01m0 -49h-.01m0 64h.01m0 -61h-.01m0 90h.01m0 -97h-.01m0 -10h.01m0 35h-.01m0 32h.01m0 26h-.01m0 -70h.01m1 -14h-.01m0 93h.01m0 -82h-.01m0 -21h.01m0 53h-.01m0 -20h.01m0 52h-.01m0 -78h.01m0 18h-.01m0 -5h.01m1 84h-.01m0 -9h.01m0 -33h-.01m0 -19h.01m0 16h-.01m0 76h.01m0 -11h-.01m0 -124h.01m0 31h-.01m0 113h.01m1 -46h-.01m0 35h.01m0 -15h-.01m0 -95h.01m0 81h-.01m0 100h.01m0 -156h-.01m0 -8h.01m0 121h-.01m0 -87h.01m0 13h-.01m0 21h.01m0 -33h-.01m0 78h.01m0 1h-.01m0 29h.01m0 -181h-.01m0 28h.01m0 115h-.01m1 -67h.01m0 17h-.01m0 32h.01m0 14h-.01m0 21h.01m0 8h-.01m0 -156h.01m0 42h-.01m0 135h.01m0 -130h-.01m0 9h.01m0 14h-.01m0 89h.01m1 -135h-.01m0 91h.01m0 -122h-.01m0 165h.01m0 -160h-.01m0 43h.01m0 82h-.01m0 -35h.01m0 -71h-.01m1 137h.01m0 39h-.01m0 -203h.01m0 64h-.01m0 19h.01m0 -79h-.01m0 138h.01m0 -145h-.01m0 112h.01m0 -61h-.01m0 -16h.01m0 27h-.01m0 17h.01m0 -74h-.01m0 61h.01m1 129h-.01m0 12h.01m0 -176h-.01m0 -21h.01m0 48h-.01m0 -51h.01m0 135h-.01m0 3h.01m0 -101h-.01m0 -46h.01m1 49h-.01m0 -12h.01m0 57h-.01m0 47h.01m0 -24h-.01m0 -109h.01m0 -6h-.01m0 87h.01m0 22h-.01m0 -81h.01m0 93h-.01m0 -28h.01m0 -73h-.01m1 -3h.01m0 161h-.01m0 -89h.01m0 -33h-.01m0 57h.01m0 -1h-.01m0 2h.01m0 -79h-.01m0 -6h.01m0 25h-.01m0 -42h.01m0 97h-.01m0 -106h.01m1 54h-.01m0 -42h.01m0 18h-.01m0 75h.01m0 -45h-.01m0 -47h.01m0 -16h-.01m0 32h.01m0 -21h-.01m0 79h.01m0 33h-.01m0 -70h.01m1 12h-.01m0 -51h.01m0 180h-.01m0 -152h.01m0 39h-.01m0 38h.01m0 5h-.01m0 -89h.01m0 48h-.01m0 77h.01m0 -60h-.01m0 13h.01m0 -97h-.01m0 -11h.01m0 120h-.01m1 12h.01m0 -35h-.01m0 -39h.01m0 61h-.01m0 -126h.01m0 30h-.01m0 92h.01m0 -38h-.01m0 -82h.01m0 32h-.01m0 122h.01m0 -28h-.01m0 -102h.01m1 54h-.01m0 3h.01m0 89h-.01m0 20h.01m0 -189h-.01m0 65h.01m0 -29h-.01m0 -6h.01m0 62h-.01m0 34h.01m0 -119h-.01m0 44h.01m0 -30h-.01m0 82h.01m0 71h-.01m0 36h.01m0 -192h-.01m0 -9h.01m0 91h-.01m0 63h.01m0 -20h-.01m1 -136h.01m0 44h-.01m0 -8h.01m0 32h-.01m0 -63h.01m0 71h-.01m0 -10h.01m0 -58h-.01m0 150h.01m0 46h-.01m0 -152h.01m0 101h-.01m0 -99h.01m0 -43h-.01m0 26h.01m1 -44h-.01m0 100h.01m0 -60h-.01m0 25h.01m0 9h-.01m0 -41h.01m0 54h-.01m0 9h.01m0 -30h-.01m0 153h.01m0 -194h-.01m0 5h.01m0 22h-.01m0 -53h.01m0 118h-.01m0 -31h.01m0 -73h-.01m0 125h.01m0 -8h-.01m0 -95h.01m0 68h-.01m0 -5h.01m0 -18h-.01m1 29h.01m0 -105h-.01m0 37h.01m0 -22h-.01m0 40h.01m0 103h-.01m0 -13h.01m0 -42h-.01m0 -101h.01m0 147h-.01m0 -17h.01m0 -109h-.01m0 53h.01m0 -59h-.01m0 84h.01m0 43h-.01m0 -57h.01m0 3h-.01m0 -47h.01m1 82h-.01m0 -57h.01m0 102h-.01m0 -162h.01m0 134h-.01m0 -39h.01m0 -101h-.01m0 43h.01m0 4h-.01m0 107h.01m0 -115h-.01m0 111h.01m0 -91h-.01m1 33h.01m0 107h-.01m0 -98h.01m0 -77h-.01m0 54h.01m0 -28h-.01m0 -29h.01m0 20h-.01m0 32h.01m0 101h-.01m0 -121h.01m0 27h-.01m0 44h.01m0 18h-.01m0 -106h.01m0 -37h-.01m0 18h.01m0 99h-.01m0 37h.01m0 -151h-.01m0 136h.01m0 -50h-.01m0 -55h.01m0 -20h-.01m0 -18h.01m1 170h-.01m0 -153h.01m0 101h-.01m0 -34h.01m0 49h-.01m0 -109h.01m0 -11h-.01m0 7h.01m0 126h-.01m0 -118h.01m0 132h-.01m0 -70h.01m0 32h-.01m0 1h.01m0 56h-.01m0 -106h.01m0 63h-.01m0 -99h.01m0 57h-.01m1 -43h.01m0 5h-.01m0 -16h.01m0 55h-.01m0 51h.01m0 -136h-.01m0 79h.01m0 55h-.01m0 -142h.01m0 139h-.01m0 -122h.01m0 53h-.01m0 -2h.01m0 -36h-.01m0 9h.01m0 82h-.01m0 -110h.01m0 45h-.01m0 -28h.01m0 110h-.01m0 -61h.01m0 13h-.01m0 -16h.01m0 102h-.01m0 -145h.01m1 31h-.01m0 -25h.01m0 50h-.01m0 -40h.01m0 -8h-.01m0 11h.01m0 -22h-.01m0 28h.01m0 43h-.01m0 -55h.01m0 100h-.01m0 -128h.01m0 22h-.01m0 -43h.01m0 154h-.01m0 -89h.01m0 127h-.01m0 -58h.01m1 -2h-.01m0 -126h.01m0 58h-.01m0 26h.01m0 17h-.01m0 -107h.01m0 82h-.01m0 -78h.01m0 31h-.01m0 -6h.01m0 -12h-.01m0 100h.01m0 -25h-.01m0 -7h.01m0 -34h-.01m0 15h.01m1 -29h-.01m0 8h.01m0 23h-.01m0 -27h.01m0 -33h-.01m0 3h.01m0 32h-.01m0 -3h.01m0 40h-.01m0 47h.01m0 68h-.01m0 -190h.01m0 112h-.01m0 -111h.01m0 158h-.01m1 -79h.01m0 52h-.01m0 -37h.01m0 52h-.01m0 -91h.01m0 41h-.01m0 17h.01m0 -59h-.01m0 -7h.01m0 87h-.01m0 2h.01m0 -139h-.01m0 96h.01m0 71h-.01m0 -140h.01m0 136h-.01m0 -147h.01m1 180h-.01m0 -55h.01m0 -15h-.01m0 -15h.01m0 -7h-.01m0 83h.01m0 -133h-.01m0 -24h.01m0 -35h-.01m0 108h.01m0 -36h-.01m0 -67h.01m0 145h-.01m0 -24h.01m0 -56h-.01m0 51h.01m0 -69h-.01m0 -32h.01m0 11h-.01m1 17h.01m0 170h-.01m0 -166h.01m0 -5h-.01m0 77h.01m0 -114h-.01m0 103h.01m0 104h-.01m0 -130h.01m0 67h-.01m0 -63h.01m0 9h-.01m0 75h.01m0 -90h-.01m0 -25h.01m1 21h-.01m0 -14h.01m0 15h-.01m0 -72h.01m0 187h-.01m0 -174h.01m0 131h-.01m0 -93h.01m0 -10h-.01m0 77h.01m0 -27h-.01m0 -80h.01m0 106h-.01m0 61h.01m0 -186h-.01m0 16h.01m0 118h-.01m0 9h.01m0 -83h-.01m0 71h.01m0 -81h-.01m0 -27h.01m0 39h-.01m0 -20h.01m0 76h-.01m0 -65h.01m1 -19h-.01m0 86h.01m0 63h-.01m0 -153h.01m0 97h-.01m0 -96h.01m0 139h-.01m0 -102h.01m0 1h-.01m0 3h.01m0 52h-.01m0 -116h.01m0 63h-.01m0 -26h.01m0 18h-.01m0 -21h.01m0 -22h-.01m0 66h.01m0 -12h-.01m0 15h.01m0 122h-.01m0 -198h.01m0 173h-.01m0 -133h.01m0 90h-.01m0 -91h.01m1 65h-.01m0 73h.01m0 -42h-.01m0 58h.01m0 -205h-.01m0 90h.01m0 1h-.01m0 38h.01m0 -36h-.01m0 15h.01m0 -109h-.01m0 90h.01m0 70h-.01m0 -13h.01m0 -21h-.01m0 73h.01m0 -99h-.01m0 -92h.01m0 151h-.01m0 -148h.01m0 101h-.01m0 -88h.01m0 111h-.01m0 -115h.01m1 52h-.01m0 8h.01m0 -83h-.01m0 81h.01m0 -63h-.01m0 24h.01m0 127h-.01m0 -70h.01m0 -98h-.01m0 58h.01m0 112h-.01m0 -1h.01m0 -24h-.01m0 -32h.01m0 -112h-.01m0 182h.01m0 -68h-.01m0 -82h.01m0 4h-.01m0 13h.01m0 -12h-.01m0 94h.01m0 -9h-.01m0 -87h.01m0 91h-.01m1 -75h.01m0 -22h-.01m0 8h.01m0 67h-.01m0 49h.01m0 49h-.01m0 -94h.01m0 1h-.01m0 -59h.01m0 -27h-.01m0 -10h.01m0 82h-.01m0 40h.01m0 -34h-.01m0 -57h.01m0 -33h-.01m0 135h.01m0 -65h-.01m0 -63h.01m0 42h-.01m0 33h.01m0 -51h-.01m0 76h.01m0 6h-.01m0 -11h.01m1 -79h-.01m0 46h.01m0 -19h-.01m0 38h.01m0 -47h-.01m0 -44h.01m0 161h-.01m0 -138h.01m0 60h-.01m0 -56h.01m0 122h-.01m0 -56h.01m0 88h-.01m0 -92h.01m0 -76h-.01m0 128h.01m0 -112h-.01m0 -36h.01m0 32h-.01m0 133h.01m0 -146h-.01m0 7h.01m0 111h-.01m0 -115h.01m0 64h-.01m0 46h.01m0 12h-.01m0 -9h.01m0 -44h-.01m1 -42h.01m0 3h-.01m0 -6h.01m0 37h-.01m0 -3h.01m0 95h-.01m0 -4h.01m0 -16h-.01m0 -67h.01m0 -73h-.01m0 15h.01m0 63h-.01m0 60h.01m0 -150h-.01m0 132h.01m0 -71h-.01m0 23h.01m0 -17h-.01m0 -17h.01m0 73h-.01m0 32h.01m0 -160h-.01m0 43h.01m1 61h-.01m0 -1h.01m0 -74h-.01m0 160h.01m0 -177h-.01m0 66h.01m0 5h-.01m0 127h.01m0 -193h-.01m0 -17h.01m0 52h-.01m0 -39h.01m0 23h-.01m0 132h.01m0 -117h-.01m0 103h.01m0 -26h-.01m0 -16h.01m0 -52h-.01m0 133h.01m0 -73h-.01m0 14h.01m0 -108h-.01m0 152h.01m0 -147h-.01m0 -26h.01m0 138h-.01m0 -74h.01m0 13h-.01m0 -11h.01m0 102h-.01m0 -143h.01m1 -30h-.01m0 130h.01m0 -97h-.01m0 7h.01m0 98h-.01m0 -123h.01m0 157h-.01m0 -72h.01m0 116h-.01m0 -125h.01m0 -7h-.01m0 9h.01m0 -45h-.01m0 57h.01m0 -35h-.01m0 53h.01m0 -84h-.01m0 74h.01m0 -86h-.01m0 115h.01m0 -119h-.01m0 7h.01m0 158h-.01m0 -92h.01m1 50h-.01m0 -93h.01m0 -33h-.01m0 -14h.01m0 12h-.01m0 70h.01m0 -15h-.01m0 30h.01m0 65h-.01m0 -13h.01m0 -151h-.01m0 47h.01m0 19h-.01m0 114h.01m0 -143h-.01m0 1h.01m0 -2h-.01m0 108h.01m0 -140h-.01m0 68h.01m0 -45h-.01m0 16h.01m0 -17h-.01m0 -30h.01m0 28h-.01m0 -27h.01m0 89h-.01m0 -32h.01m1 -32h-.01m0 100h.01m0 65h-.01m0 -42h.01m0 -61h-.01m0 -33h.01m0 -3h-.01m0 -34h.01m0 45h-.01m0 74h.01m0 -5h-.01m0 -121h.01m0 169h-.01m0 -44h.01m0 -83h-.01m0 30h.01m0 -69h-.01m0 -1h.01m0 28h-.01m0 18h.01m0 102h-.01m0 -142h.01m0 126h-.01m0 -29h.01m0 2h-.01m0 25h.01m0 -82h-.01m0 105h.01m0 -59h-.01m0 92h.01m0 -190h-.01m0 41h.01m0 4h-.01m1 74h.01m0 -18h-.01m0 6h.01m0 -95h-.01m0 185h.01m0 -150h-.01m0 -17h.01m0 43h-.01m0 62h.01m0 -127h-.01m0 109h.01m0 -56h-.01m0 51h.01m0 -41h-.01m0 -3h.01m0 -15h-.01m0 -8h.01m0 81h-.01m0 -12h.01m0 -33h-.01m0 -87h.01m0 97h-.01m0 27h.01m0 -127h-.01m0 79h.01m0 23h-.01m0 -18h.01m0 70h-.01m0 -15h.01m0 -68h-.01m0 43h.01m0 -105h-.01m0 60h.01m0 92h-.01m0 -74h.01m0 73h-.01m0 -126h.01m0 163h-.01m0 -138h.01m0 66h-.01m0 16h.01m0 21h-.01m0 -148h.01m1 22h-.01m0 -37h.01m0 165h-.01m0 -155h.01m0 80h-.01m0 10h.01m0 39h-.01m0 -19h.01m0 -107h-.01m0 101h.01m0 -103h-.01m0 147h.01m0 -86h-.01m0 17h.01m0 -70h-.01m0 167h.01m0 -73h-.01m0 59h.01m0 -118h-.01m0 -10h.01m0 41h-.01m1 -2h.01m0 -18h-.01m0 80h.01m0 -144h-.01m0 153h.01m0 -8h-.01m0 -76h.01m0 -21h-.01m0 -34h.01m0 128h-.01m0 -141h.01m0 159h-.01m0 -147h.01m0 115h-.01m0 -29h.01m0 -72h-.01m0 4h.01m0 4h-.01m0 63h.01m0 -2h-.01m0 38h.01m0 22h-.01m0 -45h.01m0 -5h-.01m0 -41h.01m0 78h-.01m0 -14h.01m0 -90h-.01m0 78h.01m0 -72h-.01m0 60h.01m0 -76h-.01m0 125h.01m0 -118h-.01m0 15h.01m0 96h-.01m0 -141h.01m0 26h-.01m1 97h.01m0 15h-.01m0 17h.01m0 -36h-.01m0 -61h.01m0 25h-.01m0 60h.01m0 -124h-.01m0 -14h.01m0 87h-.01m0 79h.01m0 -92h-.01m0 22h.01m0 20h-.01m0 -31h.01m0 -54h-.01m0 72h.01m0 49h-.01m0 -148h.01m0 13h-.01m0 96h.01m0 -1h-.01m0 -123h.01m0 166h-.01m0 -51h.01m0 5h-.01m0 -75h.01m0 150h-.01m0 -165h.01m0 10h-.01m0 144h.01m0 -143h-.01m0 147h.01m0 -185h-.01m0 52h.01m0 78h-.01m0 -120h.01m0 -5h-.01m0 73h.01m0 65h-.01m1 -146h.01m0 194h-.01m0 -80h.01m0 -108h-.01m0 159h.01m0 55h-.01m0 -90h.01m0 -101h-.01m0 54h.01m0 -44h-.01m0 148h.01m0 -174h-.01m0 45h.01m0 -48h-.01m0 87h.01m0 19h-.01m0 -85h.01m0 95h-.01m0 -125h.01m0 47h-.01m0 -40h.01m0 105h-.01m0 60h.01m0 -79h-.01m0 -48h.01m0 66h-.01m0 70h.01m0 -139h-.01m0 -7h.01m0 32h-.01m0 -51h.01m0 127h-.01m0 14h.01m0 -17h-.01m0 -127h.01m0 37h-.01m0 81h.01m1 -37h-.01m0 -76h.01m0 50h-.01m0 75h.01m0 -119h-.01m0 37h.01m0 126h-.01m0 -52h.01m0 -8h-.01m0 35h.01m0 -97h-.01m0 41h.01m0 -14h-.01m0 -45h.01m0 143h-.01m0 30h.01m0 -66h-.01m0 21h.01m0 -161h-.01m0 94h.01m0 76h-.01m0 -165h.01m0 205h-.01m0 -41h.01m0 -163h-.01m0 117h.01m0 -19h-.01m0 -55h.01m0 84h-.01m0 -38h.01m0 -13h-.01m0 55h.01m0 -64h-.01m0 107h.01m0 -95h-.01m0 -51h.01m0 26h-.01m0 -43h.01m0 -2h-.01m0 73h.01m0 -97h-.01m0 80h.01m1 -43h-.01m0 112h.01m0 -95h-.01m0 28h.01m0 -85h-.01m0 190h.01m0 -116h-.01m0 52h.01m0 -39h-.01m0 122h.01m0 -74h-.01m0 -130h.01m0 213h-.01m0 -65h.01m0 -57h-.01m0 -15h.01m0 11h-.01m0 -90h.01m0 7h-.01m0 106h.01m0 51h-.01m0 -60h.01m0 -56h-.01m0 51h.01m0 11h-.01m0 -5h.01m0 -52h-.01m0 -24h.01m0 153h-.01m0 -89h.01m0 77h-.01m0 -171h.01m0 40h-.01m0 79h.01m0 -51h-.01m0 112h.01m0 -5h-.01m0 -8h.01m1 -143h-.01m0 33h.01m0 50h-.01m0 -55h.01m0 56h-.01m0 -25h.01m0 -80h-.01m0 26h.01m0 165h-.01m0 -129h.01m0 142h-.01m0 -65h.01m0 -72h-.01m0 130h.01m0 -63h-.01m0 -86h.01m0 155h-.01m0 -46h.01m0 -78h-.01m0 -45h.01m0 39h-.01m0 -16h.01m0 -52h-.01m0 86h.01m0 -38h-.01m0 58h.01m0 -18h-.01m0 -97h.01m0 48h-.01m0 45h.01m0 59h-.01m0 -33h.01m0 77h-.01m0 -51h.01m0 -55h-.01m0 32h.01m0 -123h-.01m0 69h.01m0 102h-.01m0 3h.01m0 -155h-.01m0 160h.01m0 -72h-.01m1 54h.01m0 51h-.01m0 -209h.01m0 115h-.01m0 103h.01m0 -66h-.01m0 -150h.01m0 166h-.01m0 -159h.01m0 154h-.01m0 42h.01m0 -21h-.01m0 -127h.01m0 138h-.01m0 -29h.01m0 11h-.01m0 -40h.01m0 -88h-.01m0 6h.01m0 -59h-.01m0 211h.01m0 -124h-.01m0 -56h.01m0 12h-.01m0 43h.01m0 2h-.01m0 -89h.01m0 208h-.01m0 -140h.01m0 -11h-.01m0 49h.01m0 -93h-.01m0 26h.01m0 57h-.01m1 125h.01m0 -170h-.01m0 83h.01m0 -49h-.01m0 -9h.01m0 93h-.01m0 -7h.01m0 -108h-.01m0 1h.01m0 -13h-.01m0 41h.01m0 -18h-.01m0 4h.01m0 -3h-.01m0 -65h.01m0 94h-.01m0 -15h.01m0 4h-.01m0 5h.01m0 -73h-.01m0 114h.01m0 -83h-.01m0 21h.01m0 -65h-.01m0 67h.01m0 80h-.01m0 -127h.01m0 164h-.01m0 2h.01m0 -101h-.01m0 49h.01m0 27h-.01m0 -115h.01m0 90h-.01m0 35h.01m0 -36h-.01m0 9h.01m0 -14h-.01m0 -88h.01m0 66h-.01m0 -77h.01m0 150h-.01m0 -178h.01m0 107h-.01m0 7h.01m0 -68h-.01m0 73h.01m0 -123h-.01m0 26h.01m0 58h-.01m1 13h.01m0 40h-.01m0 -35h.01m0 96h-.01m0 -95h.01m0 -16h-.01m0 -75h.01m0 73h-.01m0 85h.01m0 -25h-.01m0 -37h.01m0 -93h-.01m0 105h.01m0 -44h-.01m0 29h.01m0 -22h-.01m0 -51h.01m0 35h-.01m0 143h.01m0 -173h-.01m0 131h.01m0 -79h-.01m0 64h.01m0 49h-.01m0 -79h.01m0 72h-.01m0 -195h.01m0 200h-.01m0 -24h.01m0 -147h-.01m0 34h.01m0 85h-.01m0 -92h.01m0 -16h-.01m0 82h.01m0 -3h-.01m0 -71h.01m0 18h-.01m0 -2h.01m0 80h-.01m0 29h.01m0 -74h-.01m0 -56h.01m0 17h-.01m0 -51h.01m1 123h-.01m0 10h.01m0 -111h-.01m0 174h.01m0 -95h-.01m0 -35h.01m0 -16h-.01m0 -49h.01m0 120h-.01m0 -66h.01m0 -60h-.01m0 171h.01m0 -71h-.01m0 74h.01m0 -155h-.01m0 26h.01m0 161h-.01m0 -48h.01m0 54h-.01m0 -127h.01m0 -61h-.01m0 125h.01m0 13h-.01m0 -105h.01m0 -40h-.01m0 59h.01m0 41h-.01m0 -25h.01m0 12h-.01m0 -82h.01m0 47h-.01m0 20h.01m0 9h-.01m0 83h.01m0 -109h-.01m0 -10h.01m0 -11h-.01m0 122h.01m0 -121h-.01m0 68h.01m0 78h-.01m0 -163h.01m0 133h-.01m0 -101h.01m0 -36h-.01m1 152h.01m0 -44h-.01m0 -137h.01m0 -3h-.01m0 182h.01m0 -85h-.01m0 -77h.01m0 181h-.01m0 -51h.01m0 -5h-.01m0 -18h.01m0 -85h-.01m0 49h.01m0 25h-.01m0 -15h.01m0 -106h-.01m0 85h.01m0 31h-.01m0 -61h.01m0 46h-.01m0 56h.01m0 -126h-.01m0 7h.01m0 29h-.01m0 72h.01m0 -40h-.01m0 48h.01m0 7h-.01m0 -144h.01m0 40h-.01m0 -30h.01m0 77h-.01m0 -45h.01m0 92h-.01m0 -52h.01m0 -48h-.01m0 117h.01m0 -138h-.01m0 162h.01m0 -106h-.01m0 -40h.01m1 14h-.01m0 -3h.01m0 12h-.01m0 34h.01m0 -68h-.01m0 -18h.01m0 49h-.01m0 30h.01m0 31h-.01m0 10h.01m0 34h-.01m0 -32h.01m0 -33h-.01m0 -55h.01m0 56h-.01m0 -88h.01m0 -5h-.01m0 75h.01m0 -33h-.01m0 -27h.01m0 140h-.01m0 -40h.01m0 78h-.01m0 -58h.01m0 -15h-.01m0 25h.01m0 -16h-.01m0 -52h.01m0 129h-.01m0 -46h.01m0 -143h-.01m0 121h.01m0 -44h-.01m0 90h.01m0 -54h-.01m0 -119h.01m0 164h-.01m0 -87h.01m0 18h-.01m0 -61h.01m0 81h-.01m0 -110h.01m0 -7h-.01m0 63h.01m0 25h-.01m0 -84h.01m0 119h-.01m0 -15h.01m0 49h-.01m0 -19h.01m0 -43h-.01m0 69h.01m0 -19h-.01m1 -69h.01m0 -58h-.01m0 126h.01m0 41h-.01m0 -57h.01m0 -28h-.01m0 16h.01m0 -51h-.01m0 49h.01m0 -93h-.01m0 22h.01m0 29h-.01m0 -59h.01m0 -4h-.01m0 17h.01m0 125h-.01m0 -85h.01m0 17h-.01m0 28h.01m0 15h-.01m0 54h.01m0 -56h-.01m0 -66h.01m0 -66h-.01m0 208h.01m0 -185h-.01m0 97h.01m0 -92h-.01m0 -31h.01m0 178h-.01m0 28h.01m0 -88h-.01m0 77h.01m0 -145h-.01m0 129h.01m0 -65h-.01m0 58h.01m0 -70h-.01m0 -1h.01m0 108h-.01m0 -8h.01m0 -75h-.01m0 -13h.01m0 33h-.01m0 -150h.01m0 169h-.01m0 -120h.01m1 54h-.01m0 61h.01m0 -21h-.01m0 -82h.01m0 -57h-.01m0 66h.01m0 112h-.01m0 6h.01m0 -175h-.01m0 10h.01m0 4h-.01m0 172h.01m0 -63h-.01m0 39h.01m0 -57h-.01m0 82h.01m0 -58h-.01m0 -108h.01m0 75h-.01m0 -83h.01m0 12h-.01m0 -14h.01m0 141h-.01m0 -85h.01m0 -60h-.01m0 12h.01m0 52h-.01m0 60h.01m0 42h-.01m0 -52h.01m0 -74h-.01m0 4h.01m0 10h-.01m0 -53h.01m0 8h-.01m0 91h.01m0 -26h-.01m0 77h.01m0 -90h-.01m0 124h.01m0 -39h-.01m0 -94h.01m0 27h-.01m0 -47h.01m0 -22h-.01m0 161h.01m0 7h-.01m0 -153h.01m1 24h-.01m0 3h.01m0 41h-.01m0 -108h.01m0 8h-.01m0 206h.01m0 -64h-.01m0 63h.01m0 -171h-.01m0 78h.01m0 45h-.01m0 29h.01m0 -149h-.01m0 76h.01m0 1h-.01m0 -70h.01m0 16h-.01m0 86h.01m0 -145h-.01m0 91h.01m0 -23h-.01m0 12h.01m0 85h-.01m0 -159h.01m0 57h-.01m0 -24h.01m0 44h-.01m0 66h.01m0 -97h-.01m0 -59h.01m0 204h-.01m0 -176h.01m0 157h-.01m0 -36h.01m0 13h-.01m0 -91h.01m0 83h-.01m0 -1h.01m0 -62h-.01m0 2h.01m0 53h-.01m0 32h.01m0 -56h-.01m0 -9h.01m0 -4h-.01m0 -107h.01m0 72h-.01m0 -36h.01m0 57h-.01m0 -34h.01m0 -20h-.01m0 114h.01m0 -151h-.01m0 65h.01m0 -54h-.01m0 -5h.01m0 23h-.01m1 82h.01m0 -80h-.01m0 135h.01m0 -44h-.01m0 6h.01m0 39h-.01m0 -49h.01m0 -61h-.01m0 16h.01m0 133h-.01m0 -167h.01m0 124h-.01m0 -53h.01m0 17h-.01m0 -66h.01m0 91h-.01m0 -143h.01m0 124h-.01m0 62h.01m0 -23h-.01m0 -128h.01m0 -57h-.01m0 40h.01m0 132h-.01m0 -77h.01m0 -58h-.01m0 1h.01m0 67h-.01m0 -54h.01m0 160h-.01m0 -73h.01m0 -93h-.01m0 31h.01m0 -11h-.01m0 86h.01m0 -38h-.01m0 -7h.01m0 -22h-.01m0 -45h.01m0 -5h-.01m0 157h.01m0 15h-.01m0 -152h.01m0 82h-.01m0 -35h.01m0 -75h-.01m0 119h.01m0 -112h-.01m0 153h.01m0 -119h-.01m0 35h.01m0 -46h-.01m0 137h.01m0 -46h-.01m0 70h.01m0 -123h-.01m0 79h.01m0 -13h-.01m0 23h.01m0 -86h-.01m0 -91h.01m0 83h-.01m0 92h.01m1 -135h-.01m0 161h.01m0 -96h-.01m0 -107h.01m0 5h-.01m0 136h.01m0 48h-.01m0 -37h.01m0 -125h-.01m0 -25h.01m0 147h-.01m0 -28h.01m0 -65h-.01m0 -44h.01m0 84h-.01m0 102h.01m0 -113h-.01m0 -37h.01m0 40h-.01m0 -8h.01m0 50h-.01m0 -86h.01m0 -7h-.01m0 50h.01m0 101h-.01m0 -29h.01m0 32h-.01m0 -131h.01m0 30h-.01m0 -33h.01m0 81h-.01m0 84h.01m0 -204h-.01m0 153h.01m0 -116h-.01m0 -57h.01m0 127h-.01m0 -122h.01m0 46h-.01m0 136h.01m0 28h-.01m0 -50h.01m0 -100h-.01m0 -56h.01m0 213h-.01m0 -36h.01m1 -141h-.01m0 38h.01m0 131h-.01m0 -95h.01m0 31h-.01m0 -112h.01m0 58h-.01m0 24h.01m0 -91h-.01m0 129h.01m0 25h-.01m0 -156h.01m0 -7h-.01m0 61h.01m0 109h-.01m0 -159h.01m0 111h-.01m0 -100h.01m0 49h-.01m0 54h.01m0 67h-.01m0 -180h.01m0 38h-.01m0 45h.01m0 38h-.01m0 16h.01m0 -113h-.01m0 84h.01m0 66h-.01m0 -180h.01m0 46h-.01m0 -73h.01m0 11h-.01m0 92h.01m0 65h-.01m0 19h.01m0 -172h-.01m0 52h.01m0 102h-.01m0 -17h.01m0 -134h-.01m0 45h.01m0 -3h-.01m0 134h.01m0 -63h-.01m0 -43h.01m0 -80h-.01m0 174h.01m0 -172h-.01m0 155h.01m0 -26h-.01m0 -4h.01m0 66h-.01m0 -136h.01m0 -14h-.01m0 153h.01m0 -159h-.01m0 133h.01m0 -137h-.01m0 45h.01m0 90h-.01m0 -139h.01m0 48h-.01m0 63h.01m0 40h-.01m0 -14h.01m0 -29h-.01m0 50h.01m1 -171h-.01m0 16h.01m0 90h-.01m0 -92h.01m0 55h-.01m0 42h.01m0 -4h-.01m0 -127h.01m0 112h-.01m0 30h.01m0 -109h-.01m0 126h.01m0 -87h-.01m0 -23h.01m0 -41h-.01m0 44h.01m0 41h-.01m0 31h.01m0 60h-.01m0 -105h.01m0 115h-.01m0 -29h.01m0 -18h-.01m0 -107h.01m0 133h-.01m0 -5h.01m0 7h-.01m0 -60h.01m0 21h-.01m0 -107h.01m0 78h-.01m0 -50h.01m0 2h-.01m0 33h.01m0 105h-.01m0 -31h.01m0 -82h-.01m0 -33h.01m0 138h-.01m0 -80h.01m0 1h-.01m0 -105h.01m0 56h-.01m0 8h.01m0 86h-.01m0 22h.01m0 -154h-.01m0 4h.01m0 69h-.01m0 110h.01m0 -43h-.01m0 -99h.01m0 4h-.01m0 134h.01m0 -41h-.01m0 -23h.01m0 -132h-.01m0 137h.01m0 -117h-.01m0 123h.01m0 -9h-.01m0 24h.01m0 -65h-.01m0 57h.01m0 1h-.01m0 -59h.01m0 2h-.01m0 -65h.01m0 102h-.01m0 41h.01m0 -84h-.01m0 22h.01m0 -58h-.01m0 -3h.01m1 121h-.01m0 -84h.01m0 -53h-.01m0 106h.01m0 21h-.01m0 -92h.01m0 -71h-.01m0 204h.01m0 -51h-.01m0 38h.01m0 16h-.01m0 1h.01m0 -101h-.01m0 -85h.01m0 -6h-.01m0 68h.01m0 40h-.01m0 -27h.01m0 49h-.01m0 4h.01m0 25h-.01m0 -74h.01m0 -34h-.01m0 -53h.01m0 183h-.01m0 -87h.01m0 -53h-.01m0 88h.01m0 27h-.01m0 -54h.01m0 -120h-.01m0 80h.01m0 114h-.01m0 -197h.01m0 29h-.01m0 124h.01m0 38h-.01m0 -112h.01m0 136h-.01m0 -10h.01m0 -124h-.01m0 120h.01m0 -93h-.01m0 57h.01m0 -38h-.01m0 46h.01m0 -86h-.01m0 10h.01m0 91h-.01m0 -87h.01m0 56h-.01m0 27h.01m0 -140h-.01m0 141h.01m0 -90h-.01m0 1h.01m0 -43h-.01m0 -6h.01m0 -48h-.01m0 100h.01m0 95h-.01m0 -22h.01m0 -55h-.01m0 -80h.01m0 68h-.01m0 2h.01m0 -79h-.01m0 32h.01m0 119h-.01m0 -95h.01m0 49h-.01m0 3h.01m0 -93h-.01m0 61h.01m0 -96h-.01m0 32h.01m0 -6h-.01m0 17h.01m1 131h-.01m0 -180h.01m0 79h-.01m0 56h.01m0 -139h-.01m0 71h.01m0 -68h-.01m0 88h.01m0 -75h-.01m0 42h.01m0 121h-.01m0 -18h.01m0 -5h-.01m0 58h.01m0 -118h-.01m0 42h.01m0 55h-.01m0 -26h.01m0 7h-.01m0 -142h.01m0 122h-.01m0 -80h.01m0 101h-.01m0 -65h.01m0 -8h-.01m0 -59h.01m0 100h-.01m0 -71h.01m0 -35h-.01m0 153h.01m0 -181h-.01m0 110h.01m0 -60h-.01m0 148h.01m0 -76h-.01m0 33h.01m0 -57h-.01m0 -89h.01m0 183h-.01m0 12h.01m0 -159h-.01m0 -9h.01m0 -44h-.01m0 111h.01m0 -50h-.01m0 106h.01m0 -105h-.01m0 115h.01m0 16h-.01m0 -112h.01m0 127h-.01m0 -83h.01m0 66h-.01m0 -10h.01m0 -103h-.01m0 -69h.01m0 175h-.01m0 -35h.01m0 -106h-.01m0 60h.01m0 -43h-.01m0 -32h.01m0 64h-.01m0 93h.01m0 -53h-.01m0 48h.01m0 -111h-.01m0 -44h.01m0 140h-.01m0 -116h.01m0 139h-.01m0 -138h.01m0 2h-.01m0 138h.01m0 -149h-.01m0 -36h.01m0 -1h-.01m0 36h.01m1 15h-.01m0 31h.01m0 14h-.01m0 41h.01m0 15h-.01m0 -103h.01m0 123h-.01m0 -1h.01m0 -118h-.01m0 28h.01m0 130h-.01m0 -69h.01m0 -110h-.01m0 62h.01m0 -63h-.01m0 56h.01m0 83h-.01m0 -107h.01m0 120h-.01m0 19h.01m0 -93h-.01m0 65h.01m0 31h-.01m0 -119h.01m0 112h-.01m0 -172h.01m0 41h-.01m0 -9h.01m0 68h-.01m0 -43h.01m0 -68h-.01m0 -20h.01m0 214h-.01m0 -200h.01m0 155h-.01m0 -167h.01m0 164h-.01m0 -113h.01m0 133h-.01m0 -31h.01m0 -146h-.01m0 188h.01m0 -137h-.01m0 -53h.01m0 48h-.01m0 23h.01m0 121h-.01m0 -41h.01m0 -133h-.01m0 190h.01m0 -13h-.01m0 -67h.01m0 -122h-.01m0 25h.01m0 152h-.01m0 -44h.01m0 -1h-.01m0 -18h.01m0 -3h-.01m0 20h.01m0 -114h-.01m0 165h.01m0 -13h-.01m0 -75h.01m1 18h-.01m0 30h.01m0 -74h-.01m0 23h.01m0 -30h-.01m0 112h.01m0 -36h-.01m0 72h.01m0 -59h-.01m0 46h.01m0 -86h-.01m0 3h.01m0 -88h-.01m0 139h.01m0 -11h-.01m0 22h.01m0 -37h-.01m0 -148h.01m0 158h-.01m0 -137h.01m0 64h-.01m0 -78h.01m0 161h-.01m0 -28h.01m0 -44h-.01m0 82h.01m0 -173h-.01m0 132h.01m0 -72h-.01m0 21h.01m0 24h-.01m0 -112h.01m0 30h-.01m0 54h.01m0 -72h-.01m0 136h.01m0 -138h-.01m0 87h.01m0 69h-.01m0 41h.01m0 -131h-.01m0 31h.01m0 91h-.01m0 -24h.01m0 16h-.01m0 7h.01m0 -59h-.01m0 -49h.01m0 40h-.01m0 -11h.01m0 -74h-.01m0 96h.01m0 56h-.01m0 -193h.01m0 144h-.01m0 -31h.01m0 28h-.01m0 38h.01m0 -136h-.01m0 171h.01m0 -65h-.01m0 68h.01m0 -5h-.01m0 -194h.01m0 5h-.01m0 97h.01m0 81h-.01m0 -146h.01m0 68h-.01m0 -9h.01m0 17h-.01m0 -118h.01m0 74h-.01m0 21h.01m0 -1h-.01m0 101h.01m0 -206h-.01m0 198h.01m1 -92h-.01m0 29h.01m0 25h-.01m0 -27h.01m0 -20h-.01m0 55h.01m0 -28h-.01m0 -91h.01m0 138h-.01m0 -192h.01m0 150h-.01m0 -38h.01m0 -41h-.01m0 58h.01m0 -77h-.01m0 124h.01m0 21h-.01m0 -128h.01m0 -67h-.01m0 92h.01m0 -2h-.01m0 -8h.01m0 120h-.01m0 -162h.01m0 48h-.01m0 30h.01m0 -15h-.01m0 -20h.01m0 113h-.01m0 -90h.01m0 -49h-.01m0 -14h.01m0 173h-.01m0 -114h.01m0 -48h-.01m0 138h.01m0 22h-.01m0 -118h.01m0 -97h-.01m0 210h.01m0 -28h-.01m0 -126h.01m0 -10h-.01m0 52h.01m0 29h-.01m0 14h.01m0 25h-.01m0 14h.01m0 -58h-.01m0 -59h.01m0 75h-.01m0 80h.01m0 -41h-.01m0 30h.01m0 -169h-.01m0 76h.01m0 43h-.01m0 -31h.01m0 -81h-.01m0 87h.01m0 -3h-.01m0 -42h.01m0 115h-.01m0 -128h.01m0 121h-.01m0 -178h.01m0 133h-.01m0 19h.01m0 32h-.01m0 -68h.01m0 -13h-.01m0 100h.01m0 -114h-.01m0 39h.01m0 -134h-.01m0 24h.01m0 165h-.01m0 -46h.01m0 -23h-.01m0 -81h.01m0 -29h-.01m0 95h.01m0 -41h-.01m0 109h.01m0 -104h-.01m0 -52h.01m0 186h-.01m0 -5h.01m1 -93h-.01m0 -34h.01m0 73h-.01m0 -44h.01m0 104h-.01m0 -9h.01m0 -192h-.01m0 63h.01m0 96h-.01m0 -3h.01m0 -60h-.01m0 59h.01m0 -37h-.01m0 30h.01m0 -22h-.01m0 37h.01m0 28h-.01m0 -3h.01m0 -41h-.01m0 -24h.01m0 -3h-.01m0 -122h.01m0 74h-.01m0 82h.01m0 -146h-.01m0 120h.01m0 30h-.01m0 -98h.01m0 59h-.01m0 63h.01m0 -120h-.01m0 -33h.01m0 -42h-.01m0 197h.01m0 -3h-.01m0 -78h.01m0 9h-.01m0 25h.01m0 24h-.01m0 -4h.01m0 -4h-.01m0 -83h.01m0 133h-.01m0 -154h.01m0 123h-.01m0 -26h.01m0 -119h-.01m0 46h.01m0 -56h-.01m0 166h.01m0 10h-.01m0 -177h.01m0 71h-.01m0 -68h.01m0 82h-.01m0 64h.01m0 -175h-.01m0 181h.01m0 -160h-.01m0 97h.01m0 78h-.01m0 -13h.01m0 -131h-.01m0 135h.01m0 -11h-.01m0 -31h.01m0 -112h-.01m0 156h.01m0 -36h-.01m0 -123h.01m0 90h-.01m0 -5h.01m0 -57h-.01m0 142h.01m0 -131h-.01m0 15h.01m0 65h-.01m0 -115h.01m0 175h-.01m0 -109h.01m0 3h-.01m1 51h.01m0 -39h-.01m0 86h.01m0 -84h-.01m0 -117h.01m0 202h-.01m0 -143h.01m0 -34h-.01m0 38h.01m0 132h-.01m0 -8h.01m0 -21h-.01m0 -29h.01m0 -69h-.01m0 61h.01m0 -111h-.01m0 170h.01m0 -111h-.01m0 27h.01m0 21h-.01m0 -5h.01m0 -55h-.01m0 -43h.01m0 137h-.01m0 -74h.01m0 128h-.01m0 -174h.01m0 101h-.01m0 -146h.01m0 159h-.01m0 -79h.01m0 -67h-.01m0 21h.01m0 114h-.01m0 -7h.01m0 -51h-.01m0 38h.01m0 82h-.01m0 -68h.01m0 -17h-.01m0 13h.01m0 37h-.01m0 -78h.01m0 -5h-.01m0 -57h.01m0 134h-.01m0 -122h.01m0 -28h-.01m0 70h.01m0 -66h-.01m0 165h.01m0 -180h-.01m0 145h.01m0 9h-.01m0 -155h.01m0 132h-.01m0 -134h.01m0 146h-.01m0 -137h.01m0 192h-.01m0 -138h.01m0 52h-.01m0 91h.01m0 -64h-.01m0 -136h.01m0 126h-.01m0 -136h.01m0 40h-.01m0 54h.01m0 95h-.01m0 -5h.01m0 -176h-.01m0 42h.01m0 16h-.01m0 149h.01m0 -157h-.01m0 91h.01m0 -14h-.01m0 -54h.01m0 51h-.01m0 -78h.01m0 67h-.01m0 -17h.01m0 -44h-.01m0 54h.01m0 103h-.01m1 -162h.01m0 40h-.01m0 -1h.01m0 -80h-.01" stroke="#ffd700" stroke-width="6.1" stroke-linecap="round" fill="none"/>
<path d="M294 1905h.01m2.5 0.5h-.01m1 -112h.01m0.5 130h-.01m0.5 -5h.01m0 -62.5h-.01m2 54h.01m3 28.5h-.01m5.5 -120h.01m3.5 99h-.01m1.5 -57h.01m1 78.5h-.01m1.5 -16.5h.01m0.5 -1h-.01m3 -139h.01m0 137h-.01m1.5 28h.01m4.5 -95h-.01m0.5 -44h.01m1.5 22.5h-.01m7 -33.5h.01m3.5 86.5h-.01m4 -104h.01m0.5 111.5h-.01m2 90.5h.01m0 -40h-.01m2.5 55h.01m0.5 -85.5h-.01m0 -53.5h.01m0.5 45h-.01m1.5 -36h.01m0.5 116.5h-.01m4 -66.5h.01m3.5 38h-.01m1.5 -58.5h.01m0.5 -56h-.01m2 75.5h.01m3 -120h-.01m4 141.5h.01m1 -154h-.01m1 182h.01m1.5 34.5h-.01m1 -102h.01m3.5 87h-.01m0 -83h.01m0.5 -68.5h-.01m1 91h.01m4 -51.5h-.01m1 -9h.01m0.5 5h-.01m2 9.5h.01m0 34.5h-.01m0.5 -43.5h.01m2.5 103.5h-.01m4 -28.5h.01m3 9.5h-.01m0.5 -61.5h.01m4 -65h-.01m3.5 44.5h.01m2.5 -32h-.01m0.5 48h.01m4.5 -13.5h-.01m0.5 100h.01m3.5 -11h-.01m0 18h.01m1 -123.5h-.01m0.5 -34.5h.01m1 38.5h-.01m0.5 76h.01m8 -135.5h-.01m7.5 68h.01m0.5 41h-.01m2 -35h.01m2.5 31.5h-.01m2 -94.5h.01m0 37.5h-.01m3.5 141.5h.01m3.5 -90h-.01m1 -116h.01m1.5 132.5h-.01m3.5 71h.01m8.5 -102.5h-.01m3 -37.5h.01m0 5.5h-.01m3 -14h.01m6 80h-.01m0 -130.5h.01m0.5 78.5h-.01m5 113.5h.01m1.5 -96h-.01m2 49.5h.01m5 -75h-.01m0 -45h.01m1.5 63h-.01m1.5 -21h.01m2.5 -33.5h-.01m0 -28h.01m0.5 -13h-.01m1 105h.01m0.5 -39.5h-.01m3 -16.5h.01m2 -7h-.01m2.5 23h.01m1 -63h-.01m2 108.5h.01m0 -47.5h-.01m0.5 -38.5h.01m1.5 31.5h-.01m1.5 84.5h.01m2 -37.5h-.01m1 -45h.01m0 130h-.01m5.5 -129.5h.01m0 26.5h-.01m0.5 69h.01m1.5 -42.5h-.01m0.5 12.5h.01m0.5 70.5h-.01m1 -143h.01m3.5 126h-.01m1.5 -93.5h.01m0.5 18h-.01m2 -84h.01m1 1.5h-.01m1 47h.01m1 7h-.01m1.5 -4h.01m0 96h-.01m0 -17.5h.01m0 -87.5h-.01m0 -26h.01m0.5 122h-.01m2 -85.5h.01m0 -16.5h-.01m0.5 45.5h.01m2 40h-.01m0.5 -29.5h.01m0 -40h-.01m0 -35h.01m0 -13.5h-.01m1.5 182h.01m0 -16h-.01m2.5 -104.5h.01m1 133h-.01m0 -204.5h.01m0.5 86h-.01m0 -2h.01m0.5 -82h-.01m1 184.5h.01m0 -149.5h-.01m1 95.5h.01m0 -98h-.01m0.5 73.5h.01m0 20.5h-.01m0 -58.5h.01m0.5 122.5h-.01m0.5 -190.5h.01m0.5 71.5h-.01m0.5 60.5h.01m0 -77h-.01m0 110.5h.01m0.5 -147h-.01m1 87h.01m0.5 62.5h-.01m0.5 -72h.01m1.5 22h-.01m0 24h.01m0 17h-.01m0.5 -59h.01m1 -33h-.01m0.5 14h.01m0.5 34.5h-.01m0.5 -98h.01m0 107h-.01m2 10.5h.01m1 -143h-.01m0 1h.01m1 18.5h-.01m0 177.5h.01m3 -182.5h-.01m0 -3.5h.01m0.5 146h-.01m0.5 -88.5h.01m0 -16h-.01m0 -45.5h.01m1 2.5h-.01m0 36h.01m0 87h-.01m1 -103.5h.01m0.5 59.5h-.01m0.5 23h.01m0 44.5h-.01m0.5 -165.5h.01m0 169h-.01m0 -50h.01m0.5 95h-.01m0.5 -136.5h.01m0 -34h-.01m0 142h.01m0 -3.5h-.01m0 -106h.01m0.5 -68.5h-.01m0 29.5h.01m0.5 101h-.01m0 -39.5h.01m0.5 -98h-.01m0.5 26.5h.01m0.5 78h-.01m0 42h.01m0 10h-.01m0.5 61h.01m0 -100.5h-.01m0 -52.5h.01m0.5 104h-.01m0 -169h.01m0 149h-.01m0 -127h.01m0.5 25.5h-.01m0 34.5h.01m0.5 21h-.01m0.5 81h.01m0 -152.5h-.01m0.5 24.5h.01m0 23.5h-.01m0.5 -55h.01m0.5 193h-.01m0 -179h.01m0.5 68.5h-.01m0 28h.01m0 37.5h-.01m0.5 -71h.01m0 106.5h-.01m0 -203h.01m0 60h-.01m0 42.5h.01m0.5 -96.5h-.01m0 103h.01m0 -47.5h-.01m0.5 74.5h.01m0 -21.5h-.01m0.5 -63h.01m0 75.5h-.01m0.5 -1h.01m0 1.5h-.01m0 -28h.01m0 -103.5h-.01m0.5 33.5h.01m0.5 60.5h-.01m0 96.5h.01m0.5 -177.5h-.01m0.5 -11.5h.01m0 138h-.01m0.5 -73h.01m0.5 -39.5h-.01m0.5 54.5h.01m0 -44h-.01m0 -4h.01m0 43h-.01m0.5 51.5h.01m0.5 41h-.01m0.5 -104h.01m0 38h-.01m0.5 14.5h.01m1 98h-.01m0 -113.5h.01m0 64h-.01m0.5 -72.5h.01m1 -60h-.01m0 137h.01m0 -147.5h-.01m0.5 11.5h.01m0 77h-.01" stroke="#ea2a2f" stroke-width="6.1" stroke-linecap="round" fill="none"/>
<path d="M124.5 1822.5h.01m2.5 89h-.01m2 -79.5h.01m4 53h-.01m1 101.5h.01m0.5 -169.5h-.01m2 130.5h.01m1 -54h-.01m6 -6.5h.01m0 91h-.01m2 -147h.01m4 30.5h-.01m1.5 93.5h.01m0 -0.5h-.01m0.5 -94h.01m2 34h-.01m1 30.5h.01m2 -96h-.01m0.5 88h.01m2.5 -122h-.01m2 55h.01m0.5 45h-.01m6 -81.5h.01m4 153.5h-.01m0.5 -174.5h.01m4 133h-.01m0.5 -109h.01m0 110h-.01m1.5 -146h.01m2.5 101h-.01m1.5 67.5h.01m2.5 49h-.01m11.5 -170h.01m2.5 -15.5h-.01m0.5 185.5h.01m2.5 -198h-.01m2 75.5h.01m1 82.5h-.01m0.5 -43.5h.01m1 -17.5h-.01m1 -104.5h.01m1.5 18h-.01m2 110h.01m0 49.5h-.01m1 -67.5h.01m0.5 -48.5h-.01m1 137h.01m2 -168.5h-.01m0 100.5h.01m0.5 -2h-.01m0.5 -132h.01m1.5 137.5h-.01m3 -12.5h.01m2.5 -79h-.01m1 165.5h.01m1 -1h-.01m0 -18h.01m2 -144.5h-.01m1 89.5h.01m0.5 -136h-.01m1 207h.01m1 -85h-.01m2 -100.5h.01m0 72.5h-.01m0 105h.01m2 -178h-.01m2 139h.01m3.5 -73h-.01m0.5 115.5h.01m2 -122.5h-.01m1 -1.5h.01m0 32.5h-.01m0.5 -10.5h.01m0.5 -23.5h-.01m3 -32h.01m1.5 57h-.01m4.5 -106.5h.01m1 201.5h-.01m0.5 -98.5h.01m3 66h-.01m1.5 48h.01m3 -216.5h-.01m4 195h.01m0 70h-.01m0.5 12h.01m1.5 -175h-.01m1.5 41h.01m2 73h-.01m1 -49h.01m1 -128.5h-.01m0 256h.01m0.5 -243.5h-.01m0.5 11h.01m0 49h-.01m2.5 161.5h.01m0.5 -234.5h-.01m0 13h.01m1.5 107.5h-.01m0.5 -4h.01m0.5 -26h-.01m0.5 90h.01m0 -5h-.01m0.5 -160h.01m2.5 182h-.01m0.5 116.5h.01m0 -212h-.01m1 123h.01m0.5 -59h-.01m0.5 24.5h.01m0.5 -27.5h-.01m0.5 78h.01m0 -240.5h-.01m1.5 322h.01m0.5 -306h-.01m2 39.5h.01m0.5 -67h-.01m0 -7h.01m0 96h-.01m0 27h.01m1 85.5h-.01m2.5 -36.5h.01m0.5 -87h-.01m0 1h.01m0.5 220h-.01m0.5 -73.5h.01m0.5 5.5h-.01m0 -105.5h.01m1 49h-.01m2 -62h.01m0 -116h-.01m0 262.5h.01m0.5 -16h-.01m0.5 59.5h.01m1 -234h-.01m0 110.5h.01m0.5 -48h-.01m0 54.5h.01m0.5 -145h-.01m1 36h.01m0.5 186.5h-.01m0 -114.5h.01m0.5 37h-.01m0 93h.01m0.5 -55.5h-.01m0 -37h.01m1 -131h-.01m0 153.5h.01m0.5 -238h-.01m0 236h.01m0 74h-.01m0.5 -9.5h.01m0 -72h-.01m0.5 -63.5h.01m0 -122h-.01m1 205h.01m1 -65h-.01m0 115.5h.01m0.5 33h-.01m0 -134h.01m0.5 32h-.01m0.5 -78.5h.01m1 146h-.01m0.5 -220.5h.01m1 -12.5h-.01m1.5 152.5h.01m0.5 -107.5h-.01m0 213h.01m0 -263h-.01m0.5 242.5h.01m0 -32h-.01m0.5 -202.5h.01m0 137.5h-.01m1 12h.01m0 -159h-.01m0 237.5h.01m0.5 61.5h-.01m1 -44.5h.01m0.5 -267.5h-.01m2 171h.01m0.5 46h-.01m0.5 11.5h.01m0.5 -84h-.01m0.5 53.5h.01m0 68.5h-.01m0 27.5h.01m1.5 -291h-.01m0.5 232.5h.01m0.5 -237.5h-.01m1 -28h.01m0.5 256.5h-.01m0.5 -68.5h.01m2.5 74h-.01m0 13.5h.01m0.5 57h-.01m0 -162h.01m0.5 34h-.01m1.5 -129.5h.01m2 192.5h-.01m1.5 -146.5h.01m0.5 -32h-.01m0 200h.01m1.5 22h-.01m0 -21h.01m0.5 -54h-.01m0 6h.01m0 40h-.01m0 -110h.01m0 -85h-.01m0.5 225.5h.01m0.5 -320h-.01m0 107h.01m0.5 61h-.01m1 60h.01m0 -60h-.01m0.5 86.5h.01m0.5 25h-.01m1 -264h.01m0.5 304h-.01m0.5 -225.5h.01m0.5 -92h-.01m1 190.5h.01m0.5 88.5h-.01m0.5 -231h.01m1.5 30.5h-.01m0.5 238.5h.01m0.5 -89.5h-.01m0.5 -61.5h.01m0.5 153h-.01m1 52h.01m0 -58h-.01m0.5 -274h.01m0.5 305.5h-.01m0.5 -138.5h.01m0.5 79.5h-.01m0 -172.5h.01m0 137.5h-.01m0 -219.5h.01m0.5 -38h-.01m2 359.5h.01m0 -16.5h-.01m3.5 -182h.01m2 70h-.01m0 50.5h.01m0.5 28h-.01m0.5 -54.5h.01m1 -44.5h-.01m0 62.5h.01m0.5 -124h-.01m0.5 83.5h.01m1 24h-.01m0.5 -0.5h.01m0 -180h-.01m0.5 225h.01m0 -155.5h-.01m1 148h.01m0 3h-.01m0 25h.01m0.5 -94.5h-.01m0 -34.5h.01m0 147.5h-.01m0.5 -38h.01m0 -196.5h-.01m0 215.5h.01m0.5 -206h-.01m0.5 252h.01m0 -155h-.01m0.5 14h.01m0 75.5h-.01m1 -63.5h.01m1 -78h-.01m1.5 39.5h.01m0.5 28.5h-.01m1 98.5h.01m1 -108.5h-.01m1 49.5h.01m0 -140.5h-.01m0.5 166h.01m3 -35h-.01m1 38.5h.01m1.5 36.5h-.01m0.5 -101h.01m0 8h-.01m3 29h.01m0 -16.5h-.01m0 -38.5h.01m0.5 89h-.01m1 -26h.01m0.5 29h-.01m0 -49.5h.01m1 -36h-.01m1 28h.01m1 -24h-.01m0.5 -9h.01m4.5 135h-.01m0.5 -31.5h.01m0.5 -53h-.01m1 -35h.01m0 86.5h-.01m2 -78.5h.01m0 -17h-.01m1 131h.01m0.5 -36h-.01m0 -76h.01m3 14h-.01m1 8.5h.01m1 88.5h-.01m0 -33.5h.01m0.5 -63h-.01m1 46.5h.01m0 10h-.01m0 -109h.01m0.5 128h-.01m0.5 -47h.01m0 35h-.01m0.5 0.5h.01m1.5 -6.5h-.01m0.5 -73.5h.01m0 101.5h-.01m4.5 -101.5h.01m0.5 96.5h-.01m1.5 -48.5h.01m0.5 -9h-.01m0.5 43.5h.01m1.5 44h-.01m0.5 -161h.01m0.5 42h-.01m2.5 10h.01m0 41h-.01m1 -52h.01m1 48h-.01m0.5 -74h.01m2 22h-.01m0 130h.01m0 -56.5h-.01m1 -73.5h.01m1.5 -32.5h-.01m0 9h.01m0 42h-.01m1 7h.01m0 31.5h-.01m0.5 39.5h.01m0 -104h-.01m0 23.5h.01m0.5 -37h-.01m1.5 50h.01m0.5 -28.5h-.01m0.5 108h.01m1 -104.5h-.01m2.5 7h.01m0.5 16h-.01m0.5 -57.5h.01m0 4h-.01m1.5 142h.01m2 -78.5h-.01m0.5 20.5h.01m0 -61h-.01m1.5 53h.01m1.5 45h-.01m2 -85.5h.01m0.5 -9h-.01m5 -2.5h.01m2 112h-.01m0.5 -58.5h.01m0 -73h-.01m0.5 56.5h.01m2 -4h-.01m0.5 15h.01m1 10h-.01m0 43h.01m0.5 -130.5h-.01m1.5 140h.01m0 -23h-.01m0 -101.5h.01m2.5 11h-.01m3.5 83.5h.01m0 -50h-.01m1 3.5h.01m0.5 20.5h-.01m2 -58h.01m0 -14h-.01m1 14.5h.01m1 86h-.01m0.5 -72.5h.01m1 68h-.01m0 -76.5h.01m1 53.5h-.01m1 -83.5h.01m0 131.5h-.01m1 -35.5h.01m0 -59.5h-.01m1 47.5h.01m1.5 44h-.01m1 -69.5h.01m3.5 -9h-.01m0.5 11h.01m0 112.5h-.01m2 -17.5h.01m1 -28.5h-.01m1 -77.5h.01m0.5 -10.5h-.01m0 -34.5h.01m0.5 38.5h-.01m1 69h.01m1.5 -86h-.01m0.5 16h.01m0 52.5h-.01m0.5 0h.01m1 48.5h-.01m2.5 -41h.01m0.5 -76.5h-.01m0.5 28h.01m0 -55.5h-.01m0.5 101.5h.01m0.5 -41.5h-.01m0 -57.5h.01m1 95h-.01m0.5 -32.5h.01m0.5 -10.5h-.01m0 96.5h.01m1 -48h-.01m1.5 -65h.01m0 -39.5h-.01m1 30.5h.01m0 66.5h-.01m2 -27h.01m0.5 63h-.01m1 -86h.01m0.5 26h-.01m0 -46h.01m0.5 -7.5h-.01m1 87.5h.01m1 -79h-.01m0.5 73.5h.01m0 -88.5h-.01m0.5 -3.5h.01m1 -9.5h-.01m0 80h.01m2 -7h-.01m0.5 -63.5h.01m0.5 28h-.01m0.5 6.5h.01m0.5 39h-.01m1.5 -26h.01m0.5 29h-.01m0.5 -22.5h.01m2 -19.5h-.01m0.5 2h.01m0 -5h-.01m0.5 119.5h.01m0.5 -149h-.01m0 28h.01m0 12.5h-.01m0.5 -44.5h.01m0.5 118.5h-.01m0.5 -70.5h.01m0.5 -52h-.01m0 30h.01m0.5 30.5h-.01m0.5 -42h.01m1.5 20.5h-.01m0.5 3.5h.01m0 23h-.01m0 57.5h.01m0.5 -24h-.01m0.5 -53h.01m0.5 8h-.01m0.5 7.5h.01m0 -38h-.01m0 83h.01m0 -76h-.01m0.5 77h.01m0.5 21h-.01m0.5 0.5h.01m0 -99h-.01m0.5 31.5h.01m0.5 9h-.01m1 -12h.01m1.5 46.5h-.01m0.5 -64h.01m0 79.5h-.01m1.5 -41.5h.01m0.5 -26h-.01m0 6h.01m0.5 -28h-.01m2 28h.01m0 20h-.01m1 46h.01m0 -126.5h-.01m0 24h.01m0.5 10h-.01m0 -2h.01m0 34h-.01m0.5 27h.01m0 48.5h-.01m0 -101h.01m0.5 42.5h-.01m0 66.5h.01m0.5 -36h-.01m0 -46h.01m0 -65.5h-.01m0.5 137.5h.01m0 -67.5h-.01m0.5 -32.5h.01m1.5 3h-.01m0.5 111.5h.01m0.5 -87.5h-.01m0 30.5h.01m0.5 10.5h-.01m0 -77.5h.01m0 45.5h-.01m0.5 54.5h.01m0.5 -120.5h-.01m0 18.5h.01m0.5 14h-.01m0 68h.01m0.5 -56.5h-.01m0.5 72h.01m0 -83.5h-.01m0 65h.01m0.5 -69h-.01m0 -33.5h.01m0 121.5h-.01m0 -67.5h.01m0 59.5h-.01m0.5 -44h.01m0 -56.5h-.01m0.5 7h.01m1 77h-.01m0 9.5h.01m0.5 18.5h-.01m0 -53h.01m0 -6h-.01m0 3.5h.01m0.5 -28h-.01m0 27h.01m0.5 78h-.01m0.5 -91.5h.01m0.5 88h-.01m0 -43h.01m0 -59.5h-.01m1 5.5h.01m0 -50h-.01m0.5 32h.01m0 -35h-.01m0 54h.01m0.5 -46h-.01m1 40h.01m0 81h-.01m0 -78.5h.01m0.5 -46h-.01m0 80h.01m0 -80.5h-.01m0 123.5h.01m0.5 -86.5h-.01m0 61.5h.01m0 -60.5h-.01m0 -57.5h.01m0.5 89h-.01m0 -27.5h.01m0.5 -39h-.01m0 62.5h.01m0.5 -1.5h-.01m0.5 2.5h.01m0.5 101.5h-.01m0 -137h.01m0.5 27h-.01m0 -14.5h.01m0 1.5h-.01m0 -35.5h.01m0 -40h-.01m0 116.5h.01m0.5 -91.5h-.01m0 41h.01m0.5 -4.5h-.01m0.5 -81.5h.01m0 106h-.01m0.5 -31h.01m0 -59h-.01m0.5 108h.01m0.5 -56.5h-.01m0 93.5h.01m0 -92h-.01m0.5 60.5h.01m0 -39h-.01m0.5 -16.5h.01m0.5 27.5h-.01m0 10h.01m0 44h-.01m0 -33h.01m0.5 -47h-.01m0 34.5h.01m0.5 84.5h-.01m0.5 -134h.01m0.5 7.5h-.01m0 5h.01m0.5 105h-.01m0 -7h.01m0 -83h-.01m0 106.5h.01m0 -24h-.01m0.5 -9.5h.01m0 18h-.01m0.5 -23h.01m0 41.5h-.01m0 -133.5h.01m0 55.5h-.01m0 -47.5h.01m0 -9h-.01m0.5 1h.01m0.5 -63h-.01m0 120.5h.01m0 68h-.01m0.5 -60.5h.01m0 -97.5h-.01m0 3h.01m0 13.5h-.01m0.5 37h.01m0 38.5h-.01m0 94.5h.01m0 -156.5h-.01m0 64.5h.01m0.5 -0.5h-.01m0 3.5h.01m0 -79h-.01m0.5 22h.01m0 12.5h-.01m0 5h.01m0 -14h-.01m0 -11h.01m1 147.5h-.01m0 -73h.01m0 -37.5h-.01m0 4.5h.01m0 -2.5h-.01m0 -43.5h.01m0.5 43.5h-.01m0 93.5h.01m0 -140h-.01m0 94h.01m0.5 -22h-.01m0 -18h.01m0 51h-.01m0 -103h.01m0.5 102h-.01m0 -161.5h.01m0 140.5h-.01m0.5 43h.01m0 -121h-.01m0 60.5h.01m0 -35.5h-.01m0 40.5h.01m0.5 -59h-.01m0 3.5h.01m0 64.5h-.01m0 -7.5h.01m0 35.5h-.01m0.5 -72h.01m0 17h-.01m0.5 42h.01m0 -65.5h-.01m0 108h.01m0 13h-.01m0 -123.5h.01m0 -53.5h-.01m0 88.5h.01m0.5 71h-.01m0 -58h.01m0 13.5h-.01m0 5.5h.01m0.5 -82h-.01m0 99h.01m0 -97h-.01m0 28.5h.01m0.5 -44h-.01m0 13.5h.01m0 30.5h-.01m0 -32h.01m0 44h-.01m0.5 -8h.01m0 27.5h-.01m0 -51h.01m0 -10.5h-.01m0.5 4.5h.01m0 -28.5h-.01m0 134.5h.01m0 -87.5h-.01m0 21h.01m0 37h-.01m0 -70h.01m0 -0.5h-.01m0 -12h.01m0 149h-.01m0 -156.5h.01m0 51h-.01m0.5 48h.01m0 -12.5h-.01m0 -98.5h.01m0 30.5h-.01m0.5 -9.5h.01m0 -20h-.01m0 171.5h.01m0 -131.5h-.01m0.5 -38h.01m0 30.5h-.01m0 89h.01m0 -113h-.01m0.5 132h.01m0 -79h-.01m0 51.5h.01m0 -124.5h-.01m0 10.5h.01m0.5 147.5h-.01m0 -67h.01m0 -89.5h-.01m0 69.5h.01m0.5 71h-.01m0 -59h.01m0 36h-.01m0 -61h.01m0.5 121.5h-.01m0 -45h.01m0 28.5h-.01m0 -107.5h.01m0 128.5h-.01m0.5 -142.5h.01m0 69h-.01m0 -89.5h.01m0 60.5h-.01m0 29.5h.01m0 -83h-.01m0.5 60.5h.01m0 -32h-.01m0 -34.5h.01m0 1h-.01m0 145.5h.01m0 -149h-.01m0.5 -15h.01m0 90h-.01m0 -0.5h.01m0 -70.5h-.01m0 137.5h.01m0 -108.5h-.01m0 -18.5h.01m0 47h-.01m0 24h.01m0 -77h-.01m0 -22h.01m0.5 127.5h-.01m0 -143.5h.01m0 92.5h-.01m0 -12.5h.01m0 1h-.01m0 -48h.01m0 43.5h-.01m0.5 14.5h.01m0 -12h-.01m0 -68.5h.01m0 97h-.01m0 20h.01m0 2.5h-.01m0 41.5h.01m0 -139h-.01m0 102.5h.01m0 -36.5h-.01m0.5 -60.5h.01m0 28h-.01m0 28h.01" stroke="#3c54a4" stroke-width="6.1" stroke-linecap="round" fill="none"/>
<path d="M124 2147.5h.01m0.5 -20.5h-.01m4 -8h.01m1 -66h-.01m3 28.5h.01m2.5 -62h-.01m12.5 1.5h.01m3 11.5h-.01m1 18h.01m3 24h-.01m1 -46.5h.01m2.5 -19h-.01m5.5 -13h.01m1 72h-.01m4.5 67.5h.01m1 -66h-.01m3 -74h.01m2.5 35.5h-.01m1 118.5h.01m2.5 -84h-.01m1 55.5h.01m2 -19.5h-.01m0 -43h.01m4 46.5h-.01m2 22h.01m1 -92h-.01m1 23.5h.01m0.5 80.5h-.01m4 -75h.01m4.5 56.5h-.01m0.5 -119h.01m1.5 61h-.01m1 -66.5h.01m3.5 73h-.01m1.5 -46.5h.01m1 2.5h-.01m2.5 35.5h.01m1.5 -58.5h-.01m0.5 104.5h.01m1.5 11.5h-.01m1 -67h.01m1.5 68h-.01m1.5 -93.5h.01m0 75h-.01m4 -1h.01m2 -80h-.01m2.5 18h.01m1 -34.5h-.01m0.5 73h.01m2 -10.5h-.01m0.5 -10h.01m1 -44h-.01m2.5 119.5h.01m0.5 7.5h-.01m0.5 -131.5h.01m0.5 128h-.01m1 -52.5h.01m0 -34h-.01m1 114h.01m1.5 -79.5h-.01m0 -7.5h.01m1.5 39h-.01m2.5 -32h.01m0.5 21.5h-.01m0 -13.5h.01m1 -7.5h-.01m0.5 60.5h.01m0.5 -119h-.01m0 -11.5h.01m3 46h-.01m0 49h.01m1.5 -36.5h-.01m1 32h.01m0.5 -21h-.01m0 7h.01m0.5 -58h-.01m0.5 136h.01m0.5 -32h-.01m1 -6h.01m0.5 -36.5h-.01m0 9.5h.01m2.5 -34.5h-.01m1 -14h.01m2 48.5h-.01m0.5 -3h.01m2.5 15.5h-.01m3 20.5h.01m0.5 -33.5h-.01m2.5 -49h.01m1 -38.5h-.01m1.5 73h.01m1 -13h-.01m1 67h.01m0.5 -48.5h-.01m0 8h.01m4 12.5h-.01m2 -29h.01m2 20h-.01m2.5 -85h.01m0 97.5h-.01m0.5 -4h.01m0 -6h-.01m0.5 47.5h.01m0 40h-.01m1 -133h.01m1 49.5h-.01m0 -7.5h.01m0.5 -37h-.01m1.5 -55h.01m0 97.5h-.01m1.5 9h.01m4.5 -104h-.01m2 75.5h.01m0.5 -45.5h-.01m3 127.5h.01m2 -98.5h-.01m3 70h.01m1 -57.5h-.01m4.5 42h.01m3.5 -53h-.01m0 40h.01m2.5 50.5h-.01m1.5 -105.5h.01m0.5 59.5h-.01m0.5 -42.5h.01m4.5 54h-.01m1 -82.5h.01m4.5 -5.5h-.01m0 22h.01m5 68h-.01m1.5 -96.5h.01m2 54h-.01m1.5 25h.01m5 41.5h-.01m3 -35h.01m0.5 -90h-.01m9 4h.01" stroke="#5bbd7b" stroke-width="6.1" stroke-linecap="round" fill="none"/>
<rect x="103.3" y="1754.2" width="509" height="464.4" fill="none" stroke="#000" stroke-width="1.8"/>
<path d="M169.4 2219.6v3M102.3 2122.2h-3M310.6 2219.6v3M102.3 2006.2h-3M451.8 2219.6v3M102.3 1890.2h-3M593 2219.6v3M102.3 1774.2h-3" stroke="#bdbdbd" stroke-width="1" fill="none"/>
<text x="169.4" y="2247.5" font-size="24.7" text-anchor="middle" textLength="34" lengthAdjust="spacingAndGlyphs">0.4</text>
<text x="94.3" y="2130.7" font-size="25.8" text-anchor="end" textLength="33.5" lengthAdjust="spacingAndGlyphs">0.4</text>
<text x="310.6" y="2247.5" font-size="24.7" text-anchor="middle" textLength="34" lengthAdjust="spacingAndGlyphs">0.6</text>
<text x="94.3" y="2014.7" font-size="25.8" text-anchor="end" textLength="33.5" lengthAdjust="spacingAndGlyphs">0.6</text>
<text x="451.8" y="2247.5" font-size="24.7" text-anchor="middle" textLength="34" lengthAdjust="spacingAndGlyphs">0.8</text>
<text x="94.3" y="1898.7" font-size="25.8" text-anchor="end" textLength="33.5" lengthAdjust="spacingAndGlyphs">0.8</text>
<text x="593" y="2247.5" font-size="24.7" text-anchor="middle" textLength="34" lengthAdjust="spacingAndGlyphs">1.0</text>
<text x="94.3" y="1782.7" font-size="25.8" text-anchor="end" textLength="33.5" lengthAdjust="spacingAndGlyphs">1.0</text>
<text x="227.8" y="2281.7" font-size="28.8" textLength="241.1" lengthAdjust="spacingAndGlyphs">HiRIEF probability</text>
<text font-size="29.4" text-anchor="middle" textLength="346" lengthAdjust="spacingAndGlyphs" transform="translate(48.2 1986) rotate(-90)">Long gradient probability</text>
<text x="671.1" y="1843.9" font-size="28.8" textLength="264.5" lengthAdjust="spacingAndGlyphs">HiRIEF vs Long grad.</text>
<text x="671.1" y="1880.5" font-size="28.8" textLength="178.5" lengthAdjust="spacingAndGlyphs">classifications</text>
<circle cx="685.4" cy="1915.9" r="14.7" fill="#ffd600"/>
<text x="709.1" y="1926.7" font-size="28.8" textLength="160.1" lengthAdjust="spacingAndGlyphs">Same (3384)</text>
<circle cx="685.4" cy="1953.9" r="14.7" fill="#ea2a2f"/>
<text x="709.1" y="1964.2" font-size="28.8" textLength="187" lengthAdjust="spacingAndGlyphs">Different (272)</text>
<circle cx="685.4" cy="1991.7" r="14.7" fill="#3c54a4"/>
<text x="709.1" y="2002.2" font-size="28.8" textLength="252.2" lengthAdjust="spacingAndGlyphs">1 Unclassified (772)</text>
<circle cx="685.4" cy="2029.4" r="14.7" fill="#5bbd7b"/>
<text x="709.1" y="2040.2" font-size="28.8" textLength="252.2" lengthAdjust="spacingAndGlyphs">2 Unclassified (138)</text>
<text x="1188.2" y="1658" font-size="29.9" textLength="325.6" lengthAdjust="spacingAndGlyphs">High pH vs Long gradient</text>
<text x="1258" y="1692.6" font-size="29.9" textLength="192.7" lengthAdjust="spacingAndGlyphs">(4559 proteins)</text>
<path d="M1153 1749.9C1173.7 1749.7 1237.9 1749.1 1277.2 1748.7C1316.5 1748.3 1363.6 1747.8 1388.8 1747.5C1413.9 1747.3 1416.4 1747.4 1428 1747.2C1439.5 1747 1448.1 1746.7 1458.1 1746.3C1468.2 1746 1478.2 1745.6 1488.3 1745.1C1498.3 1744.6 1510.9 1743.8 1518.4 1743.3C1525.9 1742.8 1528.5 1742.7 1533.5 1742.1C1538.5 1741.6 1543.5 1740.8 1548.5 1740C1553.6 1739.2 1559.6 1738.4 1563.6 1737.6C1567.6 1736.7 1570.2 1735.6 1572.7 1734.9C1575.2 1734.1 1576.4 1733.6 1578.7 1733.1C1581 1732.5 1583.7 1731.9 1586.2 1731.6C1588.7 1731.2 1591.3 1731 1593.8 1731C1596.3 1731 1598.8 1731.2 1601.3 1731.6C1603.8 1731.9 1606.5 1732.3 1608.8 1733.1C1611.2 1733.8 1614.4 1735.6 1615.5 1736.1L1615.5 1750.2L1153 1750.2Z" fill="#ea2a2f" fill-opacity="0.5" stroke="#ea2a2f" stroke-opacity="0.75" stroke-width="1"/>
<path d="M1153 1749.9C1163.7 1749.6 1196.2 1748.7 1216.9 1748.1C1237.6 1747.6 1257.1 1746.8 1277.2 1746.6C1297.3 1746.4 1317.4 1746.7 1337.5 1746.9C1357.6 1747.1 1382.7 1747.6 1397.8 1747.8C1412.9 1748 1417.9 1748.2 1428 1748.1C1438 1748 1448.1 1747.6 1458.1 1747.2C1468.2 1746.8 1478.2 1746.2 1488.3 1745.7C1498.3 1745.2 1509.4 1744.9 1518.4 1744.2C1527.4 1743.6 1535 1742.7 1542.5 1741.8C1550.1 1741 1558.1 1739.7 1563.6 1739.1C1569.1 1738.4 1572.2 1738.1 1575.7 1737.9C1579.2 1737.6 1581.2 1737.6 1584.7 1737.6C1588.2 1737.6 1592.8 1737.6 1596.8 1737.9C1600.8 1738.1 1605.7 1738.6 1608.8 1739.1C1612 1739.5 1614.4 1740.4 1615.5 1740.6L1615.5 1750.2L1153 1750.2Z" fill="#3c54a4" fill-opacity="0.5" stroke="#3c54a4" stroke-opacity="0.75" stroke-width="1"/>
<path d="M1153 1749.9C1193.8 1749.9 1347 1749.8 1397.8 1749.6C1448.7 1749.5 1443 1749.3 1458.1 1749C1473.2 1748.8 1478.2 1748.5 1488.3 1748.1C1498.3 1747.7 1509.4 1747.2 1518.4 1746.6C1527.4 1746 1535 1745.3 1542.5 1744.5C1550.1 1743.8 1558.1 1743 1563.6 1742.1C1569.1 1741.3 1572.2 1740.7 1575.7 1739.4C1579.2 1738.1 1582.2 1736.6 1584.7 1734.6C1587.2 1732.5 1589 1730.1 1590.8 1727C1592.5 1724 1593.9 1720.8 1595.3 1716.5C1596.7 1712.2 1597.9 1707 1599.2 1701.4C1600.5 1695.9 1601.7 1688.5 1602.8 1683.3C1603.9 1678.2 1604.9 1673.6 1605.8 1670.7C1606.7 1667.8 1607.5 1665.9 1608.2 1665.9C1609 1665.9 1609.6 1667.3 1610.4 1670.7C1611.1 1674.1 1611.8 1681.2 1612.5 1686.4C1613.1 1691.5 1613.8 1697.4 1614.3 1701.4C1614.8 1705.4 1615.3 1709 1615.5 1710.5L1615.5 1750.2L1153 1750.2Z" fill="#ffd600" fill-opacity="0.5" stroke="#ffd600" stroke-opacity="0.75" stroke-width="1"/>
<path d="M1153 1749.3C1156.1 1749 1166.1 1747.9 1171.7 1747.2C1177.3 1746.5 1181.8 1745.8 1186.8 1745.1C1191.8 1744.4 1196.8 1743.8 1201.9 1743C1206.9 1742.3 1212.4 1741.5 1216.9 1740.6C1221.5 1739.7 1225 1738.8 1229 1737.9C1233 1737 1237.5 1735.8 1241 1735.2C1244.6 1734.5 1247.6 1734.2 1250.1 1734C1252.6 1733.7 1253.6 1733.6 1256.1 1733.7C1258.6 1733.8 1261.6 1734.2 1265.2 1734.6C1268.7 1735 1272.7 1735.5 1277.2 1736.1C1281.7 1736.6 1287.3 1737.4 1292.3 1737.9C1297.3 1738.4 1302.3 1738.9 1307.4 1739.1C1312.4 1739.3 1317.4 1739 1322.4 1739.1C1327.5 1739.1 1333 1739.1 1337.5 1739.4C1342 1739.6 1345.6 1740.2 1349.6 1740.6C1353.6 1741.1 1358.1 1741.6 1361.6 1742.1C1365.2 1742.7 1368.2 1743.4 1370.7 1743.9C1373.2 1744.4 1373.7 1744.6 1376.7 1745.1C1379.7 1745.7 1383.7 1746.6 1388.8 1747.2C1393.8 1747.8 1400.3 1748.4 1406.9 1748.7C1413.4 1749.1 1393.2 1749.1 1428 1749.3C1462.7 1749.5 1584.2 1749.8 1615.5 1749.9L1615.5 1750.2L1153 1750.2Z" fill="#5bbd7b" fill-opacity="0.5" stroke="#5bbd7b" stroke-opacity="0.75" stroke-width="1"/>
<path d="M1643.5 1775.5C1644.6 1775.4 1647.9 1775.2 1650.2 1775.2C1652.5 1775.2 1655.3 1774.1 1657.5 1775.5C1659.7 1776.8 1661.7 1780.6 1663.4 1783.4C1665.1 1786.1 1666.7 1789.5 1667.8 1792.1C1668.8 1794.8 1669.4 1797 1669.8 1799.4C1670.2 1801.9 1670.3 1803.1 1670.1 1806.8C1669.9 1810.4 1669.3 1816 1668.6 1821.4C1668 1826.8 1666.7 1833.1 1666.3 1838.9C1665.9 1844.8 1666.1 1850.6 1666 1856.5C1665.9 1862.4 1666 1868.7 1665.7 1874.1C1665.5 1879.4 1664.9 1883.8 1664.5 1888.7C1664.2 1893.6 1663.9 1898.4 1663.4 1903.3C1662.9 1908.2 1662.1 1913.1 1661.6 1917.9C1661.1 1922.8 1660.6 1927.7 1660.4 1932.6C1660.3 1937.4 1660.6 1942.3 1660.7 1947.2C1660.9 1952.1 1661.1 1956.5 1661.3 1961.8C1661.5 1967.2 1662 1975 1661.9 1979.4C1661.8 1983.8 1661.2 1985.7 1660.7 1988.2C1660.3 1990.6 1659.8 1991.7 1659 1994C1658.2 1996.3 1657 1999.5 1656.1 2001.9C1655.1 2004.3 1654.2 2006.4 1653.1 2008.6C1652.1 2010.8 1650.9 2013.1 1649.9 2015.1C1648.9 2017 1648 2018.2 1647.3 2020.3C1646.5 2022.4 1646 2025.2 1645.5 2027.7C1645 2030.1 1644.7 2028.9 1644.4 2035C1644 2041.1 1643.6 2059.3 1643.5 2064.2L1643.5 2064.2L1643.5 1775.5Z" fill="#ea2a2f" fill-opacity="0.5" stroke="#ea2a2f" stroke-opacity="0.75" stroke-width="1"/>
<path d="M1643.5 1775.5C1643.7 1775.4 1644.5 1775.1 1644.9 1775.2C1645.3 1775.2 1645.5 1772.4 1645.8 1775.8C1646.2 1779.1 1646.6 1788.4 1647 1795.1C1647.3 1801.7 1647.6 1806.3 1647.9 1815.5C1648.2 1824.8 1648.5 1838.5 1648.7 1850.6C1649 1862.8 1649.4 1878.4 1649.6 1888.7C1649.9 1898.9 1650 1904.8 1650.2 1912.1C1650.4 1919.4 1650.6 1925.3 1650.8 1932.6C1650.9 1939.9 1650.9 1948.7 1651.1 1956C1651.3 1963.3 1651.3 1971.3 1652 1976.5C1652.6 1981.6 1653.7 1983.8 1654.9 1986.7C1656.1 1989.6 1657.3 1991.4 1659 1994C1660.6 1996.6 1662.9 1999.5 1664.8 2002.2C1666.8 2004.9 1669.1 2007.3 1670.7 2010.1C1672.2 2012.9 1673.2 2015.7 1674.2 2018.9C1675.2 2022 1676 2026.2 1676.5 2029.1C1677.1 2032 1677.3 2034 1677.4 2036.4C1677.5 2038.9 1677.4 2040.8 1677.1 2043.7C1676.8 2046.7 1676.2 2050.6 1675.7 2054C1675.1 2057.4 1674.4 2060.6 1673.6 2064.2C1672.8 2067.9 1671.7 2072 1670.7 2075.9C1669.7 2079.8 1668.7 2084 1667.8 2087.6C1666.8 2091.3 1665.8 2094.5 1664.8 2097.9C1663.9 2101.3 1662.9 2104.5 1661.9 2108.1C1660.9 2111.8 1660 2115.9 1659 2119.8C1658 2123.7 1657 2127.6 1656.1 2131.5C1655.1 2135.4 1654.1 2139.3 1653.1 2143.2C1652.2 2147.1 1651.1 2150.8 1650.2 2154.9C1649.3 2159.1 1648.6 2163.7 1647.9 2168.1C1647.1 2172.5 1646.5 2176.4 1645.8 2181.3C1645.1 2186.1 1643.9 2194.7 1643.5 2197.3L1643.5 2197.3L1643.5 1775.5Z" fill="#3c54a4" fill-opacity="0.5" stroke="#3c54a4" stroke-opacity="0.75" stroke-width="1"/>
<path d="M1643.5 1775.5C1646.5 1775.4 1655.9 1775.2 1661.9 1775.2C1667.9 1775.1 1674.1 1775.1 1679.5 1775.2C1684.8 1775.2 1688.7 1774.9 1694.1 1775.5C1699.5 1776 1706.3 1777.2 1711.6 1778.4C1717 1779.6 1722.1 1781.3 1726.3 1782.8C1730.4 1784.2 1735.8 1785.7 1736.5 1787.2C1737.2 1788.6 1734.3 1789.7 1730.7 1791.6C1727 1793.4 1719.7 1795.8 1714.6 1798C1709.5 1800.2 1704.8 1802.3 1699.9 1804.7C1695.1 1807.2 1689 1810.2 1685.3 1812.6C1681.7 1815 1679.9 1817.1 1678 1819.1C1676 1821 1675.1 1822.2 1673.6 1824.3C1672.1 1826.4 1670.4 1829.2 1669.2 1831.6C1668 1834.1 1667.3 1835.3 1666.3 1838.9C1665.3 1842.6 1664.3 1848.7 1663.4 1853.6C1662.4 1858.5 1661.4 1862.8 1660.4 1868.2C1659.5 1873.6 1658.5 1879.9 1657.5 1885.8C1656.5 1891.6 1655.5 1897.9 1654.6 1903.3C1653.7 1908.7 1653 1913.1 1652.3 1917.9C1651.5 1922.8 1650.8 1927.2 1650.2 1932.6C1649.6 1937.9 1648.9 1945.2 1648.5 1950.1C1648 1955 1647.7 1956.5 1647.3 1961.8C1646.9 1967.2 1646.5 1975 1646.1 1982.3C1645.7 1989.6 1645.3 1998.4 1644.9 2005.7C1644.6 2013 1644.3 2018.9 1644.1 2026.2C1643.8 2033.5 1643.6 2045.7 1643.5 2049.6L1643.5 2049.6L1643.5 1775.5Z" fill="#ffd600" fill-opacity="0.5" stroke="#ffd600" stroke-opacity="0.75" stroke-width="1"/>
<path d="M1643.5 1950.1C1643.6 1953 1643.9 1962.3 1644.4 1967.7C1644.8 1973 1645.1 1978.2 1646.1 1982.3C1647.1 1986.5 1648.5 1989.6 1650.2 1992.5C1651.9 1995.5 1653.9 1997.6 1656.1 1999.9C1658.3 2002.2 1660.9 2003.9 1663.4 2006.3C1665.8 2008.7 1668.6 2010.9 1670.7 2014.5C1672.7 2018 1674.2 2023.3 1675.7 2027.7C1677.1 2032 1678.2 2036.4 1679.5 2040.8C1680.7 2045.2 1682 2049.6 1683 2054C1683.9 2058.4 1685 2063.9 1685.3 2067.2C1685.7 2070.4 1685.3 2071.6 1685 2073.6C1684.8 2075.5 1684.6 2076.5 1683.9 2078.9C1683.1 2081.2 1681.6 2084.7 1680.3 2087.6C1679.1 2090.6 1677.9 2093.5 1676.5 2096.4C1675.2 2099.3 1673.6 2102.3 1672.1 2105.2C1670.7 2108.1 1669.2 2110.5 1667.8 2114C1666.3 2117.4 1664.8 2121.8 1663.4 2125.7C1661.9 2129.6 1660.3 2133.5 1659 2137.4C1657.6 2141.3 1656.4 2145.2 1655.2 2149.1C1654 2153 1652.8 2156.9 1651.7 2160.8C1650.5 2164.7 1649.4 2168.6 1648.5 2172.5C1647.5 2176.4 1646.6 2180 1645.8 2184.2C1645 2188.3 1643.9 2195.1 1643.5 2197.3L1643.5 2197.3L1643.5 1950.1Z" fill="#5bbd7b" fill-opacity="0.5" stroke="#5bbd7b" stroke-opacity="0.75" stroke-width="1"/>
<path d="M1325.5 1822.5h.01m4 -18h-.01m7 62h.01m8 -15h-.01m0 -16h.01m3 23h-.01m0 32h.01m1 45h-.01m0 -111h.01m1 49h-.01m3 -7h.01m2 -41h-.01m1 87h.01m1 -75h-.01m3 99h.01m1 -87h-.01m1 63h.01m2 39h-.01m3 -159h.01m1 199h-.01m1 -7h.01m0 -60h-.01m3 -142h.01m1 96h-.01m0 99h.01m2 -110h-.01m2 -52h.01m0 100h-.01m0 -112h.01m2 -6h-.01m0 116h.01m1 -59h-.01m1 -60h.01m0 162h-.01m1 -75h.01m0 -10h-.01m2 55h.01m0 -104h-.01m0 34h.01m0 77h-.01m1 -92h.01m0 -42h-.01m1 -10h.01m0 121h-.01m1 85h.01m0 -194h-.01m0 66h.01m1 80h-.01m0 -107h.01m1 -26h-.01m0 27h.01m1 150h-.01m0 -168h.01m1 65h-.01m0 73h.01m2 -19h-.01m2 -119h.01m1 42h-.01m1 9h.01m1 53h-.01m1 -89h.01m1 143h-.01m1 3h.01m1 -167h-.01m0 -10h.01m1 85h-.01m0 -106h.01m0 172h-.01m1 -137h.01m0 -3h-.01m2 17h.01m0 155h-.01m1 -142h.01m1 91h-.01m1 -117h.01m0 5h-.01m1 -27h.01m0 41h-.01m0 40h.01m1 -86h-.01m0 6h.01m0 8h-.01m1 135h.01m0 -11h-.01m0 -123h.01m0 -8h-.01m1 181h.01m0 -118h-.01m0 -81h.01m0 85h-.01m0 104h.01m1 -144h-.01m0 -43h.01m0 151h-.01m1 -59h.01m1 59h-.01m0 -136h.01m0 170h-.01m0 -72h.01m2 14h-.01m0 13h.01m2 -9h-.01m1 -124h.01m1 62h-.01m0 -50h.01m1 -10h-.01m0 -16h.01m1 63h-.01m1 -54h.01m0 57h-.01m1 -46h.01m1 62h-.01m0 -76h.01m0 39h-.01m0 135h.01m1 -90h-.01m1 122h.01m0 -211h-.01m1 1h.01m0 128h-.01m1 -12h.01m1 40h-.01m1 -130h.01m0 85h-.01m0 12h.01m0 16h-.01m0 -83h.01m0 -19h-.01m0 44h.01m1 95h-.01m1 -176h.01m0 53h-.01m0 89h.01m1 -77h-.01m0 -44h.01m0 28h-.01m0 -9h.01m0 26h-.01m1 1h.01m1 -63h-.01m1 100h.01m0 -57h-.01m0 -19h.01m0 -20h-.01m0 110h.01m1 -8h-.01m0 13h.01m0 -75h-.01m1 -47h.01m1 135h-.01m0 52h.01m0 -168h-.01m1 76h.01m0 106h-.01m0 -78h.01m1 46h-.01m1 -41h.01m0 70h-.01m1 -59h.01m1 36h-.01m0 -168h.01m0 155h-.01m0 -161h.01m0 184h-.01m1 -167h.01m0 61h-.01m0 27h.01m0 20h-.01m0 -62h.01m0 -68h-.01m1 183h.01m0 -56h-.01m1 -87h.01m0 171h-.01m1 -181h.01m0 74h-.01m0 10h.01m0 -77h-.01m1 -26h.01m0 131h-.01m1 44h.01m1 -117h-.01m0 -62h.01m1 146h-.01m0 -145h.01m0 42h-.01m1 -11h.01m0 88h-.01m0 -32h.01m0 24h-.01m1 45h.01m0 -118h-.01m0 129h.01m0 -106h-.01m0 129h.01m1 -3h-.01m0 -195h.01m0 132h-.01m1 -38h.01m0 -53h-.01m0 73h.01m0 -2h-.01m1 6h.01m0 -93h-.01m0 31h.01m0 -51h-.01m1 144h.01m0 -86h-.01m0 -19h.01m0 -28h-.01m1 94h.01m0 29h-.01m1 -137h.01m0 127h-.01m1 -22h.01m1 -57h-.01m0 162h.01m0 -82h-.01m0 55h.01m0 -172h-.01m2 116h.01m1 -29h-.01m0 -57h.01m0 -36h-.01m1 178h.01m0 -30h-.01m1 -135h.01m1 -5h-.01m0 81h.01m0 -71h-.01m0 105h.01m1 -121h-.01m0 13h.01m0 177h-.01m1 -195h.01m0 132h-.01m1 -118h.01m0 101h-.01m1 -52h.01m0 -62h-.01m0 67h.01m0 68h-.01m0 -88h.01m0 110h-.01m0 -55h.01m0 60h-.01m1 -61h.01m0 -30h-.01m1 126h.01m0 9h-.01m0 -203h.01m1 17h-.01m0 24h.01m0 -3h-.01m0 -2h.01m0 6h-.01m1 12h.01m0 79h-.01m2 75h.01m0 -130h-.01m1 -11h.01m0 30h-.01m0 -42h.01m0 69h-.01m1 -42h.01m1 -89h-.01m0 35h.01m0 166h-.01m1 -176h.01m0 -24h-.01m0 58h.01m0 -61h-.01m1 206h.01m1 -130h-.01m0 -38h.01m0 -17h-.01m0 196h.01m1 -206h-.01m1 64h.01m0 78h-.01m0 -92h.01m0 129h-.01m0 -81h.01m0 13h-.01m1 -6h.01m0 53h-.01m0 -40h.01m1 -57h-.01m0 -1h.01m0 -56h-.01m0 92h.01m0 -100h-.01m1 103h.01m0 -58h-.01m0 63h.01m0 -35h-.01m1 1h.01m0 -52h-.01m0 99h.01m1 -119h-.01m0 47h.01m0 -34h-.01m0 127h.01m0 55h-.01m1 -25h.01m0 -179h-.01m0 11h.01m0 -5h-.01m0 24h.01m0 105h-.01m1 -23h.01m0 -109h-.01m0 150h.01m0 -97h-.01m0 143h.01m0 -138h-.01m1 132h.01m0 -81h-.01m0 -4h.01m0 3h-.01m0 -67h.01m0 -28h-.01m1 67h.01m0 -13h-.01m0 5h.01m0 -11h-.01m0 -18h.01m1 -17h-.01m0 8h.01m0 54h-.01m0 -68h.01m1 60h-.01m0 30h.01m0 -49h-.01m0 -4h.01m1 131h-.01m0 -34h.01m0 -140h-.01m0 22h.01m0 33h-.01m0 -53h.01m0 111h-.01m0 12h.01m1 -20h-.01m0 -6h.01m0 -104h-.01m0 -5h.01m0 102h-.01m0 -48h.01m1 -58h-.01m0 168h.01m0 -62h-.01m0 75h.01m0 -106h-.01m0 119h.01m1 -161h-.01m0 94h.01m0 -38h-.01m0 -17h.01m1 1h-.01m0 107h.01m0 -58h-.01m1 91h.01m0 -117h-.01m0 -6h.01m0 -17h-.01m0 3h.01m0 9h-.01m1 -57h.01m0 118h-.01m0 -109h.01m0 90h-.01m0 -55h.01m0 -45h-.01m0 -13h.01m0 178h-.01m1 -180h.01m0 24h-.01m0 9h.01m1 19h-.01m0 39h.01m0 -90h-.01m0 -15h.01m0 187h-.01m1 3h.01m0 -45h-.01m0 3h.01m0 -128h-.01m0 102h.01m0 -115h-.01m0 126h.01m1 -77h-.01m0 28h.01m0 -12h-.01m0 56h.01m0 -11h-.01m1 -119h.01m0 27h-.01m0 157h.01m0 29h-.01m1 -114h.01m0 -69h-.01m0 44h.01m0 78h-.01m0 23h.01m0 -156h-.01m0 134h.01m0 -77h-.01m1 90h.01m0 -50h-.01m0 -29h.01m1 92h-.01m0 -172h.01m0 43h-.01m0 -18h.01m0 38h-.01m0 16h.01m0 -71h-.01m0 122h.01m1 -35h-.01m0 -58h.01m0 12h-.01m0 63h.01m0 -82h-.01m0 143h.01m0 -131h-.01m0 48h.01m0 12h-.01m0 42h.01m0 -148h-.01m0 130h.01m0 42h-.01m0 -153h.01m0 70h-.01m1 -28h.01m0 6h-.01m0 121h.01m0 -27h-.01m0 -137h.01m0 139h-.01m0 -138h.01m1 96h-.01m0 -100h.01m0 -9h-.01m0 21h.01m0 -18h-.01m0 26h.01m0 -13h-.01m0 31h.01m1 4h-.01m0 -29h.01m0 76h-.01m0 -84h.01m0 -13h-.01m0 114h.01m0 29h-.01m0 33h.01m0 -119h-.01m0 20h.01m1 -54h-.01m0 -38h.01m0 97h-.01m0 87h.01m0 -107h-.01m0 -58h.01m1 19h-.01m0 -28h.01m0 79h-.01m0 -31h.01m1 -18h-.01m0 78h.01m0 -40h-.01m0 23h.01m0 -97h-.01m0 103h.01m1 -44h-.01m0 119h.01m0 -175h-.01m0 78h.01m0 -48h-.01m0 -36h.01m1 51h-.01m0 48h.01m0 -39h-.01m0 -19h.01m0 86h-.01m0 -97h.01m0 67h-.01m0 18h.01m0 -5h-.01m0 -27h.01m1 -75h-.01m0 57h.01m0 -10h-.01m0 -36h.01m0 101h-.01m0 -91h.01m0 62h-.01m0 -20h.01m1 -49h-.01m0 -15h.01m0 82h-.01m0 -21h.01m0 -70h-.01m0 195h.01m0 -179h-.01m0 49h.01m1 -47h-.01m0 104h.01m0 5h-.01m0 -44h.01m0 -62h-.01m1 40h.01m0 -22h-.01m0 87h.01m0 -29h-.01m0 23h.01m0 -64h-.01m0 -49h.01m0 182h-.01m1 -91h.01m0 -35h-.01m0 157h.01m0 -145h-.01m0 -16h.01m0 153h-.01m0 -162h.01m0 125h-.01m1 -130h.01m0 20h-.01m0 68h.01m1 -79h-.01m0 29h.01m0 -70h-.01m0 13h.01m0 1h-.01m0 16h.01m0 -6h-.01m0 -27h.01m1 8h-.01m0 11h.01m0 -13h-.01m0 161h.01m1 -134h-.01m0 39h.01m0 -42h-.01m0 27h.01m0 -55h-.01m0 47h.01m0 5h-.01m1 -8h.01m1 15h-.01m0 -36h.01m0 102h-.01m0 -47h.01m0 -67h-.01m1 -6h.01m0 28h-.01m0 32h.01m0 61h-.01m0 -31h.01m0 -31h-.01m0 52h.01m0 -91h-.01m0 80h.01m1 -84h-.01m0 65h.01m0 -16h-.01m0 -78h.01m0 86h-.01m0 -70h.01m0 27h-.01m1 -1h.01m0 46h-.01m0 -44h.01m0 48h-.01m0 26h.01m0 -95h-.01m0 -25h.01m0 59h-.01m0 67h.01m0 -127h-.01m1 123h.01m0 -57h-.01m0 9h.01m0 -15h-.01m0 68h.01m0 69h-.01m0 -115h.01m0 44h-.01m1 -104h.01m0 82h-.01m0 88h.01m0 -175h-.01m0 88h.01m0 -33h-.01m0 104h.01m0 -174h-.01m0 19h.01m1 35h-.01m0 1h.01m0 -45h-.01m0 168h.01m0 -131h-.01m0 32h.01m0 24h-.01m0 -100h.01m0 4h-.01m0 34h.01m1 55h-.01m0 -26h.01m0 -73h-.01m0 32h.01m0 27h-.01m0 66h.01m0 -82h-.01m0 -35h.01m0 30h-.01m0 119h.01m0 47h-.01m0 -197h.01m1 60h-.01m0 -30h.01m0 129h-.01m0 -6h.01m0 -129h-.01m0 31h.01m0 96h-.01m0 -152h.01m0 14h-.01m0 75h.01m1 -14h-.01m0 127h.01m0 -202h-.01m0 76h.01m0 -23h-.01m0 5h.01m1 102h-.01m0 -108h.01m0 110h-.01m0 -168h.01m0 196h-.01m0 -170h.01m0 50h-.01m0 -9h.01m0 -37h-.01m0 106h.01m0 -79h-.01m0 17h.01m0 -73h-.01m0 30h.01m0 -23h-.01m0 30h.01m0 -24h-.01m1 82h.01m0 -79h-.01m0 -11h.01m0 72h-.01m0 -62h.01m0 17h-.01m0 17h.01m0 47h-.01m0 46h.01m1 -135h-.01m0 58h.01m0 -17h-.01m0 -40h.01m0 90h-.01m1 59h.01m0 -145h-.01m0 97h.01m0 9h-.01m0 -95h.01m0 29h-.01m0 72h.01m0 -29h-.01m0 -19h.01m1 -50h-.01m0 -14h.01m0 17h-.01m0 23h.01m0 3h-.01m0 -51h.01m0 38h-.01m0 131h.01m0 -63h-.01m0 -62h.01m1 1h-.01m0 -30h.01m0 91h-.01m0 -21h.01m0 30h-.01m0 -111h.01m0 57h-.01m0 -49h.01m1 40h-.01m0 16h.01m0 41h-.01m0 1h.01m0 -20h-.01m0 -76h.01m0 19h-.01m0 1h.01m0 -17h-.01m0 52h.01m0 83h-.01m0 -147h.01m0 59h-.01m1 -41h.01m0 103h-.01m0 -83h.01m0 49h-.01m0 -34h.01m0 40h-.01m0 3h.01m0 69h-.01m0 -139h.01m0 26h-.01m0 -13h.01m0 75h-.01m1 8h.01m0 -52h-.01m0 -34h.01m0 88h-.01m0 -46h.01m0 72h-.01m0 12h.01m0 -125h-.01m0 7h.01m0 -24h-.01m0 103h.01m0 -72h-.01m1 -13h.01m0 -27h-.01m0 149h.01m0 -154h-.01m0 136h.01m0 -103h-.01m0 115h.01m0 -120h-.01m0 157h.01m0 -30h-.01m0 46h.01m0 -71h-.01m0 -132h.01m0 31h-.01m1 33h.01m0 -60h-.01m0 61h.01m0 -74h-.01m0 21h.01m0 108h-.01m0 -62h.01m0 41h-.01m0 -104h.01m0 4h-.01m0 -13h.01m0 11h-.01m0 85h.01m1 -24h-.01m0 90h.01m0 -99h-.01m0 44h.01m0 -100h-.01m0 80h.01m0 -43h-.01m0 16h.01m0 140h-.01m0 -161h.01m0 96h-.01m0 -82h.01m0 93h-.01m0 -45h.01m0 -11h-.01m0 -11h.01m0 -2h-.01m0 -28h.01m0 107h-.01m0 -145h.01m0 159h-.01m1 -105h.01m0 -30h-.01m0 68h.01m0 -66h-.01m0 4h.01m0 51h-.01m0 -21h.01m0 -61h-.01m0 143h.01m0 -59h-.01m0 -20h.01m0 36h-.01m0 -23h.01m1 -70h-.01m0 -5h.01m0 58h-.01m0 -17h.01m0 133h-.01m0 -151h.01m0 3h-.01m0 99h.01m0 -53h-.01m0 98h.01m0 -133h-.01m0 -12h.01m0 -23h-.01m1 66h.01m0 -49h-.01m0 52h.01m0 -29h-.01m0 136h.01m0 -163h-.01m0 7h.01m0 97h-.01m0 -59h.01m0 129h-.01m1 -108h.01m0 122h-.01m0 -194h.01m0 196h-.01m0 -181h.01m0 69h-.01m0 -100h.01m0 93h-.01m1 28h.01m0 -83h-.01m0 -33h.01m0 131h-.01m0 -58h.01m0 -21h-.01m0 55h.01m0 8h-.01m0 -21h.01m1 -98h-.01m0 59h.01m0 50h-.01m0 -27h.01m0 16h-.01m0 59h.01m0 -49h-.01m0 -74h.01m0 67h-.01m0 -4h.01m0 71h-.01m0 -173h.01m0 91h-.01m0 93h.01m0 -107h-.01m0 -59h.01m0 103h-.01m0 -33h.01m0 -67h-.01m0 75h.01m0 -85h-.01m0 17h.01m0 20h-.01m0 33h.01m0 -66h-.01m1 104h.01m0 9h-.01m0 -60h.01m0 7h-.01m0 -75h.01m0 135h-.01m0 -99h.01m0 -19h-.01m0 123h.01m0 -118h-.01m0 99h.01m0 -117h-.01m0 -3h.01m0 66h-.01m0 7h.01m0 -1h-.01m1 -39h.01m0 -21h-.01m0 61h.01m0 80h-.01m0 -90h.01m0 -48h-.01m0 13h.01m0 -23h-.01m0 85h.01m0 -2h-.01m0 -68h.01m0 58h-.01m0 -14h.01m0 -43h-.01m0 6h.01m0 112h-.01m0 -126h.01m0 -4h-.01m0 47h.01m0 107h-.01m1 -52h.01m0 -73h-.01m0 -16h.01m0 81h-.01m0 -67h.01m0 78h-.01m0 20h.01m0 -94h-.01m0 22h.01m0 -41h-.01m0 -3h.01m0 86h-.01m0 -89h.01m0 71h-.01m0 82h.01m0 -97h-.01m1 -34h.01m0 -26h-.01m0 -13h.01m0 48h-.01m0 44h.01m0 -28h-.01m0 7h.01m0 -1h-.01m0 -1h.01m0 68h-.01m0 38h.01m0 -171h-.01m0 83h.01m0 -27h-.01m0 54h.01m0 -21h-.01m0 -53h.01m0 -26h-.01m0 17h.01m0 93h-.01m1 -28h.01m0 -9h-.01m0 -82h.01m0 42h-.01m0 26h.01m0 7h-.01m0 3h.01m0 -59h-.01m0 -8h.01m0 15h-.01m0 -30h.01m0 100h-.01m0 -30h.01m0 57h-.01m0 -8h.01m0 31h-.01m1 -112h.01m0 17h-.01m0 23h.01m0 3h-.01m0 82h.01m0 -25h-.01m0 -124h.01m0 -7h-.01m0 59h.01m0 11h-.01m0 123h.01m0 -188h-.01m0 187h.01m0 -151h-.01m0 -45h.01m0 129h-.01m0 -27h.01m0 -72h-.01m0 -13h.01m0 31h-.01m0 34h.01m0 67h-.01m1 -79h.01m0 39h-.01m0 -28h.01m0 27h-.01m0 -34h.01m0 4h-.01m0 77h.01m0 -110h-.01m0 55h.01m0 -28h-.01m0 93h.01m0 -123h-.01m0 124h.01m0 -168h-.01m0 159h.01m0 -64h-.01m0 -60h.01m0 -13h-.01m0 153h.01m0 -167h-.01m0 11h.01m1 71h-.01m0 -45h.01m0 104h-.01m0 -105h.01m0 -42h-.01m0 33h.01m0 -34h-.01m0 75h.01m0 -29h-.01m0 12h.01m0 4h-.01m0 -36h.01m0 -7h-.01m0 97h.01m0 -93h-.01m0 183h.01m0 -182h-.01m0 24h.01m0 9h-.01m0 63h.01m0 -46h-.01m0 79h.01m0 -121h-.01m0 -29h.01m1 162h-.01m0 -144h.01m0 8h-.01m0 94h.01m0 32h-.01m0 -63h.01m0 -68h-.01m0 70h.01m0 27h-.01m0 -117h.01m0 59h-.01m0 2h.01m0 26h-.01m0 -25h.01m0 -28h-.01m1 59h.01m0 -84h-.01m0 126h.01m0 -141h-.01m0 112h.01m0 -20h-.01m0 -41h.01m0 -20h-.01m0 22h.01m0 44h-.01m0 -55h.01m0 158h-.01m0 -181h.01m0 158h-.01m0 10h.01m0 -174h-.01m0 103h.01m0 -38h-.01m0 -9h.01m0 -12h-.01m0 72h.01m0 -53h-.01m0 48h.01m0 14h-.01m1 -8h.01m0 -74h-.01m0 92h.01m0 29h-.01m0 -142h.01m0 28h-.01m0 3h.01m0 60h-.01m0 -68h.01m0 4h-.01m0 117h.01m0 -114h-.01m0 63h.01m0 -73h-.01m0 50h.01m0 52h-.01m1 6h.01m0 19h-.01m0 -121h.01m0 -45h-.01m0 68h.01m0 -69h-.01m0 -5h.01m0 76h-.01m0 70h.01m0 -151h-.01m0 141h.01m0 6h-.01m0 -18h.01m0 -69h-.01m0 -13h.01m0 143h-.01m0 -181h.01m0 -6h-.01m0 16h.01m1 56h-.01m0 23h.01m0 109h-.01m0 -205h.01m0 -4h-.01m0 157h.01m0 -137h-.01m0 155h.01m0 -83h-.01m0 40h.01m0 -73h-.01m0 17h.01m0 -53h-.01m0 122h.01m0 -81h-.01m0 25h.01m0 -75h-.01m0 124h.01m0 -70h-.01m0 134h.01m0 -159h-.01m0 60h.01m0 -33h-.01m1 7h.01m0 -9h-.01m0 29h.01m0 70h-.01m0 -19h.01m0 -126h-.01m0 18h.01m0 148h-.01m0 -157h.01m0 102h-.01m0 -97h.01m0 -24h-.01m0 23h.01m1 44h-.01m0 -13h.01m0 35h-.01m0 14h.01m0 57h-.01m0 -156h.01m0 15h-.01m0 13h.01m0 126h-.01m0 -174h.01m0 100h-.01m0 -99h.01m0 126h-.01m0 -98h.01m0 -13h-.01m0 36h.01m0 -30h-.01m1 85h.01m0 -65h-.01m0 45h.01m0 -46h-.01m0 96h.01m0 5h-.01m0 -48h.01m0 -25h-.01m0 116h.01m0 -184h-.01m0 101h.01m0 2h-.01m0 6h.01m0 -75h-.01m0 -12h.01m0 120h-.01m0 -3h.01m0 16h-.01m0 -31h.01m0 -17h-.01m0 -79h.01m0 173h-.01m0 -143h.01m0 96h-.01m0 -148h.01m0 76h-.01m0 55h.01m0 -106h-.01m0 164h.01m0 -95h-.01m0 31h.01m0 -127h-.01m0 110h.01m0 -23h-.01m0 14h.01m1 -9h-.01m0 -94h.01m0 133h-.01m0 5h.01m0 12h-.01m0 -111h.01m0 6h-.01m0 -22h.01m0 37h-.01m0 -2h.01m0 -32h-.01m0 -19h.01m0 151h-.01m0 -9h.01m0 19h-.01m0 -69h.01m0 58h-.01m0 -145h.01m0 -9h-.01m0 193h.01m0 -72h-.01m0 -6h.01m0 -16h-.01m0 8h.01m0 74h-.01m0 -138h.01m0 -13h-.01m0 -15h.01m0 -2h-.01m0 71h.01m0 94h-.01m0 -56h.01m1 -80h-.01m0 50h.01m0 -17h-.01m0 -21h.01m0 39h-.01m0 -87h.01m0 9h-.01m0 193h.01m0 -78h-.01m0 -9h.01m0 26h-.01m0 27h.01m0 -142h-.01m0 13h.01m0 105h-.01m0 -2h.01m0 -114h-.01m0 -38h.01m0 48h-.01m0 57h.01m0 -83h-.01m0 53h.01m0 -47h-.01m0 95h.01m0 -86h-.01m0 10h.01m0 -42h-.01m0 119h.01m1 -53h-.01m0 -30h.01m0 85h-.01m0 -106h.01m0 120h-.01m0 2h.01m0 -107h-.01m0 28h.01m0 -19h-.01m0 52h.01m0 -86h-.01m0 -10h.01m0 48h-.01m0 -45h.01m0 204h-.01m0 1h.01m0 -192h-.01m0 10h.01m0 143h-.01m0 -5h.01m0 23h-.01m0 -145h.01m1 -31h-.01m0 -2h.01m0 47h-.01m0 19h.01m0 -26h-.01m0 -24h.01m0 80h-.01m0 -38h.01m0 -43h-.01m0 128h.01m0 -146h-.01m0 42h.01m0 96h-.01m0 -20h.01m0 -32h-.01m0 -79h.01m0 134h-.01m0 -51h.01m0 -59h-.01m0 74h.01m0 24h-.01m0 -117h.01m0 46h-.01m1 83h.01m0 -20h-.01m0 -89h.01m0 153h-.01m0 -92h.01m0 86h-.01m0 -85h.01m0 -48h-.01m0 149h.01m0 -108h-.01m0 11h.01m0 56h-.01m0 -130h.01m0 35h-.01m0 132h.01m0 -61h-.01m0 -4h.01m0 -132h-.01m0 19h.01m0 47h-.01m0 -11h.01m0 9h-.01m0 -42h.01m0 -15h-.01m0 19h.01m0 141h-.01m1 -83h.01m0 34h-.01m0 -36h.01m0 -16h-.01m0 42h.01m0 -41h-.01m0 106h.01m0 -127h-.01m0 165h.01m0 -172h-.01m0 -5h.01m0 42h-.01m0 94h.01m0 40h-.01m0 -141h.01m0 75h-.01m0 -123h.01m0 107h-.01m0 -78h.01m0 -38h-.01m0 -8h.01m0 118h-.01m0 -100h.01m0 40h-.01m0 25h.01m0 19h-.01m0 8h.01m0 54h-.01m0 -47h.01m0 -43h-.01m0 -48h.01m0 96h-.01m0 -88h.01m0 124h-.01m0 38h.01m1 -85h-.01m0 29h.01m0 -103h-.01m0 41h.01m0 -39h-.01m0 100h.01m0 -84h-.01m0 -36h.01m0 137h-.01m0 -162h.01m0 120h-.01m0 -80h.01m0 -16h-.01m0 88h.01m0 -82h-.01m0 -27h.01m0 4h-.01m0 145h.01m0 -81h-.01m0 32h.01m0 71h-.01m0 -48h.01m0 -50h-.01m0 43h.01m0 63h-.01m0 -41h.01m0 -48h-.01m0 -89h.01m0 117h-.01m0 -65h.01m0 18h-.01m0 117h.01m0 -21h-.01m0 -124h.01m0 81h-.01m0 30h.01m0 -143h-.01m0 121h.01m0 -10h-.01m0 -96h.01m1 -27h-.01m0 14h.01m0 74h-.01m0 46h.01m0 -16h-.01m0 -84h.01m0 -13h-.01m0 93h.01m0 59h-.01m0 -65h.01m0 -35h-.01m0 -68h.01m0 184h-.01m0 -139h.01m0 75h-.01m0 -81h.01m0 26h-.01m0 8h.01m0 -20h-.01m0 34h.01m0 19h-.01m0 -60h.01m0 13h-.01m0 15h.01m0 26h-.01m0 -72h.01m0 49h-.01m0 -80h.01m0 82h-.01m0 75h.01m0 9h-.01m0 19h.01m0 -44h-.01m0 -20h.01m0 -101h-.01m0 102h.01m0 -25h-.01m0 -71h.01m0 181h-.01m0 -74h.01m0 20h-.01m0 -74h.01m1 57h-.01m0 45h.01m0 -74h-.01m0 -6h.01m0 -41h-.01m0 111h.01m0 12h-.01m0 -3h.01m0 -173h-.01m0 170h.01m0 -161h-.01m0 79h.01m0 -34h-.01m0 56h.01m0 -33h-.01m0 -65h.01m0 39h-.01m0 -61h.01m0 168h-.01m0 -95h.01m0 5h-.01m0 95h.01m0 -81h-.01m0 110h.01m0 -194h-.01m0 135h.01m0 71h-.01m0 -121h.01m0 23h-.01m0 56h.01m0 -66h-.01m0 -90h.01m0 64h-.01m1 28h.01m0 16h-.01m0 -3h.01m0 -6h-.01m0 -30h.01m0 24h-.01m0 60h.01m0 -75h-.01m0 83h.01m0 34h-.01m0 -27h.01m0 -167h-.01m0 52h.01m0 136h-.01m0 -201h.01m0 89h-.01m0 -48h.01m0 17h-.01m0 83h.01m0 -43h-.01m0 47h.01m0 -11h-.01m0 -128h.01m0 8h-.01m0 130h.01m0 -147h-.01m0 22h.01m0 127h-.01m0 -107h.01m0 5h-.01m0 -7h.01m0 -21h-.01m0 67h.01m0 19h-.01m0 49h.01m0 -142h-.01m1 175h.01m0 -98h-.01m0 -80h.01m0 43h-.01m0 68h.01m0 64h-.01m0 -99h.01m0 53h-.01m0 -104h.01m0 112h-.01m0 -68h.01m0 -22h-.01m0 -30h.01m0 154h-.01m0 -20h.01m0 -87h-.01m0 -63h.01m0 6h-.01m0 70h.01m0 42h-.01m0 -111h.01m0 142h-.01m0 -4h.01m0 -58h-.01m0 -34h.01m0 -48h-.01m0 33h.01m0 32h-.01m0 -76h.01m0 101h-.01m0 -67h.01m0 84h-.01m1 60h.01m0 -87h-.01m0 89h.01m0 -168h-.01m0 92h.01m0 65h-.01m0 -62h.01m0 19h-.01m0 7h.01m0 -55h-.01m0 -43h.01m0 -6h-.01m0 121h.01m0 -108h-.01m0 8h.01m0 115h-.01m0 26h.01m0 -186h-.01m0 165h.01m0 22h-.01m0 -113h.01m0 24h-.01m0 15h.01m0 -13h-.01m0 -4h.01m0 45h-.01m0 67h.01m0 -31h-.01m0 -99h.01m0 71h-.01m0 -74h.01m0 73h-.01m0 -13h.01m0 -74h-.01m0 34h.01m0 -6h-.01m0 -31h.01m0 46h-.01m0 39h.01m0 -12h-.01m0 -127h.01m0 155h-.01m1 -93h.01m0 -35h-.01m0 -29h.01m0 40h-.01m0 -12h.01m0 -23h-.01m0 145h.01m0 -35h-.01m0 -106h.01m0 134h-.01m0 -17h.01m0 12h-.01m0 45h.01m0 -131h-.01m0 -11h.01m0 -20h-.01m0 -22h.01m0 156h-.01m0 -99h.01m0 -43h-.01m0 33h.01m0 8h-.01m0 -52h.01m0 6h-.01m0 29h.01m0 -7h-.01m0 141h.01m0 -25h-.01m0 -132h.01m0 191h-.01m0 -33h.01m0 -146h-.01m0 -28h.01m0 135h-.01m1 -49h.01m0 24h-.01m0 -107h.01m0 2h-.01m0 -7h.01m0 132h-.01m0 -75h.01m0 111h-.01m0 -66h.01m0 78h-.01m0 -134h.01m0 18h-.01m0 91h.01m0 -133h-.01m0 46h.01m0 118h-.01m0 -126h.01m0 -26h-.01m0 74h.01m0 -30h-.01m0 47h.01m0 -69h-.01m0 81h.01m0 -2h-.01m0 -119h.01m0 79h-.01m0 10h.01m0 -42h-.01m0 -27h.01m0 135h-.01m0 -133h.01m0 -3h-.01m1 -39h.01m0 149h-.01m0 -44h.01m0 53h-.01m0 -58h.01m0 10h-.01m0 -87h.01m0 106h-.01m0 -122h.01m0 89h-.01m0 -35h.01m0 -22h-.01m0 -43h.01m0 158h-.01m0 -67h.01m0 54h-.01m0 -17h.01m0 9h-.01m0 -27h.01m0 104h-.01m0 -106h.01m0 10h-.01m0 -110h.01m0 61h-.01m0 -33h.01m0 173h-.01m0 -121h.01m0 -7h-.01m0 -9h.01m0 41h-.01m0 76h.01m0 -164h-.01m0 126h.01m0 -57h-.01m0 -63h.01m0 88h-.01m0 -37h.01m0 50h-.01m0 -130h.01m1 137h-.01m0 -96h.01m0 -13h-.01m0 76h.01m0 -20h-.01m0 -53h.01m0 112h-.01m0 -106h.01m0 8h-.01m0 21h.01m0 -67h-.01m0 88h.01m0 29h-.01m0 -67h.01m0 70h-.01m0 48h.01m0 -147h-.01m0 -13h.01m0 87h-.01m0 55h.01m0 -115h-.01m0 137h.01m0 9h-.01m0 -125h.01m0 -15h-.01m0 179h.01m0 -97h-.01m0 53h.01m0 -50h-.01m0 70h.01m0 -128h-.01m0 121h.01m0 -127h-.01m0 -57h.01m0 85h-.01m0 114h.01m0 -194h-.01m0 -8h.01m0 177h-.01m0 4h.01m0 -36h-.01m0 43h.01m1 -159h-.01m0 62h.01m0 49h-.01m0 -61h.01m0 129h-.01m0 -195h.01m0 197h-.01m0 -18h.01m0 -146h-.01m0 -50h.01m0 108h-.01m0 -57h.01m0 47h-.01m0 53h.01m0 -120h-.01m0 180h.01m0 -93h-.01m0 -15h.01m0 -45h-.01m0 -42h.01m0 78h-.01m0 63h.01m0 -57h-.01m0 -12h.01m0 19h-.01m0 17h.01m0 42h-.01m0 -39h.01m0 -52h-.01m0 98h.01m0 -145h-.01m0 125h.01m0 -93h-.01m0 85h.01m0 -10h-.01m0 -76h.01m0 -51h-.01m0 125h.01m0 -40h-.01m1 -28h.01m0 2h-.01m0 91h.01m0 -137h-.01m0 179h.01m0 -103h-.01m0 -92h.01m0 214h-.01m0 -100h.01m0 -58h-.01m0 31h.01m0 41h-.01m0 19h.01m0 -118h-.01m0 6h.01m0 58h-.01m0 49h.01m0 78h-.01m0 -183h.01m0 84h-.01m0 -54h.01m0 144h-.01m0 -121h.01m0 10h-.01m0 13h.01m0 -40h-.01m0 42h.01m0 -104h-.01m0 78h.01m0 -47h-.01m0 69h.01m0 60h-.01m0 -69h.01m0 76h-.01m0 -181h.01m0 160h-.01m0 -69h.01m0 -18h-.01m0 62h.01m0 37h-.01m0 34h.01m0 -48h-.01m0 -132h.01m0 176h-.01m0 -62h.01m0 -136h-.01m0 44h.01m0 103h-.01m1 -71h.01m0 75h-.01m0 -25h.01m0 12h-.01m0 4h.01m0 -112h-.01m0 69h.01m0 -59h-.01m0 65h.01m0 107h-.01m0 -23h.01m0 -192h-.01m0 45h.01m0 43h-.01m0 -59h.01m0 134h-.01m0 -21h.01m0 -117h-.01m0 13h.01m0 169h-.01m0 -203h.01m0 47h-.01m0 17h.01m0 81h-.01m0 -119h.01m0 77h-.01m0 -53h.01m0 107h-.01m0 -61h.01m0 64h-.01m0 -63h.01m0 -38h-.01m0 47h.01m0 -40h-.01m0 53h.01m0 32h-.01m0 39h.01m0 -8h-.01m0 -139h.01m0 70h-.01m0 58h.01m0 -170h-.01m0 85h.01m0 76h-.01m0 -93h.01m0 -7h-.01m0 38h.01m0 -18h-.01m0 -65h.01m0 7h-.01m0 84h.01m0 -94h-.01m0 79h.01m0 102h-.01m0 -69h.01m0 -69h-.01m0 58h.01m1 69h-.01m0 -102h.01m0 70h-.01m0 -2h.01m0 -110h-.01m0 31h.01m0 143h-.01m0 -98h.01m0 -112h-.01m0 116h.01m0 79h-.01m0 -37h.01m0 -47h-.01m0 66h.01m0 -14h-.01m0 -30h.01m0 9h-.01m0 -1h.01m0 -54h-.01m0 72h.01m0 -91h-.01m0 -66h.01m0 213h-.01m0 -110h.01m0 -22h-.01m0 -78h.01m0 93h-.01m0 -89h.01m0 19h-.01m0 -32h.01m0 86h-.01m0 -30h.01m0 25h-.01m0 8h.01m0 -59h-.01m0 92h.01m0 -16h-.01m0 -79h.01m0 70h-.01m0 -33h.01m0 -33h-.01m0 39h.01m0 47h-.01m0 -43h.01m0 54h-.01m0 14h.01m0 -64h-.01m0 104h.01m0 -86h-.01m0 -49h.01m1 22h-.01m0 124h.01m0 -139h-.01m0 127h.01m0 -167h-.01m0 108h.01m0 48h-.01m0 -153h.01m0 186h-.01m0 -98h.01m0 -95h-.01m0 37h.01m0 -44h-.01m0 64h.01m0 128h-.01m0 -108h.01m0 44h-.01m0 -90h.01m0 -16h-.01m0 67h.01m0 82h-.01m0 -37h.01m0 -16h-.01m0 86h.01m0 -78h-.01m0 -71h.01m0 -27h-.01m0 76h.01m0 -65h-.01m0 -9h.01m0 105h-.01m0 27h.01m0 -38h-.01m0 -74h.01m0 -34h-.01m0 5h.01m0 177h-.01m0 -56h.01m0 28h-.01m0 -69h.01m0 46h-.01m0 -112h.01m0 6h-.01m0 17h.01m1 27h-.01m0 99h.01m0 -43h-.01m0 38h.01m0 -37h-.01m0 -84h.01m0 14h-.01m0 -32h.01m0 118h-.01m0 -77h.01m0 -36h-.01m0 68h.01m0 -40h-.01m0 -54h.01m0 116h-.01m0 -35h.01m0 -64h-.01m0 159h.01m0 -14h-.01m0 -60h.01m0 4h-.01m0 34h.01m0 -5h-.01m0 -36h.01m0 48h-.01m0 -87h.01m0 16h-.01m0 -84h.01m0 54h-.01m0 -24h.01m0 106h-.01m0 -55h.01m0 -39h-.01m0 77h.01m0 -32h-.01m0 -12h.01m0 64h-.01m0 -84h.01m0 9h-.01m0 18h.01m0 -17h-.01m0 100h.01m0 11h-.01m0 -36h.01m0 -68h-.01m0 61h.01m0 26h-.01m0 -175h.01m0 34h-.01m1 -15h.01m0 95h-.01m0 -63h.01m0 -54h-.01m0 170h.01m0 -127h-.01m0 49h.01m0 3h-.01m0 -80h.01m0 89h-.01m0 -77h.01m0 130h-.01m0 -159h.01m0 100h-.01m0 48h.01m0 -82h-.01m0 94h.01m0 -28h-.01m0 -99h.01m0 -1h-.01m0 103h.01m0 -82h-.01m0 109h.01m0 -116h-.01m0 -35h.01m0 141h-.01m0 -50h.01m0 -77h-.01m0 -7h.01m0 104h-.01m0 -65h.01m0 82h-.01m0 -138h.01m0 41h-.01m0 45h.01m0 58h-.01m0 61h.01m0 -31h-.01m0 -66h.01m0 -94h-.01m0 108h.01m0 -8h-.01m0 -75h.01m0 40h-.01m0 -15h.01m0 -45h-.01m0 92h.01m0 34h-.01m0 -82h.01m0 21h-.01m1 -79h.01m0 165h-.01m0 -9h.01m0 39h-.01m0 -106h.01m0 56h-.01m0 -82h.01m0 -43h-.01m0 185h.01m0 -171h-.01m0 113h.01m0 -142h-.01m0 60h.01m0 107h-.01m0 -78h.01m0 66h-.01m0 -116h.01m0 104h-.01m0 -7h.01m0 -125h-.01m0 51h.01m0 71h-.01m0 -43h.01m0 32h-.01m0 2h.01m0 -96h-.01m0 60h.01m0 -54h-.01m0 150h.01m0 -63h-.01m0 44h.01m0 -130h-.01m0 3h.01m0 26h-.01m0 14h.01m0 32h-.01m0 -112h.01m0 20h-.01m0 28h.01m0 -54h-.01m0 125h.01m0 74h-.01m0 -18h.01m0 -69h-.01m0 -83h.01m0 141h-.01m0 -146h.01m0 -11h-.01m0 130h.01m0 -132h-.01m0 38h.01m0 -48h-.01m0 123h.01m0 -57h-.01m0 -35h.01m0 28h-.01m0 35h.01m0 -21h-.01m0 108h.01m0 -5h-.01m1 -140h.01m0 -6h-.01m0 31h.01m0 69h-.01m0 -33h.01m0 -70h-.01m0 87h.01m0 -94h-.01m0 153h.01m0 15h-.01m0 -83h.01m0 -68h-.01m0 51h.01m0 126h-.01m0 -134h.01m0 88h-.01m0 -72h.01m0 -93h-.01m0 156h.01m0 -36h-.01m0 -105h.01m0 57h-.01m0 -60h.01m0 151h-.01m0 -166h.01m0 219h-.01m0 -71h.01m0 -72h-.01m0 45h.01m0 -104h-.01m0 -12h.01m0 115h-.01m0 24h.01m0 -6h-.01m0 -97h.01m0 13h-.01m0 49h.01m0 -12h-.01m0 111h.01m0 -2h-.01m0 -69h.01m0 -66h-.01m0 82h.01m0 31h-.01m0 -15h.01m0 43h-.01m0 -154h.01m0 138h-.01m0 -4h.01m0 -128h-.01m0 99h.01m0 -122h-.01m0 49h.01m0 77h-.01m0 -116h.01m0 96h-.01m0 -25h.01m0 19h-.01m0 -114h.01m0 71h-.01m0 -5h.01m0 58h-.01m0 -18h.01m0 -20h-.01m0 -78h.01m0 37h-.01m0 149h.01m0 -121h-.01m1 75h.01m0 -160h-.01m0 12h.01m0 139h-.01m0 -115h.01m0 55h-.01m0 84h.01m0 -44h-.01m0 35h.01m0 -34h-.01m0 48h.01m0 -93h-.01m0 -19h.01m0 123h-.01m0 -111h.01m0 75h-.01m0 -70h.01m0 45h-.01m0 63h.01m0 -185h-.01m0 23h.01m0 107h-.01m0 44h.01m0 -54h-.01m0 -36h.01m0 -73h-.01m0 58h.01m0 -64h-.01m0 170h.01m0 -68h-.01m0 -76h.01m0 9h-.01m0 -20h.01m0 140h-.01m0 -66h.01m0 62h-.01m0 8h.01m0 -184h-.01m0 57h.01m0 71h-.01m0 37h.01m0 -63h-.01m0 -49h.01m0 -23h-.01m0 12h.01m0 -23h-.01m0 3h.01m0 36h-.01m0 58h.01m0 -102h-.01m1 176h.01m0 -74h-.01m0 68h.01m0 -99h-.01m0 -83h.01m0 173h-.01m0 -137h.01m0 182h-.01m0 -219h.01m0 64h-.01m0 -43h.01m0 7h-.01m0 -8h.01m0 113h-.01m0 -56h.01m0 109h-.01m0 27h.01m0 -197h-.01m0 109h.01m0 15h-.01m0 -137h.01m0 97h-.01m0 29h.01m0 -72h-.01m0 125h.01m0 9h-.01m0 -103h.01m0 114h-.01m0 -90h.01m0 11h-.01m0 -68h.01m0 61h-.01m0 -97h.01m0 119h-.01m0 27h.01m0 20h-.01m0 -64h.01m0 -36h-.01m0 -43h.01m0 31h-.01m0 53h.01m0 -16h-.01m0 -75h.01m0 111h-.01m0 7h.01m0 -5h-.01m0 -131h.01m0 124h-.01m0 -136h.01m0 203h-.01m0 -29h.01m0 -34h-.01m0 43h.01m0 -135h-.01m0 51h.01m0 -26h-.01m0 8h.01m0 66h-.01m0 -107h.01m0 136h-.01m0 -59h.01m0 10h-.01m0 -126h.01m0 19h-.01m0 19h.01m0 10h-.01m0 -2h.01m0 126h-.01m0 -91h.01m1 -77h-.01m0 38h.01m0 -23h-.01m0 12h.01m0 -14h-.01m0 134h.01m0 -154h-.01m0 125h.01m0 82h-.01m0 -71h.01m0 53h-.01m0 -128h.01m0 16h-.01m0 116h.01m0 4h-.01m0 -96h.01m0 37h-.01m0 -14h.01m0 -91h-.01m0 5h.01m0 -22h-.01m0 -11h.01m0 58h-.01m0 -62h.01m0 39h-.01m0 130h.01m0 -70h-.01m0 -72h.01m0 13h-.01m0 43h.01m0 60h-.01m0 -35h.01m0 -63h-.01m0 126h.01m0 29h-.01m0 -129h.01m0 61h-.01m0 22h.01m0 47h-.01m0 -62h.01m0 -126h-.01m0 184h.01m0 -22h-.01m0 -84h.01m0 -49h-.01m0 8h.01m0 -30h-.01m0 173h.01m0 -32h-.01m0 -43h.01m0 -8h-.01m0 -32h.01m0 -17h-.01m0 120h.01m0 -13h-.01m0 -35h.01m0 -61h-.01m0 43h.01m0 -61h-.01m0 -16h.01m0 140h-.01m1 -1h.01m0 -18h-.01m0 -52h.01m0 -44h-.01m0 -24h.01m0 -7h-.01m0 135h.01m0 -10h-.01m0 9h.01m0 33h-.01m0 -18h.01m0 -7h-.01m0 -28h.01m0 -74h-.01m0 -49h.01m0 41h-.01m0 -10h.01m0 -54h-.01m0 86h.01m0 -91h-.01m0 124h.01m0 12h-.01m0 -61h.01m0 62h-.01m0 -50h.01m0 -3h-.01m0 35h.01m0 78h-.01m0 -125h.01m0 95h-.01m0 -67h.01m0 96h-.01m0 -88h.01m0 82h-.01m0 -161h.01m0 53h-.01m0 -3h.01m0 -8h-.01m0 137h.01m0 -86h-.01m0 56h.01m0 -166h-.01m0 9h.01m0 135h-.01m0 -130h.01m0 167h-.01m0 -92h.01m0 -62h-.01m0 160h.01m0 -109h-.01m0 104h.01m0 -170h-.01m0 38h.01m0 154h-.01m0 -25h.01m0 31h-.01m0 -47h.01m0 -65h-.01m0 -90h.01m0 204h-.01m0 -82h.01m0 -39h-.01m0 -62h.01m0 24h-.01m0 -15h.01m0 71h-.01m0 84h.01m0 -44h-.01m0 -67h.01m0 56h-.01m0 -44h.01m0 40h-.01m1 45h.01m0 -91h-.01m0 -8h.01m0 119h-.01m0 -193h.01m0 4h-.01m0 9h.01m0 190h-.01m0 -171h.01m0 46h-.01m0 -90h.01m0 37h-.01m0 67h.01m0 -46h-.01m0 -22h.01m0 100h-.01m0 -19h.01m0 54h-.01m0 -152h.01m0 96h-.01m0 60h.01m0 4h-.01m0 -120h.01m0 -30h-.01m0 41h.01m0 78h-.01m0 -21h.01m0 -133h-.01m0 115h.01m0 21h-.01m0 -74h.01m0 49h-.01m0 -44h.01m0 85h-.01m0 -105h.01m0 113h-.01m0 -94h.01m0 110h-.01m0 -51h.01m0 23h-.01m0 -127h.01m0 197h-.01m0 -137h.01m0 -28h-.01m0 133h.01m0 -108h-.01m0 1h.01m0 61h-.01m0 66h.01m0 -55h-.01m0 -37h.01m0 66h-.01m0 2h.01m0 -174h-.01m0 87h.01m0 -76h-.01m0 29h.01m0 149h-.01m0 -81h.01m0 -55h-.01m0 48h.01m0 64h-.01m0 -121h.01m1 151h-.01m0 -161h.01m0 -10h-.01m0 106h.01m0 -62h-.01m0 106h.01m0 -179h-.01m0 106h.01m0 60h-.01m0 -86h.01m0 -48h-.01m0 -28h.01m0 20h-.01m0 97h.01m0 74h-.01m0 -162h.01m0 50h-.01m0 -58h.01m0 103h-.01m0 -3h.01m0 -103h-.01m0 44h.01m0 -57h-.01m0 95h.01m0 -63h-.01m0 46h.01m0 43h-.01m0 27h.01m0 -111h-.01m0 -9h.01m0 70h-.01m0 25h.01m0 -69h-.01m0 36h.01m0 57h-.01m0 16h.01m0 -158h-.01m0 163h.01m0 -130h-.01m0 -35h.01m0 -13h-.01m0 114h.01m0 23h-.01m0 -59h.01m0 13h-.01m0 22h.01m0 77h-.01m0 -71h.01m0 11h-.01m0 57h.01m0 -98h-.01m0 -80h.01m0 42h-.01m0 -29h.01m0 121h-.01m0 -51h.01m0 -36h-.01m0 55h.01m0 48h-.01m0 -63h.01m0 -53h-.01m0 -15h.01m0 191h-.01m0 -202h.01m0 68h-.01m0 59h.01m0 -4h-.01m0 -126h.01m0 -15h-.01m0 176h.01m0 14h-.01m0 -21h.01m0 3h-.01m1 19h.01m0 -107h-.01m0 48h.01m0 44h-.01m0 11h.01m0 -76h-.01m0 67h.01m0 -11h-.01m0 10h.01m0 -20h-.01m0 -34h.01m0 76h-.01m0 -30h.01m0 -131h-.01m0 169h.01m0 -124h-.01m0 14h.01m0 -92h-.01m0 43h.01m0 106h-.01m0 41h.01m0 16h-.01m0 -49h.01m0 -101h-.01m0 -45h.01m0 104h-.01m0 85h.01m0 -8h-.01m0 -123h.01m0 7h-.01m0 -74h.01m0 28h-.01m0 -22h.01m0 159h-.01m0 18h.01m0 -11h-.01m0 -91h.01m0 -48h-.01m0 68h.01m0 -106h-.01m0 -2h.01m0 10h-.01m0 173h.01m0 -39h-.01m0 -101h.01m0 97h-.01m0 -26h.01m0 12h-.01m0 -41h.01m0 80h-.01m0 -74h.01m0 52h-.01m0 -24h.01m0 66h-.01m0 33h.01m0 -93h-.01m0 -75h.01m0 105h-.01m0 -84h.01m0 80h-.01m0 -78h.01m0 61h-.01m0 41h.01m0 -82h-.01m0 -18h.01m0 98h-.01m0 -9h.01m0 48h-.01m0 -71h.01m0 -40h-.01m1 70h.01m0 -70h-.01m0 -14h.01m0 -38h-.01m0 96h.01m0 -25h-.01m0 -82h.01m0 20h-.01m0 95h.01m0 19h-.01m0 9h.01m0 -128h-.01m0 96h.01m0 -12h-.01m0 -34h.01m0 8h-.01m0 91h.01m0 -141h-.01m0 89h.01m0 -40h-.01m0 48h.01m0 -29h-.01m0 7h.01m0 24h-.01m0 4h.01m0 -62h-.01m0 32h.01m0 -77h-.01m0 -22h.01m0 54h-.01m0 86h.01m0 -78h-.01m0 -33h.01m0 116h-.01m0 -94h.01m0 -66h-.01m0 36h.01m0 -39h-.01m0 149h.01m0 -154h-.01m0 110h.01m0 -109h-.01m0 69h.01m0 -6h-.01m0 93h.01m0 10h-.01m0 -124h.01m0 71h-.01m0 50h.01m0 -155h-.01m0 194h.01m0 -38h-.01m0 30h.01m0 -10h-.01m0 -117h.01m0 137h-.01m0 -217h.01m0 16h-.01m0 46h.01m0 34h-.01m0 -3h.01m0 -12h-.01m0 71h.01m0 -39h-.01m0 54h.01m0 -23h-.01m0 34h.01m0 -153h-.01m0 66h.01m0 34h-.01m0 3h.01m0 77h-.01m0 -82h.01m0 -119h-.01m1 0h.01m0 73h-.01m0 89h.01m0 -126h-.01m0 20h.01m0 22h-.01m0 1h.01m0 -40h-.01m0 108h.01m0 -56h-.01m0 39h.01m0 69h-.01m0 2h.01m0 -141h-.01m0 48h.01m0 35h-.01m0 66h.01m0 -5h-.01m0 -109h.01m0 -77h-.01m0 36h.01m0 80h-.01m0 -52h.01m0 -77h-.01m0 72h.01m0 104h-.01m0 -9h.01m0 22h-.01m0 -40h.01m0 -50h-.01m0 -36h.01m0 89h-.01m0 -18h.01m0 20h-.01m0 -13h.01m0 23h-.01m0 -118h.01m0 131h-.01m0 -95h.01m0 16h-.01m0 -106h.01m0 52h-.01m0 58h.01m0 81h-.01m0 -100h.01m0 2h-.01m0 70h.01m0 -7h-.01m0 38h.01m0 -26h-.01m0 -81h.01m0 113h-.01m0 -27h.01m0 23h-.01m0 -7h.01m0 -68h-.01m0 19h.01m0 58h-.01m0 -67h.01m0 -82h-.01m0 24h.01m0 30h-.01m1 -98h.01m0 2h-.01m0 6h.01m0 129h-.01m0 -34h.01m0 104h-.01m0 -146h.01m0 -40h-.01m0 151h.01m0 -159h-.01m0 71h.01m0 94h-.01m0 27h.01m0 -7h-.01m0 -25h.01m0 -42h-.01m0 69h.01m0 -166h-.01m0 70h.01m0 93h-.01m0 -42h.01m0 -161h-.01m0 92h.01m0 -5h-.01m0 27h.01m0 87h-.01m0 -185h.01m0 114h-.01m0 -30h.01m0 94h-.01m0 -82h.01m0 42h-.01m0 -80h.01m0 102h-.01m0 -96h.01m0 79h-.01m0 -74h.01m0 -36h-.01m0 84h.01m0 -110h-.01m0 179h.01m0 -21h-.01m0 -61h.01m0 3h-.01m0 45h.01m0 -143h-.01m0 11h.01m0 152h-.01m0 -160h.01m0 4h-.01m0 158h.01m0 -148h-.01m0 24h.01m0 139h-.01m0 -13h.01m0 28h-.01m0 -187h.01m0 89h-.01m0 55h.01m0 -66h-.01m0 59h.01m0 -69h-.01m0 -83h.01m0 146h-.01m0 2h.01m0 -1h-.01m0 -88h.01m0 135h-.01m0 -197h.01m0 141h-.01m0 15h.01m0 14h-.01m0 -86h.01m0 54h-.01m0 -24h.01m0 22h-.01m0 -130h.01m1 115h-.01m0 -18h.01m0 -64h-.01m0 120h.01m0 -58h-.01m0 -53h.01m0 -37h-.01m0 3h.01m0 -10h-.01m0 127h.01m0 -112h-.01m0 66h.01m0 -98h-.01m0 185h.01m0 -31h-.01m0 -30h.01m0 29h-.01m0 -35h.01m0 27h-.01m0 -40h.01m0 74h-.01m0 -49h.01m0 53h-.01m0 -75h.01m0 38h-.01m0 -57h.01m0 58h-.01m0 -50h.01m0 42h-.01m0 64h.01m0 -29h-.01m0 12h.01m0 -80h-.01m0 95h.01m0 -131h-.01m0 106h.01m0 -162h-.01m0 82h.01m0 81h-.01m0 -4h.01m0 -143h-.01m0 35h.01m0 126h-.01m0 -82h.01m0 -107h-.01m0 100h.01m0 50h-.01m0 -11h.01m0 30h-.01m0 -51h.01m0 -35h-.01m0 95h.01m0 -171h-.01m0 33h.01m0 -7h-.01m0 96h.01m0 56h-.01m0 24h.01m0 -49h-.01m0 -105h.01m0 152h-.01m0 -172h.01m0 35h-.01m0 64h.01" stroke="#ffd700" stroke-width="6.1" stroke-linecap="round" fill="none"/>
<path d="M1335.5 1920h.01m0.5 12h-.01m0 -23.5h.01m9.5 -104.5h-.01m4 140.5h.01m0.5 -49h-.01m3 -13.5h.01m1 -77h-.01m1 1h.01m0 90h-.01m1.5 -75h.01m1 0h-.01m5 61.5h.01m0 -6h-.01m2 31h.01m4 -65h-.01m0.5 0h.01m2.5 91.5h-.01m0.5 -146h.01m1.5 -6h-.01m3.5 126h.01m9 -15.5h-.01m0.5 -32.5h.01m0.5 77h-.01m4 -24h.01m1 -14.5h-.01m0.5 -97.5h.01m4.5 44.5h-.01m1.5 35.5h.01m2.5 1.5h-.01m5 120h.01m4 -157.5h-.01m0 -59.5h.01m1.5 69.5h-.01m0.5 117h.01m0.5 -141.5h-.01m2 18h.01m1 105.5h-.01m1 -148h.01m1.5 114.5h-.01m3 39.5h.01m1 -179.5h-.01m1.5 19.5h.01m0.5 77h-.01m8 108h.01m0.5 -124.5h-.01m0.5 75h.01m0.5 6h-.01m0 44h.01m2.5 -61h-.01m8.5 -83h.01m3 107.5h-.01m0 -88.5h.01m1 5h-.01m1 -21h.01m0.5 29h-.01m1.5 -41.5h.01m1 9.5h-.01m0 1h.01m0 117.5h-.01m0.5 -22h.01m1 2h-.01m5 -44h.01m2 88h-.01m0.5 -61.5h.01m1.5 -96h-.01m2 -36h.01m3.5 91h-.01m3 -19h.01m0.5 -57h-.01m5 174h.01m0 16.5h-.01m0.5 -43.5h.01m8 -151.5h-.01m5 168.5h.01m6.5 -181.5h-.01m0.5 193h.01m1 -155h-.01m0 85h.01m6.5 -104h-.01m2 110h.01m2 -37.5h-.01m0.5 -42h.01m1 -14.5h-.01m3.5 16.5h.01m1.5 -0.5h-.01m1.5 142h.01m1 -120.5h-.01m1.5 139h.01m2.5 -57h-.01m2 -117h.01m1 8.5h-.01m0 29h.01m2 -56h-.01m1 80h.01m4 11h-.01m0 -49.5h.01m0.5 157h-.01m3 -145h.01m0 105h-.01m0 -34.5h.01m2 -136.5h-.01m0.5 16.5h.01m2 -11.5h-.01m3 72.5h.01m4 28h-.01m0.5 17h.01m1 -28.5h-.01m0 -88h.01m1.5 2h-.01m0.5 28h.01m0.5 -32h-.01m1.5 -12h.01m0.5 178h-.01m0.5 -151h.01m2 -13h-.01m0.5 58h.01m0.5 50.5h-.01m1 -17.5h.01m0.5 -59h-.01m1 75h.01m0.5 -47.5h-.01m1 -55.5h.01m0.5 141h-.01m2 18.5h.01m1 -146.5h-.01m2.5 110h.01m0.5 -1h-.01m0.5 33h.01m0.5 -33h-.01m2 -115h.01m1.5 -31.5h-.01m1 65h.01m0 -16h-.01m0.5 -20h.01m1.5 46.5h-.01m1 -74.5h.01m1 29h-.01m0 -10.5h.01m0 70h-.01m0.5 -42h.01m0 175h-.01m0.5 -39.5h.01m0.5 -105h-.01m0.5 -56h.01m0.5 66h-.01m0 33.5h.01m1 -45.5h-.01m0 -54h.01m0.5 34.5h-.01m1 -52h.01m0 130h-.01m0.5 -83h.01m1 33.5h-.01m1 -55.5h.01m1 192.5h-.01m1 -92.5h.01m0.5 43h-.01m0 -116h.01m0.5 81h-.01m0.5 -5.5h.01m0.5 79.5h-.01m0.5 -183.5h.01m0 32h-.01m0 -13h.01m1 168h-.01m0 -142.5h.01m0 -68h-.01m0 114h.01m0.5 59.5h-.01m0.5 -1h.01m0 -91h-.01m0.5 -30h.01m0.5 61.5h-.01m0 -77h.01m0 133h-.01m0.5 -82h.01m0 -70h-.01m0.5 177.5h.01m0 -134.5h-.01m0 -56h.01m0.5 208h-.01m0 -24.5h.01m0 -107h-.01m0.5 -70h.01m0 63h-.01m0 31h.01m0.5 -18h-.01m1 65h.01m0.5 -71.5h-.01m0.5 9h.01m0 -20.5h-.01m0 21h.01m0 10h-.01m1 -32.5h.01m0 96h-.01m0.5 -57h.01m0 74h-.01m0.5 -130.5h.01m0.5 8h-.01m0 141h.01m0.5 -11h-.01m0 19h.01m1 -145.5h-.01m0 -56.5h.01m0 124.5h-.01m0.5 5.5h.01m0 -36h-.01m0 -50h.01m0 102h-.01m0 -101h.01m0.5 106.5h-.01m1 24h.01m0.5 -8h-.01m0 -89h.01m0 60.5h-.01m1 -64.5h.01m0.5 -39.5h-.01m0 89h.01m0.5 -80h-.01m0 1.5h.01m0 161.5h-.01m0.5 -31h.01m0 -183h-.01m0.5 180.5h.01m0 -173.5h-.01m0.5 157h.01m0 41h-.01m0 -160h.01m0.5 -13h-.01m0 78h.01m0 -21h-.01m0 -41h.01m0.5 -32h-.01m1 40h.01m0 -43.5h-.01m0 148h.01m0 -158.5h-.01m0.5 80h.01m0 41.5h-.01m0.5 -53.5h.01m0.5 89h-.01m0 -106.5h.01m0 -52.5h-.01m0.5 119.5h.01m0 81h-.01m0.5 -176.5h.01m0 -16h-.01m0.5 114.5h.01m0 -3h-.01m0 -71.5h.01m0.5 18.5h-.01m0 62.5h.01m0 -121h-.01m0.5 167h.01m0 -42.5h-.01m0 -91.5h.01m0.5 27h-.01m0.5 42.5h.01m0 47.5h-.01m0 -140.5h.01m0.5 84.5h-.01m0 -94h.01m0 213h-.01" stroke="#ea2a2f" stroke-width="6.1" stroke-linecap="round" fill="none"/>
<path d="M1185 2004h.01m5 -178.5h-.01m4.5 -16h.01m0 25h-.01m4 96.5h.01m2 -151h-.01m5.5 148.5h.01m1.5 -27h-.01m3.5 79.5h.01m0.5 -151h-.01m4.5 79h.01m2 -10h-.01m0.5 102h.01m1.5 -25h-.01m2 -195h.01m0 16h-.01m0.5 117h.01m0.5 85.5h-.01m2.5 -84h.01m3 60.5h-.01m0 -185.5h.01m0.5 -1.5h-.01m2 139.5h.01m1 -115.5h-.01m3.5 3h.01m2 -18.5h-.01m0 35h.01m1 140.5h-.01m2.5 -69h.01m1 -74h-.01m0.5 110h.01m1.5 -106.5h-.01m0.5 133.5h.01m1.5 -140.5h-.01m0.5 93h.01m0.5 62.5h-.01m0.5 -2h.01m1.5 10.5h-.01m1.5 -145.5h.01m0.5 75.5h-.01m0 -58.5h.01m4 -19.5h-.01m2 77h.01m1.5 -2.5h-.01m1.5 -124h.01m0.5 179h-.01m1 -112h.01m1.5 117h-.01m1 -43.5h.01m1 -126.5h-.01m1 76h.01m1.5 -13.5h-.01m1.5 61.5h.01m2 -4.5h-.01m1.5 -42.5h.01m1.5 6.5h-.01m1.5 84.5h.01m0.5 9h-.01m1 -56.5h.01m1.5 64h-.01m0 -173.5h.01m5 74.5h-.01m0.5 -15h.01m0.5 7h-.01m1 -100h.01m0 129h-.01m0.5 -5.5h.01m1 -60.5h-.01m1 -18.5h.01m0 143.5h-.01m1.5 -25h.01m2.5 -103.5h-.01m0.5 -54h.01m1 206.5h-.01m0.5 -149h.01m0.5 -53.5h-.01m0.5 21.5h.01m0.5 58h-.01m0 -81h.01m0 161.5h-.01m1 -86h.01m0.5 -53.5h-.01m5.5 131.5h.01m1.5 -149h-.01m0 15h.01m1 171.5h-.01m1 -138h.01m0 16h-.01m0.5 117h.01m0 -47h-.01m3.5 87h.01m1.5 -25h-.01m1 122.5h.01m0.5 -177.5h-.01m0.5 -46h.01m1 202h-.01m0.5 -224h.01m1.5 -17.5h-.01m0.5 219.5h.01m0.5 -30h-.01m0 -123h.01m1 141h-.01m0.5 -254h.01m0.5 299.5h-.01m0.5 27h.01m0.5 -129h-.01m1 65h.01m1 7h-.01m0 -138h.01m1.5 207.5h-.01m2 -265h.01m0.5 -48h-.01m0 -23h.01m1.5 107.5h-.01m1.5 -119.5h.01m0.5 271.5h-.01m0 -1h.01m0 -30.5h-.01m2 46h.01m0.5 -67.5h-.01m0.5 -91h.01m0.5 -40h-.01m1 48h.01m0.5 -99.5h-.01m1 97.5h.01m2 139h-.01m1 -64h.01m1.5 -15h-.01m0 8h.01m2 -127.5h-.01m1 26.5h.01m0.5 -72.5h-.01m0.5 166.5h.01m0 -144h-.01m0.5 94.5h.01m0 141h-.01m0.5 -26h.01m0.5 -30.5h-.01m0 -213h.01m0.5 109.5h-.01m0 104.5h.01m0 96h-.01m0.5 -62.5h.01m0 -115.5h-.01m2 169h.01m0 -274h-.01m0.5 -59h.01m0 39h-.01m0.5 242.5h.01m0 -264h-.01m0 224h.01m0.5 -194h-.01m0 98.5h.01m0.5 107.5h-.01m0.5 101.5h.01m0 -219.5h-.01m0.5 -34.5h.01m0.5 118h-.01m0 45.5h.01m0.5 -36h-.01m0.5 -31.5h.01m1 38h-.01m0 67h.01m0.5 -235h-.01m0 217.5h.01m0.5 -16h-.01m0.5 -42.5h.01m0.5 77h-.01m0.5 -71.5h.01m0 36.5h-.01m1.5 15h.01m0.5 -144.5h-.01m1 96h.01m0.5 -27.5h-.01m0.5 39h.01m0.5 -80.5h-.01m1.5 12h.01m0 -75.5h-.01m0.5 -84h.01m0.5 249h-.01m0.5 30.5h.01m0 -176h-.01m0.5 3.5h.01m2.5 116.5h-.01m1 120.5h.01m0.5 -312.5h-.01m0 173h.01m0 115h-.01m3 -91.5h.01m0 26h-.01m0.5 -17h.01m1.5 18.5h-.01m0 -179h.01m0.5 -30h-.01m1.5 203.5h.01m0 63.5h-.01m0.5 -105.5h.01m0.5 -109h-.01m0 -53h.01m0.5 159h-.01m1.5 149.5h.01m0.5 -104.5h-.01m1 -104.5h.01m1 114.5h-.01m0.5 -146h.01m0 109h-.01m0 44h.01m2.5 -171h-.01m1.5 2h.01m0 13.5h-.01m1 152.5h.01m0.5 15.5h-.01m0.5 -95.5h.01m1 61h-.01m0 76.5h.01m0 -248.5h-.01m0 -51.5h.01m1 273h-.01m1 -62h.01m1 55h-.01m0 -236.5h.01m0 139h-.01m0.5 56h.01m0 -16.5h-.01m0 -234.5h.01m0.5 250.5h-.01m0 70.5h.01m1.5 -106.5h-.01m0 -90h.01m1 161.5h-.01m1 -108.5h.01m0 -136.5h-.01m0 -2h.01m0.5 43h-.01m1 117.5h.01m0 48h-.01m0.5 -18.5h.01m0.5 -211.5h-.01m0 236.5h.01m0 -78.5h-.01m1 148h.01m1 -56.5h-.01m0 84.5h.01m0 -317h-.01m0 235.5h.01m0.5 25.5h-.01m0 8.5h.01m0 -60.5h-.01m0 -244h.01m1 180h-.01m1.5 95.5h.01m0.5 -287.5h-.01m1 50.5h.01m0.5 121.5h-.01m0.5 -70.5h.01m0.5 130.5h-.01m2.5 45h.01m0.5 -174h-.01m0.5 217h.01m0.5 -39.5h-.01m0.5 52.5h.01m0.5 -59.5h-.01m0.5 -75.5h.01m0 66h-.01m0.5 -251h.01m0.5 364.5h-.01m0 -155.5h.01m0 143.5h-.01m1 -263.5h.01m0.5 175.5h-.01m1.5 -14.5h.01m1 51.5h-.01m0 -32h.01m2 62h-.01m1.5 -15h.01m0.5 -67h-.01m0.5 -36.5h.01m1 -23h-.01m0.5 139h.01m0.5 -101h-.01m0.5 -8h.01m1 -13.5h-.01m0 105.5h.01m1.5 -33.5h-.01m1 33.5h.01m0.5 -19.5h-.01m0.5 -12.5h.01m0.5 24h-.01m2 -56h.01m3.5 -29h-.01m2 35h.01m1 -56.5h-.01m0 31h.01m0.5 -21.5h-.01m0 -9.5h.01m1 52.5h-.01m0 -10.5h.01m0.5 -18h-.01m0.5 82.5h.01m0.5 7.5h-.01m0.5 -58.5h.01m2 -27h-.01m1 66h.01m1 -72h-.01m0.5 -11h.01m2 21.5h-.01m0 77.5h.01m1.5 -61.5h-.01m0 -12h.01m0 17h-.01m0.5 -32.5h.01m0.5 88h-.01m2 1h.01m0.5 43.5h-.01m0.5 -138h.01m0 87h-.01m0 -57.5h.01m1.5 -17.5h-.01m0 100.5h.01m0.5 12h-.01m0 -106h.01m0 25h-.01m0 -14.5h.01m0.5 14h-.01m2 59h.01m0 -109h-.01m1 46.5h.01m0.5 -24h-.01m0 -29h.01m1 29.5h-.01m0 59h.01m0.5 -47.5h-.01m1.5 47h.01m0.5 -47h-.01m0.5 118.5h.01m0.5 -143.5h-.01m0.5 109.5h.01m0 -81.5h-.01m1 -37h.01m0 -8.5h-.01m1 7.5h.01m0.5 143.5h-.01m0.5 -77h.01m1.5 -67h-.01m1 32.5h.01m1 108.5h-.01m0.5 -40h.01m4 -41h-.01m1.5 -54.5h.01m0 -4.5h-.01m2 64h.01m0.5 -6h-.01m0.5 -4.5h.01m0.5 41h-.01m1 -37.5h.01m1 47.5h-.01m0 -95.5h.01m1.5 15h-.01m0.5 61h.01m0.5 -96h-.01m0 54.5h.01m0.5 -26.5h-.01m0 107h.01m0.5 -119.5h-.01m0 93.5h.01m0.5 -100.5h-.01m1 56h.01m0.5 -57h-.01m2.5 34h.01m4 95.5h-.01m1.5 -116.5h.01m0 106.5h-.01m0.5 -14.5h.01m1 -17h-.01m1.5 62h.01m0 -112.5h-.01m1.5 23.5h.01m1.5 -3.5h-.01m0.5 -3.5h.01m1 -49.5h-.01m0.5 143h.01m1 -95.5h-.01m0 21h.01m0.5 -77.5h-.01m1.5 59h.01m0 66h-.01m1.5 -95.5h.01m0 133.5h-.01m0 -55.5h.01m0.5 -50h-.01m0.5 68h.01m0 -90h-.01m0.5 56.5h.01m1.5 -50h-.01m1 74h.01m0.5 -56h-.01m0.5 52h.01m0 -57.5h-.01m0.5 64.5h.01m2 30h-.01m0.5 -84h.01m0.5 48.5h-.01m0.5 -38h.01m0 83h-.01m3.5 -111h.01m0 -39.5h-.01m1 129.5h.01m0 -119h-.01m0.5 83.5h.01m2.5 5h-.01m0 -80h.01m0.5 55h-.01m1 -10h.01m0.5 32h-.01m0 -41.5h.01m0.5 97h-.01m0.5 -19.5h.01m0.5 -52h-.01m1 -29.5h.01m1 15.5h-.01m1 69.5h.01m1.5 -141.5h-.01m0 99.5h.01m0.5 -17h-.01m1 -50h.01m0.5 -22.5h-.01m0.5 54.5h.01m0 -36.5h-.01m1 5.5h.01m0.5 -15h-.01m0.5 -14h.01m0 51h-.01m0.5 -48.5h.01m0.5 61.5h-.01m1 43h.01m0 -49.5h-.01m1 -30h.01m0 38.5h-.01m0.5 12h.01m2 -1.5h-.01m1 -20h.01m0.5 -43h-.01m1 86h.01m0 -90h-.01m1 -9.5h.01m3 75.5h-.01m0.5 -31.5h.01m2.5 12h-.01m0.5 11h.01m0.5 78h-.01m0.5 -141h.01m1 156h-.01m1 -69.5h.01m0 29.5h-.01m1 -96h.01m0 44.5h-.01m1 18h.01m0.5 -60h-.01m0.5 47h.01m1 5.5h-.01m0 70h.01m0 -115.5h-.01m0.5 5.5h.01m0 44h-.01m0 -71h.01m0.5 63h-.01m1 -23h.01m0.5 9h-.01m0 -31h.01m0 50h-.01m0.5 -25.5h.01m0 31.5h-.01m0 -76h.01m0 16h-.01m0.5 83h.01m0 -28.5h-.01m0 -59h.01m0.5 55h-.01m0 -38h.01m0.5 61h-.01m0 -77h.01m0.5 3h-.01m0 68.5h.01m2 -80h-.01m0 -21h.01m1 1.5h-.01m1 58.5h.01m0 4h-.01m0 -64h.01m0.5 19h-.01m0 -12h.01m0 -11h-.01m1 44h.01m0.5 24h-.01m0.5 -52.5h.01m0.5 58.5h-.01m0 19h.01m1.5 31.5h-.01m0 -111h.01m0.5 -18h-.01m0.5 69h.01m0.5 57.5h-.01m0.5 -94h.01m0.5 97h-.01m0.5 -87.5h.01m0 78h-.01m0 -93.5h.01m0 83h-.01m1 -20h.01m0 -60.5h-.01m0.5 20h.01m0.5 -57h-.01m0.5 119h.01m0.5 42h-.01m0.5 -62h.01m0.5 0.5h-.01m0 -8h.01m1 28h-.01m0.5 8h.01m0.5 13.5h-.01m0 -99h.01m0 62h-.01m0.5 -9.5h.01m0 -12.5h-.01m0 54h.01m0 57.5h-.01m0 -166.5h.01m0 103.5h-.01m0.5 27.5h.01m1 -61h-.01m0 -6.5h.01m0.5 -30h-.01m0 41.5h.01m0.5 -18.5h-.01m0 -56h.01m0.5 47.5h-.01m0 14.5h.01m0.5 -52.5h-.01m0.5 88h.01m0.5 56.5h-.01m0.5 -143h.01m0 -11.5h-.01m0 -1.5h.01m0.5 54h-.01m0 -29h.01m0 101h-.01m0 -86h.01m0.5 90.5h-.01m0 -39h.01m0.5 -87.5h-.01m0 27.5h.01m0.5 52h-.01m0 -8h.01m0.5 -9h-.01m0 37.5h.01m0 -79.5h-.01m0 34.5h.01m0.5 -9.5h-.01m0 -9h.01m0.5 25.5h-.01m0 39h.01m0 -35h-.01m0 -62h.01m0 35h-.01m0 -23h.01m0.5 -5.5h-.01m0 5h.01m0.5 -4h-.01m0 51.5h.01m0 58h-.01m0 -114h.01m0 -18.5h-.01m0.5 132.5h.01m0 -129.5h-.01m0 57h.01m0 10h-.01m0.5 -20h.01m0 -47h-.01m0 103.5h.01m0.5 -69h-.01m0 -5.5h.01m0 44.5h-.01m0 -28h.01m0.5 -42h-.01m0 72h.01m0.5 -49.5h-.01m0 123.5h.01m0.5 -155.5h-.01m0.5 70h.01m0 -41h-.01m0.5 -27h.01m0 -1h-.01m0 108h.01m0.5 -17h-.01m0 72.5h.01m0 -144h-.01m0 82h.01m0.5 -15.5h-.01m0 -69h.01m0.5 21h-.01m0 -68h.01m0 104h-.01m0.5 79.5h.01m0 3.5h-.01m0 -50h.01m0 -52h-.01m0 -49h.01m0.5 58h-.01m0 -22h.01m0 30.5h-.01m0.5 85h.01m0 -26h-.01m0 -81h.01m0.5 57.5h-.01m0 -3h.01m0 -84h-.01m0 0.5h.01m0 97.5h-.01m0.5 -118h.01m0 12h-.01m0.5 10h.01m0 114h-.01m0 -98h.01m0 116.5h-.01m0.5 -151.5h.01m0 45.5h-.01m0 76h.01m0.5 -65h-.01m0 10h.01m0.5 70h-.01m0 -59h.01m0.5 33.5h-.01m0 4.5h.01m0 -88h-.01m0 118h.01m0 -119h-.01m0 83.5h.01m0 -105.5h-.01m0 148h.01m0.5 -62h-.01m0 -56.5h.01m0 80h-.01m0.5 18.5h.01m0 -58.5h-.01m0 -63.5h.01m0 13h-.01m0.5 21.5h.01m0 11.5h-.01m0 -61h.01m0 163h-.01m0.5 -51.5h.01m0 -81.5h-.01m0 51h.01m0.5 -85.5h-.01m0 114h.01m0 35.5h-.01m0 -91h.01m0 2.5h-.01m0.5 87h.01m0 -133h-.01m0 63.5h.01m0.5 59.5h-.01m0 -127h.01m0 19.5h-.01m0 17.5h.01m0.5 31.5h-.01m0 65.5h.01m0 -82.5h-.01m0.5 -75h.01m0 28.5h-.01m0 22.5h.01m0 44h-.01m0 -8.5h.01m0.5 54h-.01m0 -100.5h.01m0 56.5h-.01m0 -10.5h.01m0 37.5h-.01m0 -140h.01m0 91.5h-.01m0.5 22.5h.01m0 -15.5h-.01m0 -31h.01m0 39.5h-.01m0 -40.5h.01m0 -2h-.01m0.5 31.5h.01m0 -5.5h-.01m0 7h.01m0 32h-.01m0 -85h.01m0.5 12h-.01m0 94h.01m0 -107.5h-.01m0 18h.01m0 76h-.01m0.5 -83.5h.01m0 20h-.01m0 3.5h.01m0.5 24h-.01m0 -3.5h.01m0 -46h-.01m0 -47.5h.01m0 143.5h-.01m0 -66.5h.01m0.5 2.5h-.01m0 26h.01m0 -74h-.01m0 1.5h.01m0 10h-.01m0 32.5h.01m0.5 -37h-.01m0 159h.01m0 -78.5h-.01m0 -5h.01m0 37h-.01m0 -2h.01m0 18h-.01m0.5 21.5h.01m0 -110h-.01m0 42.5h.01m0 -65.5h-.01m0 15.5h.01m0 102h-.01m0 -78h.01m0.5 19h-.01m0 -5h.01m0 -32h-.01m0 -20h.01m0 82.5h-.01m0 -6.5h.01m0 20h-.01m0 -51.5h.01m0 -46.5h-.01m0 -1.5h.01m0 134.5h-.01m0.5 -105.5h.01m0 84h-.01m0 -50.5h.01m0 48h-.01m0 -47.5h.01m0 44h-.01m0 -15h.01m0 -36h-.01m0 -24h.01m0 -29.5h-.01m0 32h.01m0.5 37.5h-.01m0 -77h.01m0 51h-.01m0 -19h.01m0 -0.5h-.01m0 71.5h.01m0.5 -71.5h-.01m0 22.5h.01m0 40.5h-.01m0 11h.01m0 -82h-.01m0 123h.01m0 -64h-.01m0 -10.5h.01m0 -81.5h-.01m0 43h.01m0.5 -26.5h-.01m0 64.5h.01m0 -14h-.01m0 -40h.01m0 67h-.01m0 -56.5h.01m0 -40h-.01m0 136h.01m0 -81h-.01" stroke="#3c54a4" stroke-width="6.1" stroke-linecap="round" fill="none"/>
<path d="M1170.5 2150.5h.01m19.5 -73h-.01m8.5 22.5h.01m0 22h-.01m0.5 -64h.01m2 10h-.01m2.5 -4.5h.01m9.5 -0.5h-.01m1 22.5h.01m2.5 29.5h-.01m1 -17h.01m2 -31h-.01m1.5 29h.01m6 75.5h-.01m2 -173h.01m2 58.5h-.01m0 112h.01m1.5 -38h-.01m3.5 -98.5h.01m2 -8.5h-.01m3 -13h.01m0 31.5h-.01m1.5 -9h.01m1 117.5h-.01m0.5 -29.5h.01m0 14h-.01m3 -78.5h.01m3.5 140h-.01m0.5 -107h.01m1 -25h-.01m2 -0.5h.01m0 -5.5h-.01m0 48h.01m0.5 -21h-.01m1.5 -66h.01m0 12.5h-.01m1 69h.01m0.5 11.5h-.01m2 -39h.01m0 -3h-.01m0.5 38h.01m2.5 -45h-.01m0.5 31.5h.01m1 -28h-.01m0 21h.01m0 39h-.01m2 -70.5h.01m2 14.5h-.01m0.5 -22.5h.01m0.5 46h-.01m5.5 -47.5h.01m3.5 128h-.01m0.5 -21h.01m0.5 -36.5h-.01m0.5 -43h.01m2.5 11h-.01m0.5 -88.5h.01m0.5 132.5h-.01m3.5 8h.01m0.5 -59h-.01m0 14.5h.01m1 -16.5h-.01m0 -19h.01m3 61h-.01m0.5 8h.01m1.5 -85.5h-.01m1 59h.01m1.5 -13.5h-.01m0.5 30h.01m0.5 -53.5h-.01m3.5 -12.5h.01m0.5 93h-.01m2.5 -60h.01m0 -37.5h-.01m1.5 -2.5h.01m0 76.5h-.01m0.5 -64.5h.01m2 73.5h-.01m2.5 -11.5h.01m0.5 -123h-.01m0 60h.01m0.5 30.5h-.01m0 -32h.01m0.5 -12.5h-.01m1.5 73.5h.01m0 -20h-.01m2.5 23h.01m0.5 -34h-.01m0 -77.5h.01m1 37h-.01m1 37h.01m1 -83.5h-.01m0 149.5h.01m1 -24.5h-.01m0 -22h.01m1.5 -55h-.01m1.5 39h.01m0.5 -17.5h-.01m4.5 5h.01m0.5 -28h-.01m4.5 68.5h.01m4.5 -50h-.01m3.5 15.5h.01m0.5 21.5h-.01m1 -0.5h.01m3 -50h-.01m0.5 82h.01m1 -32h-.01m1.5 -18h.01m0.5 0.5h-.01m1 5h.01m0 -64.5h-.01m0 30.5h.01m1 42h-.01m5 35h.01m0 -115h-.01m0 90h.01m0.5 -15.5h-.01m1 -8.5h.01m5 28h-.01m6.5 -38.5h.01m2 35.5h-.01m0.5 58.5h.01m1 -57h-.01m2.5 7h.01m4 -17.5h-.01m0.5 -96.5h.01m8.5 34h-.01m1 -27.5h.01" stroke="#5bbd7b" stroke-width="6.1" stroke-linecap="round" fill="none"/>
<rect x="1129.5" y="1754.1" width="508.9" height="464.3" fill="none" stroke="#000" stroke-width="1.8"/>
<path d="M1214.5 2219.4v3M1128.5 2122.2h-3M1349.1 2219.4v3M1128.5 2006.2h-3M1483.7 2219.4v3M1128.5 1890.2h-3M1618.3 2219.4v3M1128.5 1774.2h-3" stroke="#bdbdbd" stroke-width="1" fill="none"/>
<text x="1214.5" y="2247.5" font-size="24.7" text-anchor="middle" textLength="34" lengthAdjust="spacingAndGlyphs">0.4</text>
<text x="1120.5" y="2130.7" font-size="25.8" text-anchor="end" textLength="33.5" lengthAdjust="spacingAndGlyphs">0.4</text>
<text x="1349.1" y="2247.5" font-size="24.7" text-anchor="middle" textLength="34" lengthAdjust="spacingAndGlyphs">0.6</text>
<text x="1120.5" y="2014.7" font-size="25.8" text-anchor="end" textLength="33.5" lengthAdjust="spacingAndGlyphs">0.6</text>
<text x="1483.7" y="2247.5" font-size="24.7" text-anchor="middle" textLength="34" lengthAdjust="spacingAndGlyphs">0.8</text>
<text x="1120.5" y="1898.7" font-size="25.8" text-anchor="end" textLength="33.5" lengthAdjust="spacingAndGlyphs">0.8</text>
<text x="1618.3" y="2247.5" font-size="24.7" text-anchor="middle" textLength="34" lengthAdjust="spacingAndGlyphs">1.0</text>
<text x="1120.5" y="1782.7" font-size="25.8" text-anchor="end" textLength="33.5" lengthAdjust="spacingAndGlyphs">1.0</text>
<text x="1266.4" y="2282.7" font-size="28.8" textLength="268.1" lengthAdjust="spacingAndGlyphs">High pH probability</text>
<text font-size="29.4" text-anchor="middle" textLength="347" lengthAdjust="spacingAndGlyphs" transform="translate(1071.5 1986) rotate(-90)">Long gradient probability</text>
<text x="1710.5" y="1843.5" font-size="28.8" textLength="288.8" lengthAdjust="spacingAndGlyphs">High pH vs Long grad.</text>
<text x="1710.5" y="1879.8" font-size="28.8" textLength="178.8" lengthAdjust="spacingAndGlyphs">classifications</text>
<circle cx="1725" cy="1916.1" r="14.7" fill="#ffd600"/>
<text x="1749.6" y="1926.7" font-size="28.8" textLength="159.2" lengthAdjust="spacingAndGlyphs">Same (3390)</text>
<circle cx="1725" cy="1953.5" r="14.7" fill="#ea2a2f"/>
<text x="1749.6" y="1964.2" font-size="28.8" textLength="186" lengthAdjust="spacingAndGlyphs">Different (264)</text>
<circle cx="1725" cy="1991.5" r="14.7" fill="#3c54a4"/>
<text x="1749.6" y="2002.2" font-size="28.8" textLength="251.4" lengthAdjust="spacingAndGlyphs">1 Unclassified (776)</text>
<circle cx="1725" cy="2030.2" r="14.7" fill="#5bbd7b"/>
<text x="1749.6" y="2040.2" font-size="28.8" textLength="251.4" lengthAdjust="spacingAndGlyphs">2 Unclassified (129)</text></g>
</svg>
</body></html>
